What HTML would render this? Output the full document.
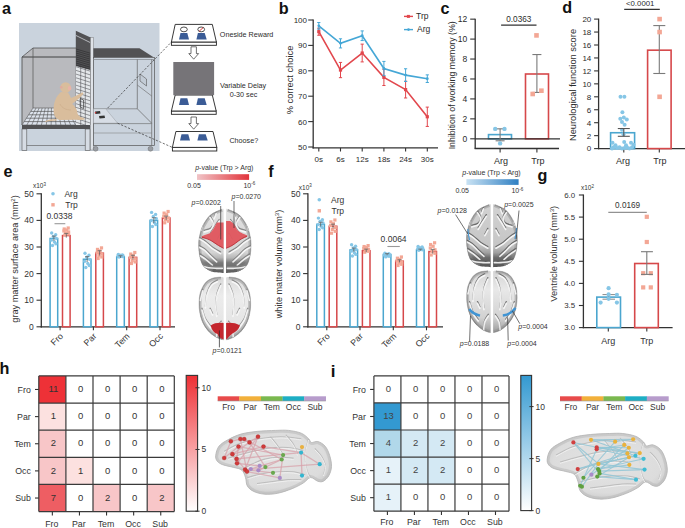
<!DOCTYPE html>
<html><head><meta charset="utf-8"><title>Figure</title>
<style>
html,body{margin:0;padding:0;background:#fff;}
body{width:685px;height:528px;overflow:hidden;}
svg{display:block;font-family:"Liberation Sans", sans-serif;}
</style></head>
<body>
<svg width="685" height="528" viewBox="0 0 685 528">
<rect x="0" y="0" width="685" height="528" fill="#ffffff"/>
<text x="2.00" y="13.60" font-size="16.2" text-anchor="start" fill="#111" font-weight="bold">a</text>
<rect x="19.00" y="23.00" width="140.50" height="128.00" fill="#cad3dd" stroke="none" stroke-width="1"/>
<rect x="33.00" y="48.00" width="43.00" height="60.00" fill="#b9babe" stroke="none" stroke-width="1"/>
<polygon points="22.00,57.00 33.00,48.00 33.00,108.00 22.00,125.00" fill="#b9babe" stroke="none" stroke-width="1"/>
<line x1="22.00" y1="57.00" x2="76.00" y2="57.00" stroke="#333" stroke-width="0.9"/>
<line x1="33.00" y1="48.00" x2="76.00" y2="48.00" stroke="#444" stroke-width="0.7"/>
<line x1="22.00" y1="57.00" x2="33.00" y2="48.00" stroke="#444" stroke-width="0.7"/>
<line x1="33.00" y1="48.00" x2="33.00" y2="108.00" stroke="#555" stroke-width="0.7"/>
<line x1="22.00" y1="57.00" x2="22.00" y2="125.00" stroke="#555" stroke-width="0.9"/>
<polygon points="33.00,108.00 76.00,108.00 90.00,125.00 22.00,125.00" fill="#dde3ec" stroke="#555" stroke-width="0.6"/>
<line x1="30.80" y1="111.40" x2="78.80" y2="111.40" stroke="#555" stroke-width="0.7"/>
<line x1="28.60" y1="114.80" x2="81.60" y2="114.80" stroke="#555" stroke-width="0.7"/>
<line x1="26.40" y1="118.20" x2="84.40" y2="118.20" stroke="#555" stroke-width="0.7"/>
<line x1="24.20" y1="121.60" x2="87.20" y2="121.60" stroke="#555" stroke-width="0.7"/>
<line x1="36.07" y1="108.00" x2="26.86" y2="125.00" stroke="#555" stroke-width="0.6"/>
<line x1="39.14" y1="108.00" x2="31.71" y2="125.00" stroke="#555" stroke-width="0.6"/>
<line x1="42.21" y1="108.00" x2="36.57" y2="125.00" stroke="#555" stroke-width="0.6"/>
<line x1="45.29" y1="108.00" x2="41.43" y2="125.00" stroke="#555" stroke-width="0.6"/>
<line x1="48.36" y1="108.00" x2="46.29" y2="125.00" stroke="#555" stroke-width="0.6"/>
<line x1="51.43" y1="108.00" x2="51.14" y2="125.00" stroke="#555" stroke-width="0.6"/>
<line x1="54.50" y1="108.00" x2="56.00" y2="125.00" stroke="#555" stroke-width="0.6"/>
<line x1="57.57" y1="108.00" x2="60.86" y2="125.00" stroke="#555" stroke-width="0.6"/>
<line x1="60.64" y1="108.00" x2="65.71" y2="125.00" stroke="#555" stroke-width="0.6"/>
<line x1="63.71" y1="108.00" x2="70.57" y2="125.00" stroke="#555" stroke-width="0.6"/>
<line x1="66.79" y1="108.00" x2="75.43" y2="125.00" stroke="#555" stroke-width="0.6"/>
<line x1="69.86" y1="108.00" x2="80.29" y2="125.00" stroke="#555" stroke-width="0.6"/>
<line x1="72.93" y1="108.00" x2="85.14" y2="125.00" stroke="#555" stroke-width="0.6"/>
<rect x="22.00" y="125.00" width="68.00" height="4.00" fill="#525254" stroke="none" stroke-width="1"/>
<rect x="22.00" y="129.00" width="4.80" height="21.50" fill="#d6dce4" stroke="#555" stroke-width="0.6"/>
<rect x="85.20" y="129.00" width="4.80" height="21.50" fill="#d6dce4" stroke="#555" stroke-width="0.6"/>
<line x1="26.80" y1="145.50" x2="85.20" y2="145.50" stroke="#555" stroke-width="0.6"/>
<polygon points="75.80,30.70 90.60,37.50 90.60,125.00 75.80,125.00" fill="#525254" stroke="none" stroke-width="1"/>
<polygon points="76.00,66.00 90.30,70.00 90.30,125.00 76.00,125.00" fill="#e4e7ea" stroke="none" stroke-width="1"/>
<line x1="76.00" y1="63.00" x2="90.30" y2="67.50" stroke="#4a4a4e" stroke-width="0.55"/>
<line x1="76.00" y1="66.70" x2="90.30" y2="71.20" stroke="#4a4a4e" stroke-width="0.55"/>
<line x1="76.00" y1="70.40" x2="90.30" y2="74.90" stroke="#4a4a4e" stroke-width="0.55"/>
<line x1="76.00" y1="74.10" x2="90.30" y2="78.60" stroke="#4a4a4e" stroke-width="0.55"/>
<line x1="76.00" y1="77.80" x2="90.30" y2="82.30" stroke="#4a4a4e" stroke-width="0.55"/>
<line x1="76.00" y1="81.50" x2="90.30" y2="86.00" stroke="#4a4a4e" stroke-width="0.55"/>
<line x1="76.00" y1="85.20" x2="90.30" y2="89.70" stroke="#4a4a4e" stroke-width="0.55"/>
<line x1="76.00" y1="88.90" x2="90.30" y2="93.40" stroke="#4a4a4e" stroke-width="0.55"/>
<line x1="76.00" y1="92.60" x2="90.30" y2="97.10" stroke="#4a4a4e" stroke-width="0.55"/>
<line x1="76.00" y1="96.30" x2="90.30" y2="100.80" stroke="#4a4a4e" stroke-width="0.55"/>
<line x1="76.00" y1="100.00" x2="90.30" y2="104.50" stroke="#4a4a4e" stroke-width="0.55"/>
<line x1="76.00" y1="103.70" x2="90.30" y2="108.20" stroke="#4a4a4e" stroke-width="0.55"/>
<line x1="76.00" y1="107.40" x2="90.30" y2="111.90" stroke="#4a4a4e" stroke-width="0.55"/>
<line x1="76.00" y1="111.10" x2="90.30" y2="115.60" stroke="#4a4a4e" stroke-width="0.55"/>
<line x1="76.00" y1="114.80" x2="90.30" y2="119.30" stroke="#4a4a4e" stroke-width="0.55"/>
<line x1="76.00" y1="118.50" x2="90.30" y2="123.00" stroke="#4a4a4e" stroke-width="0.55"/>
<line x1="76.00" y1="122.20" x2="90.30" y2="126.70" stroke="#4a4a4e" stroke-width="0.55"/>
<line x1="80.70" y1="64.00" x2="80.70" y2="125.00" stroke="#4a4a4e" stroke-width="0.55"/>
<line x1="85.30" y1="66.00" x2="85.30" y2="125.00" stroke="#4a4a4e" stroke-width="0.55"/>
<line x1="76.00" y1="49.00" x2="90.30" y2="53.20" stroke="#2a2a2c" stroke-width="0.6"/>
<line x1="76.00" y1="51.00" x2="90.30" y2="55.20" stroke="#2a2a2c" stroke-width="0.6"/>
<line x1="76.00" y1="53.00" x2="90.30" y2="57.20" stroke="#2a2a2c" stroke-width="0.6"/>
<line x1="76.00" y1="55.00" x2="90.30" y2="59.20" stroke="#2a2a2c" stroke-width="0.6"/>
<line x1="76.00" y1="57.00" x2="90.30" y2="61.20" stroke="#2a2a2c" stroke-width="0.6"/>
<line x1="76.00" y1="59.00" x2="90.30" y2="63.20" stroke="#2a2a2c" stroke-width="0.6"/>
<line x1="76.00" y1="61.00" x2="90.30" y2="65.20" stroke="#2a2a2c" stroke-width="0.6"/>
<line x1="76.00" y1="63.00" x2="90.30" y2="67.20" stroke="#2a2a2c" stroke-width="0.6"/>
<line x1="76.00" y1="65.00" x2="90.30" y2="69.20" stroke="#2a2a2c" stroke-width="0.6"/>
<line x1="76.00" y1="35.50" x2="90.30" y2="42.60" stroke="#dfe3e8" stroke-width="0.7"/>
<polygon points="80.20,98.50 83.60,100.00 83.60,108.60 80.20,107.00" fill="none" stroke="#333" stroke-width="0.7"/>
<rect x="90.60" y="37.50" width="2.80" height="112.50" fill="#dfe3e8" stroke="#666" stroke-width="0.4"/>
<polygon points="93.40,48.30 139.50,48.30 154.00,57.40 93.40,57.40" fill="#525254" stroke="none" stroke-width="1"/>
<rect x="93.40" y="57.40" width="61.00" height="88.10" fill="#cad3dd" stroke="#555" stroke-width="0.7"/>
<line x1="93.40" y1="59.50" x2="154.40" y2="59.50" stroke="#8a8f96" stroke-width="0.8"/>
<line x1="137.30" y1="59.50" x2="137.30" y2="108.80" stroke="#666" stroke-width="0.7"/>
<line x1="151.70" y1="59.50" x2="151.70" y2="145.50" stroke="#666" stroke-width="0.7"/>
<line x1="137.30" y1="108.80" x2="151.70" y2="123.20" stroke="#666" stroke-width="0.7"/>
<line x1="137.30" y1="85.00" x2="151.70" y2="96.00" stroke="#666" stroke-width="0.6"/>
<polygon points="140.00,74.00 146.50,79.00 146.50,86.00 140.00,81.00" fill="#c3ccd6" stroke="#555" stroke-width="0.6"/>
<line x1="93.40" y1="108.80" x2="137.30" y2="108.80" stroke="#666" stroke-width="0.6"/>
<polygon points="93.40,108.80 105.70,108.80 117.60,123.20 93.40,123.20" fill="#d7dde5" stroke="#8a8f96" stroke-width="0.4"/>
<line x1="93.40" y1="123.60" x2="151.70" y2="123.60" stroke="#666" stroke-width="0.6"/>
<line x1="93.40" y1="133.00" x2="151.70" y2="133.00" stroke="#777" stroke-width="0.5"/>
<polygon points="95.00,111.50 100.00,111.00 100.50,113.50 95.50,114.00" fill="#333" stroke="none" stroke-width="1"/>
<circle cx="95.50" cy="112.70" r="0.80" fill="#d33"/>
<polygon points="99.00,116.00 104.50,115.50 105.00,118.00 99.50,118.50" fill="#333" stroke="none" stroke-width="1"/>
<circle cx="95.60" cy="148.80" r="2.40" fill="#9a9ea4" stroke="#666" stroke-width="0.5"/>
<circle cx="150.50" cy="148.80" r="2.40" fill="#9a9ea4" stroke="#666" stroke-width="0.5"/>
<path d="M61,92 C56,96 53.5,103 53.6,110 C53.7,116 56,119.5 60,120 L76,119.8 C79,120 82,120 84.8,119.6 L84.3,118.2 C81,117.5 79,116.5 77.6,114 C77.6,110 75,106 72,104 L79,98.5 C80.5,97 82,95.5 83.5,93.8 L82.6,92.2 C79,94 75,96.5 71,98 C70,96 69,94 68,92.5 Z" fill="#d9bd9c" stroke="none" stroke-width="1"/>
<path d="M56.5,119 C52,119.3 47.5,119.6 45,121.3 L45.8,122 C48.5,121.2 52,120.8 57,120.6 Z" fill="#d9bd9c" stroke="none" stroke-width="1"/>
<circle cx="65.60" cy="87.60" r="5.30" fill="#d9bd9c"/>
<ellipse cx="69.6" cy="88.2" rx="1.7" ry="2.2" fill="#eab3a6"/>
<circle cx="61.20" cy="87.20" r="1.30" fill="#e0ab9f"/>
<path d="M60,104 C62,108 66,110 71,110" fill="none" stroke="#c7a784" stroke-width="0.5"/>
<line x1="107.70" y1="108.00" x2="171.40" y2="42.00" stroke="#333" stroke-width="0.7" stroke-dasharray="2.2,1.6"/>
<line x1="117.60" y1="123.20" x2="172.40" y2="147.40" stroke="#333" stroke-width="0.7" stroke-dasharray="2.2,1.6"/>
<rect x="171.40" y="42.00" width="45.00" height="3.30" fill="#fff" stroke="#222" stroke-width="0.9"/>
<polygon points="175.20,24.40 212.30,24.40 216.40,42.00 171.40,42.00" fill="#fff" stroke="#222" stroke-width="0.9"/>
<polygon points="180.50,32.90 187.30,32.90 189.00,39.50 179.00,39.50" fill="#3b5c96" stroke="none" stroke-width="1"/>
<polygon points="197.90,32.90 204.70,32.90 206.70,39.50 196.40,39.50" fill="#3b5c96" stroke="none" stroke-width="1"/>
<ellipse cx="183.9" cy="29.4" rx="3.4" ry="2.4" fill="#fff" stroke="#222" stroke-width="0.8"/>
<ellipse cx="201.2" cy="29.4" rx="3.4" ry="2.4" fill="#fff" stroke="#222" stroke-width="0.8"/>
<line x1="199.20" y1="31.20" x2="203.20" y2="27.60" stroke="#d22" stroke-width="0.9"/>
<polygon points="191.00,46.80 196.40,46.80 196.40,53.60 198.60,53.60 193.70,59.20 188.80,53.60 191.00,53.60" fill="#fff" stroke="#333" stroke-width="0.7"/>
<rect x="171.40" y="111.00" width="44.80" height="3.30" fill="#fff" stroke="#222" stroke-width="0.9"/>
<polygon points="175.20,95.00 212.30,95.00 216.20,111.00 171.40,111.00" fill="#fff" stroke="#222" stroke-width="0.9"/>
<polygon points="180.50,98.20 187.30,98.20 189.00,105.00 179.00,105.00" fill="#3b5c96" stroke="none" stroke-width="1"/>
<polygon points="197.90,98.20 204.70,98.20 206.70,105.00 196.40,105.00" fill="#3b5c96" stroke="none" stroke-width="1"/>
<rect x="173.30" y="62.00" width="40.80" height="33.20" fill="#767478" stroke="none" stroke-width="1"/>
<polygon points="191.00,117.00 196.40,117.00 196.40,123.60 198.60,123.60 193.70,129.20 188.80,123.60 191.00,123.60" fill="#fff" stroke="#333" stroke-width="0.7"/>
<rect x="172.40" y="147.40" width="44.40" height="3.60" fill="#fff" stroke="#222" stroke-width="0.9"/>
<polygon points="175.90,131.50 213.00,131.50 216.80,147.40 172.40,147.40" fill="#fff" stroke="#222" stroke-width="0.9"/>
<polygon points="181.50,134.20 188.30,134.20 190.00,140.60 180.00,140.60" fill="#3b5c96" stroke="none" stroke-width="1"/>
<polygon points="198.90,134.20 205.70,134.20 207.70,140.60 197.40,140.60" fill="#3b5c96" stroke="none" stroke-width="1"/>
<text x="219.80" y="36.80" font-size="7.2" text-anchor="start" fill="#2b2b2b" font-weight="normal">Oneside Reward</text>
<text x="243.00" y="88.20" font-size="7.2" text-anchor="middle" fill="#2b2b2b" font-weight="normal">Variable Delay</text>
<text x="243.50" y="96.60" font-size="7.2" text-anchor="middle" fill="#2b2b2b" font-weight="normal">0-30 sec</text>
<text x="243.80" y="142.60" font-size="7.2" text-anchor="middle" fill="#2b2b2b" font-weight="normal">Choose?</text>
<text x="278.80" y="13.80" font-size="16.2" text-anchor="start" fill="#111" font-weight="bold">b</text>
<line x1="313.20" y1="19.50" x2="313.20" y2="148.50" stroke="#333333" stroke-width="1.3"/>
<line x1="312.50" y1="147.90" x2="438.00" y2="147.90" stroke="#333333" stroke-width="1.3"/>
<line x1="308.20" y1="147.00" x2="313.20" y2="147.00" stroke="#333333" stroke-width="1.1"/>
<text x="307.00" y="149.90" font-size="8" text-anchor="end" fill="#2b2b2b" font-weight="normal">50</text>
<line x1="308.20" y1="121.60" x2="313.20" y2="121.60" stroke="#333333" stroke-width="1.1"/>
<text x="307.00" y="124.50" font-size="8" text-anchor="end" fill="#2b2b2b" font-weight="normal">60</text>
<line x1="308.20" y1="96.20" x2="313.20" y2="96.20" stroke="#333333" stroke-width="1.1"/>
<text x="307.00" y="99.10" font-size="8" text-anchor="end" fill="#2b2b2b" font-weight="normal">70</text>
<line x1="308.20" y1="70.80" x2="313.20" y2="70.80" stroke="#333333" stroke-width="1.1"/>
<text x="307.00" y="73.70" font-size="8" text-anchor="end" fill="#2b2b2b" font-weight="normal">80</text>
<line x1="308.20" y1="45.40" x2="313.20" y2="45.40" stroke="#333333" stroke-width="1.1"/>
<text x="307.00" y="48.30" font-size="8" text-anchor="end" fill="#2b2b2b" font-weight="normal">90</text>
<line x1="308.20" y1="20.00" x2="313.20" y2="20.00" stroke="#333333" stroke-width="1.1"/>
<text x="307.00" y="22.90" font-size="8" text-anchor="end" fill="#2b2b2b" font-weight="normal">100</text>
<line x1="318.80" y1="147.90" x2="318.80" y2="151.50" stroke="#333333" stroke-width="1.1"/>
<text x="318.80" y="162.00" font-size="8" text-anchor="middle" fill="#2b2b2b" font-weight="normal">0s</text>
<line x1="340.50" y1="147.90" x2="340.50" y2="151.50" stroke="#333333" stroke-width="1.1"/>
<text x="340.50" y="162.00" font-size="8" text-anchor="middle" fill="#2b2b2b" font-weight="normal">6s</text>
<line x1="362.20" y1="147.90" x2="362.20" y2="151.50" stroke="#333333" stroke-width="1.1"/>
<text x="362.20" y="162.00" font-size="8" text-anchor="middle" fill="#2b2b2b" font-weight="normal">12s</text>
<line x1="383.90" y1="147.90" x2="383.90" y2="151.50" stroke="#333333" stroke-width="1.1"/>
<text x="383.90" y="162.00" font-size="8" text-anchor="middle" fill="#2b2b2b" font-weight="normal">18s</text>
<line x1="405.60" y1="147.90" x2="405.60" y2="151.50" stroke="#333333" stroke-width="1.1"/>
<text x="405.60" y="162.00" font-size="8" text-anchor="middle" fill="#2b2b2b" font-weight="normal">24s</text>
<line x1="427.30" y1="147.90" x2="427.30" y2="151.50" stroke="#333333" stroke-width="1.1"/>
<text x="427.30" y="162.00" font-size="8" text-anchor="middle" fill="#2b2b2b" font-weight="normal">30s</text>
<text x="293.40" y="80.00" font-size="9.3" text-anchor="middle" fill="#2b2b2b" font-weight="normal" transform="rotate(-90 293.4 80)">% correct choice</text>
<polyline points="318.80,31.68 340.50,70.04 362.20,53.02 383.90,77.40 405.60,89.60 427.30,116.77" fill="none" stroke="#e2474d" stroke-width="1.6"/>
<line x1="318.80" y1="28.13" x2="318.80" y2="35.24" stroke="#e2474d" stroke-width="1"/>
<line x1="317.20" y1="28.13" x2="320.40" y2="28.13" stroke="#e2474d" stroke-width="1"/>
<line x1="317.20" y1="35.24" x2="320.40" y2="35.24" stroke="#e2474d" stroke-width="1"/>
<rect x="317.20" y="30.08" width="3.20" height="3.20" fill="#e2474d" stroke="none" stroke-width="1"/>
<line x1="340.50" y1="62.42" x2="340.50" y2="77.66" stroke="#e2474d" stroke-width="1"/>
<line x1="338.90" y1="62.42" x2="342.10" y2="62.42" stroke="#e2474d" stroke-width="1"/>
<line x1="338.90" y1="77.66" x2="342.10" y2="77.66" stroke="#e2474d" stroke-width="1"/>
<rect x="338.90" y="68.44" width="3.20" height="3.20" fill="#e2474d" stroke="none" stroke-width="1"/>
<line x1="362.20" y1="44.13" x2="362.20" y2="61.91" stroke="#e2474d" stroke-width="1"/>
<line x1="360.60" y1="44.13" x2="363.80" y2="44.13" stroke="#e2474d" stroke-width="1"/>
<line x1="360.60" y1="61.91" x2="363.80" y2="61.91" stroke="#e2474d" stroke-width="1"/>
<rect x="360.60" y="51.42" width="3.20" height="3.20" fill="#e2474d" stroke="none" stroke-width="1"/>
<line x1="383.90" y1="69.28" x2="383.90" y2="85.53" stroke="#e2474d" stroke-width="1"/>
<line x1="382.30" y1="69.28" x2="385.50" y2="69.28" stroke="#e2474d" stroke-width="1"/>
<line x1="382.30" y1="85.53" x2="385.50" y2="85.53" stroke="#e2474d" stroke-width="1"/>
<rect x="382.30" y="75.80" width="3.20" height="3.20" fill="#e2474d" stroke="none" stroke-width="1"/>
<line x1="405.60" y1="81.21" x2="405.60" y2="97.98" stroke="#e2474d" stroke-width="1"/>
<line x1="404.00" y1="81.21" x2="407.20" y2="81.21" stroke="#e2474d" stroke-width="1"/>
<line x1="404.00" y1="97.98" x2="407.20" y2="97.98" stroke="#e2474d" stroke-width="1"/>
<rect x="404.00" y="88.00" width="3.20" height="3.20" fill="#e2474d" stroke="none" stroke-width="1"/>
<line x1="427.30" y1="107.12" x2="427.30" y2="126.43" stroke="#e2474d" stroke-width="1"/>
<line x1="425.70" y1="107.12" x2="428.90" y2="107.12" stroke="#e2474d" stroke-width="1"/>
<line x1="425.70" y1="126.43" x2="428.90" y2="126.43" stroke="#e2474d" stroke-width="1"/>
<rect x="425.70" y="115.17" width="3.20" height="3.20" fill="#e2474d" stroke="none" stroke-width="1"/>
<polyline points="318.80,25.84 340.50,43.37 362.20,35.75 383.90,68.51 405.60,75.12 427.30,78.67" fill="none" stroke="#45a7d6" stroke-width="1.6"/>
<line x1="318.80" y1="22.54" x2="318.80" y2="29.14" stroke="#45a7d6" stroke-width="1"/>
<line x1="317.20" y1="22.54" x2="320.40" y2="22.54" stroke="#45a7d6" stroke-width="1"/>
<line x1="317.20" y1="29.14" x2="320.40" y2="29.14" stroke="#45a7d6" stroke-width="1"/>
<circle cx="318.80" cy="25.84" r="1.40" fill="#45a7d6"/>
<line x1="340.50" y1="38.80" x2="340.50" y2="47.94" stroke="#45a7d6" stroke-width="1"/>
<line x1="338.90" y1="38.80" x2="342.10" y2="38.80" stroke="#45a7d6" stroke-width="1"/>
<line x1="338.90" y1="47.94" x2="342.10" y2="47.94" stroke="#45a7d6" stroke-width="1"/>
<circle cx="340.50" cy="43.37" r="1.40" fill="#45a7d6"/>
<line x1="362.20" y1="30.92" x2="362.20" y2="40.57" stroke="#45a7d6" stroke-width="1"/>
<line x1="360.60" y1="30.92" x2="363.80" y2="30.92" stroke="#45a7d6" stroke-width="1"/>
<line x1="360.60" y1="40.57" x2="363.80" y2="40.57" stroke="#45a7d6" stroke-width="1"/>
<circle cx="362.20" cy="35.75" r="1.40" fill="#45a7d6"/>
<line x1="383.90" y1="61.40" x2="383.90" y2="75.63" stroke="#45a7d6" stroke-width="1"/>
<line x1="382.30" y1="61.40" x2="385.50" y2="61.40" stroke="#45a7d6" stroke-width="1"/>
<line x1="382.30" y1="75.63" x2="385.50" y2="75.63" stroke="#45a7d6" stroke-width="1"/>
<circle cx="383.90" cy="68.51" r="1.40" fill="#45a7d6"/>
<line x1="405.60" y1="68.77" x2="405.60" y2="81.47" stroke="#45a7d6" stroke-width="1"/>
<line x1="404.00" y1="68.77" x2="407.20" y2="68.77" stroke="#45a7d6" stroke-width="1"/>
<line x1="404.00" y1="81.47" x2="407.20" y2="81.47" stroke="#45a7d6" stroke-width="1"/>
<circle cx="405.60" cy="75.12" r="1.40" fill="#45a7d6"/>
<line x1="427.30" y1="74.86" x2="427.30" y2="82.48" stroke="#45a7d6" stroke-width="1"/>
<line x1="425.70" y1="74.86" x2="428.90" y2="74.86" stroke="#45a7d6" stroke-width="1"/>
<line x1="425.70" y1="82.48" x2="428.90" y2="82.48" stroke="#45a7d6" stroke-width="1"/>
<circle cx="427.30" cy="78.67" r="1.40" fill="#45a7d6"/>
<line x1="404.00" y1="16.40" x2="413.00" y2="16.40" stroke="#e2474d" stroke-width="1.4"/>
<rect x="406.90" y="14.90" width="3.00" height="3.00" fill="#e2474d" stroke="none" stroke-width="1"/>
<text x="416.00" y="18.90" font-size="8.5" text-anchor="start" fill="#2b2b2b" font-weight="normal">Trp</text>
<line x1="404.00" y1="29.60" x2="413.00" y2="29.60" stroke="#45a7d6" stroke-width="1.4"/>
<circle cx="408.50" cy="29.60" r="1.30" fill="#45a7d6"/>
<text x="417.00" y="31.60" font-size="8.5" text-anchor="start" fill="#2b2b2b" font-weight="normal">Arg</text>
<text x="440.50" y="13.80" font-size="16.2" text-anchor="start" fill="#111" font-weight="bold">c</text>
<line x1="475.20" y1="18.66" x2="475.20" y2="148.80" stroke="#333333" stroke-width="1.3"/>
<line x1="474.60" y1="148.50" x2="559.00" y2="148.50" stroke="#333333" stroke-width="1.3"/>
<line x1="470.20" y1="138.80" x2="475.20" y2="138.80" stroke="#333333" stroke-width="1.1"/>
<text x="467.20" y="141.80" font-size="8.5" text-anchor="end" fill="#2b2b2b" font-weight="normal">0</text>
<line x1="470.20" y1="118.86" x2="475.20" y2="118.86" stroke="#333333" stroke-width="1.1"/>
<text x="467.20" y="121.86" font-size="8.5" text-anchor="end" fill="#2b2b2b" font-weight="normal">2</text>
<line x1="470.20" y1="98.92" x2="475.20" y2="98.92" stroke="#333333" stroke-width="1.1"/>
<text x="467.20" y="101.92" font-size="8.5" text-anchor="end" fill="#2b2b2b" font-weight="normal">4</text>
<line x1="470.20" y1="78.98" x2="475.20" y2="78.98" stroke="#333333" stroke-width="1.1"/>
<text x="467.20" y="81.98" font-size="8.5" text-anchor="end" fill="#2b2b2b" font-weight="normal">6</text>
<line x1="470.20" y1="59.04" x2="475.20" y2="59.04" stroke="#333333" stroke-width="1.1"/>
<text x="467.20" y="62.04" font-size="8.5" text-anchor="end" fill="#2b2b2b" font-weight="normal">8</text>
<line x1="470.20" y1="39.10" x2="475.20" y2="39.10" stroke="#333333" stroke-width="1.1"/>
<text x="467.20" y="42.10" font-size="8.5" text-anchor="end" fill="#2b2b2b" font-weight="normal">10</text>
<line x1="470.20" y1="19.16" x2="475.20" y2="19.16" stroke="#333333" stroke-width="1.1"/>
<text x="467.20" y="22.16" font-size="8.5" text-anchor="end" fill="#2b2b2b" font-weight="normal">12</text>
<line x1="500.10" y1="148.50" x2="500.10" y2="152.50" stroke="#333333" stroke-width="1.1"/>
<text x="501.10" y="164.00" font-size="9" text-anchor="middle" fill="#2b2b2b" font-weight="normal">Arg</text>
<line x1="536.90" y1="148.50" x2="536.90" y2="152.50" stroke="#333333" stroke-width="1.1"/>
<text x="537.90" y="164.00" font-size="9" text-anchor="middle" fill="#2b2b2b" font-weight="normal">Trp</text>
<text x="455.30" y="85.30" font-size="8.8" text-anchor="middle" fill="#2b2b2b" font-weight="normal" transform="rotate(-90 455.3 85.3)">Inhibition of working memory (%)</text>
<rect x="488.50" y="134.61" width="23.00" height="4.19" fill="none" stroke="#4ba6cf" stroke-width="1.6"/>
<rect x="525.50" y="74.00" width="23.00" height="64.81" fill="none" stroke="#d6484a" stroke-width="1.6"/>
<line x1="475.20" y1="138.80" x2="560.00" y2="138.80" stroke="#333333" stroke-width="1.3"/>
<line x1="500.10" y1="128.83" x2="500.10" y2="140.79" stroke="#7a7a7a" stroke-width="1.1"/>
<line x1="495.60" y1="128.83" x2="504.60" y2="128.83" stroke="#7a7a7a" stroke-width="1.1"/>
<line x1="495.60" y1="140.79" x2="504.60" y2="140.79" stroke="#7a7a7a" stroke-width="1.1"/>
<line x1="536.90" y1="54.55" x2="536.90" y2="92.44" stroke="#7a7a7a" stroke-width="1.1"/>
<line x1="532.40" y1="54.55" x2="541.40" y2="54.55" stroke="#7a7a7a" stroke-width="1.1"/>
<line x1="532.40" y1="92.44" x2="541.40" y2="92.44" stroke="#7a7a7a" stroke-width="1.1"/>
<circle cx="495.20" cy="128.90" r="2.20" fill="#86c6e6"/>
<circle cx="504.50" cy="128.90" r="2.20" fill="#86c6e6"/>
<circle cx="500.10" cy="143.40" r="2.20" fill="#86c6e6"/>
<rect x="534.20" y="33.10" width="4.60" height="4.60" fill="#f3a795" stroke="none" stroke-width="1"/>
<rect x="530.40" y="91.70" width="4.60" height="4.60" fill="#f3a795" stroke="none" stroke-width="1"/>
<rect x="539.10" y="88.40" width="4.60" height="4.60" fill="#f3a795" stroke="none" stroke-width="1"/>
<line x1="501.10" y1="25.10" x2="536.50" y2="25.10" stroke="#333333" stroke-width="1.2"/>
<text x="518.80" y="21.60" font-size="8.2" text-anchor="middle" fill="#2b2b2b" font-weight="normal">0.0363</text>
<text x="562.30" y="13.00" font-size="16.2" text-anchor="start" fill="#111" font-weight="bold">d</text>
<line x1="598.60" y1="18.60" x2="598.60" y2="149.20" stroke="#333333" stroke-width="1.3"/>
<line x1="598.00" y1="148.60" x2="685.00" y2="148.60" stroke="#333333" stroke-width="1.3"/>
<line x1="594.10" y1="148.60" x2="598.60" y2="148.60" stroke="#333333" stroke-width="1.1"/>
<text x="591.30" y="151.45" font-size="8" text-anchor="end" fill="#2b2b2b" font-weight="normal">0</text>
<line x1="594.10" y1="135.65" x2="598.60" y2="135.65" stroke="#333333" stroke-width="1.1"/>
<text x="591.30" y="138.50" font-size="8" text-anchor="end" fill="#2b2b2b" font-weight="normal">2</text>
<line x1="594.10" y1="122.70" x2="598.60" y2="122.70" stroke="#333333" stroke-width="1.1"/>
<text x="591.30" y="125.55" font-size="8" text-anchor="end" fill="#2b2b2b" font-weight="normal">4</text>
<line x1="594.10" y1="109.75" x2="598.60" y2="109.75" stroke="#333333" stroke-width="1.1"/>
<text x="591.30" y="112.60" font-size="8" text-anchor="end" fill="#2b2b2b" font-weight="normal">6</text>
<line x1="594.10" y1="96.80" x2="598.60" y2="96.80" stroke="#333333" stroke-width="1.1"/>
<text x="591.30" y="99.65" font-size="8" text-anchor="end" fill="#2b2b2b" font-weight="normal">8</text>
<line x1="594.10" y1="83.85" x2="598.60" y2="83.85" stroke="#333333" stroke-width="1.1"/>
<text x="591.30" y="86.70" font-size="8" text-anchor="end" fill="#2b2b2b" font-weight="normal">10</text>
<line x1="594.10" y1="70.90" x2="598.60" y2="70.90" stroke="#333333" stroke-width="1.1"/>
<text x="591.30" y="73.75" font-size="8" text-anchor="end" fill="#2b2b2b" font-weight="normal">12</text>
<line x1="594.10" y1="57.95" x2="598.60" y2="57.95" stroke="#333333" stroke-width="1.1"/>
<text x="591.30" y="60.80" font-size="8" text-anchor="end" fill="#2b2b2b" font-weight="normal">14</text>
<line x1="594.10" y1="45.00" x2="598.60" y2="45.00" stroke="#333333" stroke-width="1.1"/>
<text x="591.30" y="47.85" font-size="8" text-anchor="end" fill="#2b2b2b" font-weight="normal">16</text>
<line x1="594.10" y1="32.05" x2="598.60" y2="32.05" stroke="#333333" stroke-width="1.1"/>
<text x="591.30" y="34.90" font-size="8" text-anchor="end" fill="#2b2b2b" font-weight="normal">18</text>
<line x1="594.10" y1="19.10" x2="598.60" y2="19.10" stroke="#333333" stroke-width="1.1"/>
<text x="591.30" y="21.95" font-size="8" text-anchor="end" fill="#2b2b2b" font-weight="normal">20</text>
<line x1="623.80" y1="148.60" x2="623.80" y2="152.60" stroke="#333333" stroke-width="1.1"/>
<text x="623.10" y="163.80" font-size="9" text-anchor="middle" fill="#2b2b2b" font-weight="normal">Arg</text>
<line x1="659.30" y1="148.60" x2="659.30" y2="152.60" stroke="#333333" stroke-width="1.1"/>
<text x="659.90" y="163.80" font-size="9" text-anchor="middle" fill="#2b2b2b" font-weight="normal">Trp</text>
<text x="576.30" y="85.00" font-size="9.3" text-anchor="middle" fill="#2b2b2b" font-weight="normal" transform="rotate(-90 576.3 85)">Neurological function score</text>
<rect x="610.60" y="132.74" width="24.00" height="15.86" fill="none" stroke="#4ba6cf" stroke-width="1.6"/>
<rect x="647.60" y="50.18" width="23.50" height="98.42" fill="none" stroke="#d6484a" stroke-width="1.6"/>
<circle cx="620.50" cy="96.80" r="2.00" fill="#86c6e6"/>
<circle cx="624.40" cy="96.80" r="2.00" fill="#86c6e6"/>
<circle cx="622.40" cy="112.34" r="2.00" fill="#86c6e6"/>
<circle cx="620.30" cy="118.81" r="2.00" fill="#86c6e6"/>
<circle cx="623.80" cy="117.52" r="2.00" fill="#86c6e6"/>
<circle cx="626.80" cy="119.46" r="2.00" fill="#86c6e6"/>
<circle cx="622.00" cy="122.05" r="2.00" fill="#86c6e6"/>
<circle cx="624.60" cy="124.64" r="2.00" fill="#86c6e6"/>
<circle cx="622.00" cy="129.82" r="2.00" fill="#86c6e6"/>
<circle cx="623.50" cy="134.35" r="2.00" fill="#86c6e6"/>
<circle cx="624.20" cy="142.12" r="2.00" fill="#86c6e6"/>
<circle cx="612.50" cy="142.77" r="2.00" fill="#86c6e6"/>
<circle cx="615.50" cy="145.36" r="2.00" fill="#86c6e6"/>
<circle cx="613.50" cy="147.31" r="2.00" fill="#86c6e6"/>
<circle cx="617.00" cy="147.95" r="2.00" fill="#86c6e6"/>
<circle cx="619.50" cy="147.31" r="2.00" fill="#86c6e6"/>
<circle cx="622.00" cy="148.60" r="2.00" fill="#86c6e6"/>
<circle cx="624.50" cy="147.95" r="2.00" fill="#86c6e6"/>
<circle cx="627.00" cy="147.31" r="2.00" fill="#86c6e6"/>
<circle cx="629.50" cy="148.60" r="2.00" fill="#86c6e6"/>
<circle cx="632.00" cy="147.31" r="2.00" fill="#86c6e6"/>
<circle cx="633.50" cy="144.72" r="2.00" fill="#86c6e6"/>
<circle cx="631.00" cy="142.77" r="2.00" fill="#86c6e6"/>
<circle cx="612.00" cy="148.60" r="2.00" fill="#86c6e6"/>
<circle cx="626.00" cy="145.36" r="2.00" fill="#86c6e6"/>
<line x1="623.80" y1="128.53" x2="623.80" y2="136.30" stroke="#555" stroke-width="1.1"/>
<line x1="617.80" y1="128.53" x2="629.80" y2="128.53" stroke="#555" stroke-width="1.1"/>
<line x1="617.80" y1="136.30" x2="629.80" y2="136.30" stroke="#555" stroke-width="1.1"/>
<line x1="659.30" y1="25.58" x2="659.30" y2="73.49" stroke="#7a7a7a" stroke-width="1.1"/>
<line x1="653.30" y1="25.58" x2="665.30" y2="25.58" stroke="#7a7a7a" stroke-width="1.1"/>
<line x1="653.30" y1="73.49" x2="665.30" y2="73.49" stroke="#7a7a7a" stroke-width="1.1"/>
<rect x="657.30" y="16.80" width="4.60" height="4.60" fill="#f3a795" stroke="none" stroke-width="1"/>
<rect x="657.30" y="29.75" width="4.60" height="4.60" fill="#f3a795" stroke="none" stroke-width="1"/>
<rect x="657.30" y="94.50" width="4.60" height="4.60" fill="#f3a795" stroke="none" stroke-width="1"/>
<line x1="624.20" y1="9.30" x2="659.80" y2="9.30" stroke="#333333" stroke-width="1.2"/>
<text x="640.20" y="6.20" font-size="7.8" text-anchor="middle" fill="#2b2b2b" font-weight="normal">&lt;0.0001</text>
<text x="3.50" y="177.00" font-size="16.2" text-anchor="start" fill="#111" font-weight="bold">e</text>
<line x1="41.30" y1="193.30" x2="41.30" y2="327.40" stroke="#333333" stroke-width="1.3"/>
<line x1="40.70" y1="326.80" x2="175.00" y2="326.80" stroke="#333333" stroke-width="1.3"/>
<line x1="36.50" y1="326.80" x2="41.30" y2="326.80" stroke="#333333" stroke-width="1.1"/>
<text x="33.80" y="329.80" font-size="8.5" text-anchor="end" fill="#333" font-weight="normal">0</text>
<line x1="36.50" y1="300.20" x2="41.30" y2="300.20" stroke="#333333" stroke-width="1.1"/>
<text x="33.80" y="303.20" font-size="8.5" text-anchor="end" fill="#333" font-weight="normal">10</text>
<line x1="36.50" y1="273.60" x2="41.30" y2="273.60" stroke="#333333" stroke-width="1.1"/>
<text x="33.80" y="276.60" font-size="8.5" text-anchor="end" fill="#333" font-weight="normal">20</text>
<line x1="36.50" y1="247.00" x2="41.30" y2="247.00" stroke="#333333" stroke-width="1.1"/>
<text x="33.80" y="250.00" font-size="8.5" text-anchor="end" fill="#333" font-weight="normal">30</text>
<line x1="36.50" y1="220.40" x2="41.30" y2="220.40" stroke="#333333" stroke-width="1.1"/>
<text x="33.80" y="223.40" font-size="8.5" text-anchor="end" fill="#333" font-weight="normal">40</text>
<line x1="36.50" y1="193.80" x2="41.30" y2="193.80" stroke="#333333" stroke-width="1.1"/>
<text x="33.80" y="196.80" font-size="8.5" text-anchor="end" fill="#333" font-weight="normal">50</text>
<line x1="60.10" y1="326.80" x2="60.10" y2="330.30" stroke="#333333" stroke-width="1.1"/>
<line x1="93.40" y1="326.80" x2="93.40" y2="330.30" stroke="#333333" stroke-width="1.1"/>
<line x1="126.70" y1="326.80" x2="126.70" y2="330.30" stroke="#333333" stroke-width="1.1"/>
<line x1="160.00" y1="326.80" x2="160.00" y2="330.30" stroke="#333333" stroke-width="1.1"/>
<rect x="50.10" y="238.49" width="7.60" height="88.31" fill="#fff" stroke="#4ba6cf" stroke-width="1.5"/>
<rect x="62.50" y="235.56" width="7.60" height="91.24" fill="#fff" stroke="#d6484a" stroke-width="1.5"/>
<circle cx="51.70" cy="233.00" r="1.70" fill="#86c6e6"/>
<circle cx="55.70" cy="234.79" r="1.70" fill="#86c6e6"/>
<circle cx="53.40" cy="236.57" r="1.70" fill="#86c6e6"/>
<circle cx="56.30" cy="238.36" r="1.70" fill="#86c6e6"/>
<circle cx="51.40" cy="240.14" r="1.70" fill="#86c6e6"/>
<circle cx="54.50" cy="241.93" r="1.70" fill="#86c6e6"/>
<circle cx="55.90" cy="243.71" r="1.70" fill="#86c6e6"/>
<circle cx="52.50" cy="245.50" r="1.70" fill="#86c6e6"/>
<rect x="66.60" y="226.40" width="3.20" height="3.20" fill="#f3a795" stroke="none" stroke-width="1"/>
<rect x="62.60" y="227.40" width="3.20" height="3.20" fill="#f3a795" stroke="none" stroke-width="1"/>
<rect x="65.10" y="228.40" width="3.20" height="3.20" fill="#f3a795" stroke="none" stroke-width="1"/>
<rect x="62.30" y="229.40" width="3.20" height="3.20" fill="#f3a795" stroke="none" stroke-width="1"/>
<rect x="67.00" y="230.40" width="3.20" height="3.20" fill="#f3a795" stroke="none" stroke-width="1"/>
<rect x="64.00" y="231.40" width="3.20" height="3.20" fill="#f3a795" stroke="none" stroke-width="1"/>
<rect x="66.90" y="232.40" width="3.20" height="3.20" fill="#f3a795" stroke="none" stroke-width="1"/>
<rect x="63.20" y="233.40" width="3.20" height="3.20" fill="#f3a795" stroke="none" stroke-width="1"/>
<line x1="53.90" y1="236.09" x2="53.90" y2="240.88" stroke="#666" stroke-width="0.8"/>
<line x1="51.90" y1="236.09" x2="55.90" y2="236.09" stroke="#666" stroke-width="0.8"/>
<line x1="66.30" y1="233.43" x2="66.30" y2="237.69" stroke="#666" stroke-width="0.8"/>
<line x1="64.30" y1="233.43" x2="68.30" y2="233.43" stroke="#666" stroke-width="0.8"/>
<rect x="83.40" y="259.24" width="7.60" height="67.56" fill="#fff" stroke="#4ba6cf" stroke-width="1.5"/>
<rect x="95.80" y="253.12" width="7.60" height="73.68" fill="#fff" stroke="#d6484a" stroke-width="1.5"/>
<circle cx="85.00" cy="253.20" r="1.70" fill="#86c6e6"/>
<circle cx="89.00" cy="255.24" r="1.70" fill="#86c6e6"/>
<circle cx="86.70" cy="257.29" r="1.70" fill="#86c6e6"/>
<circle cx="89.60" cy="259.33" r="1.70" fill="#86c6e6"/>
<circle cx="84.70" cy="261.37" r="1.70" fill="#86c6e6"/>
<circle cx="87.80" cy="263.41" r="1.70" fill="#86c6e6"/>
<circle cx="89.20" cy="265.46" r="1.70" fill="#86c6e6"/>
<circle cx="85.80" cy="267.50" r="1.70" fill="#86c6e6"/>
<rect x="99.90" y="246.30" width="3.20" height="3.20" fill="#f3a795" stroke="none" stroke-width="1"/>
<rect x="95.90" y="247.81" width="3.20" height="3.20" fill="#f3a795" stroke="none" stroke-width="1"/>
<rect x="98.40" y="249.33" width="3.20" height="3.20" fill="#f3a795" stroke="none" stroke-width="1"/>
<rect x="95.60" y="250.84" width="3.20" height="3.20" fill="#f3a795" stroke="none" stroke-width="1"/>
<rect x="100.30" y="252.36" width="3.20" height="3.20" fill="#f3a795" stroke="none" stroke-width="1"/>
<rect x="97.30" y="253.87" width="3.20" height="3.20" fill="#f3a795" stroke="none" stroke-width="1"/>
<rect x="100.20" y="255.39" width="3.20" height="3.20" fill="#f3a795" stroke="none" stroke-width="1"/>
<rect x="96.50" y="256.90" width="3.20" height="3.20" fill="#f3a795" stroke="none" stroke-width="1"/>
<line x1="87.20" y1="256.58" x2="87.20" y2="261.90" stroke="#666" stroke-width="0.8"/>
<line x1="85.20" y1="256.58" x2="89.20" y2="256.58" stroke="#666" stroke-width="0.8"/>
<line x1="99.60" y1="250.72" x2="99.60" y2="255.51" stroke="#666" stroke-width="0.8"/>
<line x1="97.60" y1="250.72" x2="101.60" y2="250.72" stroke="#666" stroke-width="0.8"/>
<rect x="116.70" y="256.84" width="7.60" height="69.96" fill="#fff" stroke="#4ba6cf" stroke-width="1.5"/>
<rect x="129.10" y="257.37" width="7.60" height="69.43" fill="#fff" stroke="#d6484a" stroke-width="1.5"/>
<circle cx="118.30" cy="254.50" r="1.70" fill="#86c6e6"/>
<circle cx="122.30" cy="254.86" r="1.70" fill="#86c6e6"/>
<circle cx="120.00" cy="255.21" r="1.70" fill="#86c6e6"/>
<circle cx="122.90" cy="255.57" r="1.70" fill="#86c6e6"/>
<circle cx="118.00" cy="255.93" r="1.70" fill="#86c6e6"/>
<circle cx="121.10" cy="256.29" r="1.70" fill="#86c6e6"/>
<circle cx="122.50" cy="256.64" r="1.70" fill="#86c6e6"/>
<circle cx="119.10" cy="257.00" r="1.70" fill="#86c6e6"/>
<rect x="133.20" y="250.90" width="3.20" height="3.20" fill="#f3a795" stroke="none" stroke-width="1"/>
<rect x="129.20" y="252.47" width="3.20" height="3.20" fill="#f3a795" stroke="none" stroke-width="1"/>
<rect x="131.70" y="254.04" width="3.20" height="3.20" fill="#f3a795" stroke="none" stroke-width="1"/>
<rect x="128.90" y="255.61" width="3.20" height="3.20" fill="#f3a795" stroke="none" stroke-width="1"/>
<rect x="133.60" y="257.19" width="3.20" height="3.20" fill="#f3a795" stroke="none" stroke-width="1"/>
<rect x="130.60" y="258.76" width="3.20" height="3.20" fill="#f3a795" stroke="none" stroke-width="1"/>
<rect x="133.50" y="260.33" width="3.20" height="3.20" fill="#f3a795" stroke="none" stroke-width="1"/>
<rect x="129.80" y="261.90" width="3.20" height="3.20" fill="#f3a795" stroke="none" stroke-width="1"/>
<line x1="120.50" y1="255.78" x2="120.50" y2="257.91" stroke="#666" stroke-width="0.8"/>
<line x1="118.50" y1="255.78" x2="122.50" y2="255.78" stroke="#666" stroke-width="0.8"/>
<line x1="132.90" y1="255.25" x2="132.90" y2="259.50" stroke="#666" stroke-width="0.8"/>
<line x1="130.90" y1="255.25" x2="134.90" y2="255.25" stroke="#666" stroke-width="0.8"/>
<rect x="150.00" y="220.40" width="7.60" height="106.40" fill="#fff" stroke="#4ba6cf" stroke-width="1.5"/>
<rect x="162.40" y="218.01" width="7.60" height="108.79" fill="#fff" stroke="#d6484a" stroke-width="1.5"/>
<circle cx="151.60" cy="212.40" r="1.70" fill="#86c6e6"/>
<circle cx="155.60" cy="214.41" r="1.70" fill="#86c6e6"/>
<circle cx="153.30" cy="216.43" r="1.70" fill="#86c6e6"/>
<circle cx="156.20" cy="218.44" r="1.70" fill="#86c6e6"/>
<circle cx="151.30" cy="220.46" r="1.70" fill="#86c6e6"/>
<circle cx="154.40" cy="222.47" r="1.70" fill="#86c6e6"/>
<circle cx="155.80" cy="224.49" r="1.70" fill="#86c6e6"/>
<circle cx="152.40" cy="226.50" r="1.70" fill="#86c6e6"/>
<rect x="166.50" y="209.90" width="3.20" height="3.20" fill="#f3a795" stroke="none" stroke-width="1"/>
<rect x="162.50" y="211.51" width="3.20" height="3.20" fill="#f3a795" stroke="none" stroke-width="1"/>
<rect x="165.00" y="213.13" width="3.20" height="3.20" fill="#f3a795" stroke="none" stroke-width="1"/>
<rect x="162.20" y="214.74" width="3.20" height="3.20" fill="#f3a795" stroke="none" stroke-width="1"/>
<rect x="166.90" y="216.36" width="3.20" height="3.20" fill="#f3a795" stroke="none" stroke-width="1"/>
<rect x="163.90" y="217.97" width="3.20" height="3.20" fill="#f3a795" stroke="none" stroke-width="1"/>
<rect x="166.80" y="219.59" width="3.20" height="3.20" fill="#f3a795" stroke="none" stroke-width="1"/>
<rect x="163.10" y="221.20" width="3.20" height="3.20" fill="#f3a795" stroke="none" stroke-width="1"/>
<line x1="153.80" y1="217.74" x2="153.80" y2="223.06" stroke="#666" stroke-width="0.8"/>
<line x1="151.80" y1="217.74" x2="155.80" y2="217.74" stroke="#666" stroke-width="0.8"/>
<line x1="166.20" y1="216.14" x2="166.20" y2="219.87" stroke="#666" stroke-width="0.8"/>
<line x1="164.20" y1="216.14" x2="168.20" y2="216.14" stroke="#666" stroke-width="0.8"/>
<text x="63.70" y="336.70" font-size="8.8" text-anchor="end" fill="#333" font-weight="normal" transform="rotate(-45 63.7 336.7)">Fro</text>
<text x="97.00" y="336.70" font-size="8.8" text-anchor="end" fill="#333" font-weight="normal" transform="rotate(-45 97.0 336.7)">Par</text>
<text x="130.30" y="336.70" font-size="8.8" text-anchor="end" fill="#333" font-weight="normal" transform="rotate(-45 130.3 336.7)">Tem</text>
<text x="163.60" y="336.70" font-size="8.8" text-anchor="end" fill="#333" font-weight="normal" transform="rotate(-45 163.6 336.7)">Occ</text>
<text x="33.00" y="188.30" font-size="6.5" text-anchor="start" fill="#333" font-weight="normal">x10<tspan font-size="4.5" dy="-2.6">3</tspan></text>
<circle cx="53.00" cy="193.80" r="1.80" fill="#86c6e6"/>
<text x="64.40" y="197.10" font-size="8.5" text-anchor="start" fill="#333" font-weight="normal">Arg</text>
<rect x="51.30" y="203.10" width="3.40" height="3.40" fill="#f3a795" stroke="none" stroke-width="1"/>
<text x="65.30" y="208.10" font-size="8.5" text-anchor="start" fill="#333" font-weight="normal">Trp</text>
<text x="59.40" y="218.60" font-size="8.5" text-anchor="middle" fill="#333" font-weight="normal">0.0338</text>
<line x1="54.50" y1="223.70" x2="65.30" y2="223.70" stroke="#999" stroke-width="1.1"/>
<text x="17.60" y="259.00" font-size="9.2" text-anchor="middle" fill="#333" font-weight="normal" transform="rotate(-90 17.6 259)">gray matter surface area (mm<tspan font-size="6" dy="-3">2</tspan><tspan dy="3">)</tspan></text>
<text x="268.30" y="177.00" font-size="16.2" text-anchor="start" fill="#111" font-weight="bold">f</text>
<line x1="307.90" y1="193.30" x2="307.90" y2="327.40" stroke="#333333" stroke-width="1.3"/>
<line x1="307.30" y1="326.80" x2="443.00" y2="326.80" stroke="#333333" stroke-width="1.3"/>
<line x1="303.10" y1="326.80" x2="307.90" y2="326.80" stroke="#333333" stroke-width="1.1"/>
<text x="300.40" y="329.80" font-size="8.5" text-anchor="end" fill="#333" font-weight="normal">0</text>
<line x1="303.10" y1="300.20" x2="307.90" y2="300.20" stroke="#333333" stroke-width="1.1"/>
<text x="300.40" y="303.20" font-size="8.5" text-anchor="end" fill="#333" font-weight="normal">10</text>
<line x1="303.10" y1="273.60" x2="307.90" y2="273.60" stroke="#333333" stroke-width="1.1"/>
<text x="300.40" y="276.60" font-size="8.5" text-anchor="end" fill="#333" font-weight="normal">20</text>
<line x1="303.10" y1="247.00" x2="307.90" y2="247.00" stroke="#333333" stroke-width="1.1"/>
<text x="300.40" y="250.00" font-size="8.5" text-anchor="end" fill="#333" font-weight="normal">30</text>
<line x1="303.10" y1="220.40" x2="307.90" y2="220.40" stroke="#333333" stroke-width="1.1"/>
<text x="300.40" y="223.40" font-size="8.5" text-anchor="end" fill="#333" font-weight="normal">40</text>
<line x1="303.10" y1="193.80" x2="307.90" y2="193.80" stroke="#333333" stroke-width="1.1"/>
<text x="300.40" y="196.80" font-size="8.5" text-anchor="end" fill="#333" font-weight="normal">50</text>
<line x1="326.80" y1="326.80" x2="326.80" y2="330.30" stroke="#333333" stroke-width="1.1"/>
<line x1="360.00" y1="326.80" x2="360.00" y2="330.30" stroke="#333333" stroke-width="1.1"/>
<line x1="393.30" y1="326.80" x2="393.30" y2="330.30" stroke="#333333" stroke-width="1.1"/>
<line x1="426.50" y1="326.80" x2="426.50" y2="330.30" stroke="#333333" stroke-width="1.1"/>
<rect x="316.80" y="224.39" width="7.60" height="102.41" fill="#fff" stroke="#4ba6cf" stroke-width="1.5"/>
<rect x="329.20" y="226.25" width="7.60" height="100.55" fill="#fff" stroke="#d6484a" stroke-width="1.5"/>
<circle cx="318.40" cy="218.10" r="1.70" fill="#86c6e6"/>
<circle cx="322.40" cy="219.73" r="1.70" fill="#86c6e6"/>
<circle cx="320.10" cy="221.36" r="1.70" fill="#86c6e6"/>
<circle cx="323.00" cy="222.99" r="1.70" fill="#86c6e6"/>
<circle cx="318.10" cy="224.61" r="1.70" fill="#86c6e6"/>
<circle cx="321.20" cy="226.24" r="1.70" fill="#86c6e6"/>
<circle cx="322.60" cy="227.87" r="1.70" fill="#86c6e6"/>
<circle cx="319.20" cy="229.50" r="1.70" fill="#86c6e6"/>
<rect x="333.30" y="218.40" width="3.20" height="3.20" fill="#f3a795" stroke="none" stroke-width="1"/>
<rect x="329.30" y="220.29" width="3.20" height="3.20" fill="#f3a795" stroke="none" stroke-width="1"/>
<rect x="331.80" y="222.17" width="3.20" height="3.20" fill="#f3a795" stroke="none" stroke-width="1"/>
<rect x="329.00" y="224.06" width="3.20" height="3.20" fill="#f3a795" stroke="none" stroke-width="1"/>
<rect x="333.70" y="225.94" width="3.20" height="3.20" fill="#f3a795" stroke="none" stroke-width="1"/>
<rect x="330.70" y="227.83" width="3.20" height="3.20" fill="#f3a795" stroke="none" stroke-width="1"/>
<rect x="333.60" y="229.71" width="3.20" height="3.20" fill="#f3a795" stroke="none" stroke-width="1"/>
<rect x="329.90" y="231.60" width="3.20" height="3.20" fill="#f3a795" stroke="none" stroke-width="1"/>
<line x1="320.60" y1="222.26" x2="320.60" y2="226.52" stroke="#666" stroke-width="0.8"/>
<line x1="318.60" y1="222.26" x2="322.60" y2="222.26" stroke="#666" stroke-width="0.8"/>
<line x1="333.00" y1="224.12" x2="333.00" y2="228.38" stroke="#666" stroke-width="0.8"/>
<line x1="331.00" y1="224.12" x2="335.00" y2="224.12" stroke="#666" stroke-width="0.8"/>
<rect x="350.00" y="249.93" width="7.60" height="76.87" fill="#fff" stroke="#4ba6cf" stroke-width="1.5"/>
<rect x="362.40" y="250.72" width="7.60" height="76.08" fill="#fff" stroke="#d6484a" stroke-width="1.5"/>
<circle cx="351.60" cy="244.70" r="1.70" fill="#86c6e6"/>
<circle cx="355.60" cy="246.31" r="1.70" fill="#86c6e6"/>
<circle cx="353.30" cy="247.93" r="1.70" fill="#86c6e6"/>
<circle cx="356.20" cy="249.54" r="1.70" fill="#86c6e6"/>
<circle cx="351.30" cy="251.16" r="1.70" fill="#86c6e6"/>
<circle cx="354.40" cy="252.77" r="1.70" fill="#86c6e6"/>
<circle cx="355.80" cy="254.39" r="1.70" fill="#86c6e6"/>
<circle cx="352.40" cy="256.00" r="1.70" fill="#86c6e6"/>
<rect x="366.50" y="244.00" width="3.20" height="3.20" fill="#f3a795" stroke="none" stroke-width="1"/>
<rect x="362.50" y="244.94" width="3.20" height="3.20" fill="#f3a795" stroke="none" stroke-width="1"/>
<rect x="365.00" y="245.89" width="3.20" height="3.20" fill="#f3a795" stroke="none" stroke-width="1"/>
<rect x="362.20" y="246.83" width="3.20" height="3.20" fill="#f3a795" stroke="none" stroke-width="1"/>
<rect x="366.90" y="247.77" width="3.20" height="3.20" fill="#f3a795" stroke="none" stroke-width="1"/>
<rect x="363.90" y="248.71" width="3.20" height="3.20" fill="#f3a795" stroke="none" stroke-width="1"/>
<rect x="366.80" y="249.66" width="3.20" height="3.20" fill="#f3a795" stroke="none" stroke-width="1"/>
<rect x="363.10" y="250.60" width="3.20" height="3.20" fill="#f3a795" stroke="none" stroke-width="1"/>
<line x1="353.80" y1="248.06" x2="353.80" y2="251.79" stroke="#666" stroke-width="0.8"/>
<line x1="351.80" y1="248.06" x2="355.80" y2="248.06" stroke="#666" stroke-width="0.8"/>
<line x1="366.20" y1="249.13" x2="366.20" y2="252.32" stroke="#666" stroke-width="0.8"/>
<line x1="364.20" y1="249.13" x2="368.20" y2="249.13" stroke="#666" stroke-width="0.8"/>
<rect x="383.30" y="254.45" width="7.60" height="72.35" fill="#fff" stroke="#4ba6cf" stroke-width="1.5"/>
<rect x="395.70" y="261.10" width="7.60" height="65.70" fill="#fff" stroke="#d6484a" stroke-width="1.5"/>
<circle cx="384.90" cy="253.20" r="1.70" fill="#86c6e6"/>
<circle cx="388.90" cy="253.73" r="1.70" fill="#86c6e6"/>
<circle cx="386.60" cy="254.26" r="1.70" fill="#86c6e6"/>
<circle cx="389.50" cy="254.79" r="1.70" fill="#86c6e6"/>
<circle cx="384.60" cy="255.31" r="1.70" fill="#86c6e6"/>
<circle cx="387.70" cy="255.84" r="1.70" fill="#86c6e6"/>
<circle cx="389.10" cy="256.37" r="1.70" fill="#86c6e6"/>
<circle cx="385.70" cy="256.90" r="1.70" fill="#86c6e6"/>
<rect x="399.80" y="255.40" width="3.20" height="3.20" fill="#f3a795" stroke="none" stroke-width="1"/>
<rect x="395.80" y="256.61" width="3.20" height="3.20" fill="#f3a795" stroke="none" stroke-width="1"/>
<rect x="398.30" y="257.83" width="3.20" height="3.20" fill="#f3a795" stroke="none" stroke-width="1"/>
<rect x="395.50" y="259.04" width="3.20" height="3.20" fill="#f3a795" stroke="none" stroke-width="1"/>
<rect x="400.20" y="260.26" width="3.20" height="3.20" fill="#f3a795" stroke="none" stroke-width="1"/>
<rect x="397.20" y="261.47" width="3.20" height="3.20" fill="#f3a795" stroke="none" stroke-width="1"/>
<rect x="400.10" y="262.69" width="3.20" height="3.20" fill="#f3a795" stroke="none" stroke-width="1"/>
<rect x="396.40" y="263.90" width="3.20" height="3.20" fill="#f3a795" stroke="none" stroke-width="1"/>
<line x1="387.10" y1="253.65" x2="387.10" y2="255.25" stroke="#666" stroke-width="0.8"/>
<line x1="385.10" y1="253.65" x2="389.10" y2="253.65" stroke="#666" stroke-width="0.8"/>
<line x1="399.50" y1="259.77" x2="399.50" y2="262.43" stroke="#666" stroke-width="0.8"/>
<line x1="397.50" y1="259.77" x2="401.50" y2="259.77" stroke="#666" stroke-width="0.8"/>
<rect x="416.50" y="249.93" width="7.60" height="76.87" fill="#fff" stroke="#4ba6cf" stroke-width="1.5"/>
<rect x="428.90" y="251.52" width="7.60" height="75.28" fill="#fff" stroke="#d6484a" stroke-width="1.5"/>
<circle cx="418.10" cy="246.50" r="1.70" fill="#86c6e6"/>
<circle cx="422.10" cy="247.04" r="1.70" fill="#86c6e6"/>
<circle cx="419.80" cy="247.59" r="1.70" fill="#86c6e6"/>
<circle cx="422.70" cy="248.13" r="1.70" fill="#86c6e6"/>
<circle cx="417.80" cy="248.67" r="1.70" fill="#86c6e6"/>
<circle cx="420.90" cy="249.21" r="1.70" fill="#86c6e6"/>
<circle cx="422.30" cy="249.76" r="1.70" fill="#86c6e6"/>
<circle cx="418.90" cy="250.30" r="1.70" fill="#86c6e6"/>
<rect x="433.00" y="241.20" width="3.20" height="3.20" fill="#f3a795" stroke="none" stroke-width="1"/>
<rect x="429.00" y="242.94" width="3.20" height="3.20" fill="#f3a795" stroke="none" stroke-width="1"/>
<rect x="431.50" y="244.69" width="3.20" height="3.20" fill="#f3a795" stroke="none" stroke-width="1"/>
<rect x="428.70" y="246.43" width="3.20" height="3.20" fill="#f3a795" stroke="none" stroke-width="1"/>
<rect x="433.40" y="248.17" width="3.20" height="3.20" fill="#f3a795" stroke="none" stroke-width="1"/>
<rect x="430.40" y="249.91" width="3.20" height="3.20" fill="#f3a795" stroke="none" stroke-width="1"/>
<rect x="433.30" y="251.66" width="3.20" height="3.20" fill="#f3a795" stroke="none" stroke-width="1"/>
<rect x="429.60" y="253.40" width="3.20" height="3.20" fill="#f3a795" stroke="none" stroke-width="1"/>
<line x1="420.30" y1="249.13" x2="420.30" y2="250.72" stroke="#666" stroke-width="0.8"/>
<line x1="418.30" y1="249.13" x2="422.30" y2="249.13" stroke="#666" stroke-width="0.8"/>
<line x1="432.70" y1="249.39" x2="432.70" y2="253.65" stroke="#666" stroke-width="0.8"/>
<line x1="430.70" y1="249.39" x2="434.70" y2="249.39" stroke="#666" stroke-width="0.8"/>
<text x="330.40" y="336.70" font-size="8.8" text-anchor="end" fill="#333" font-weight="normal" transform="rotate(-45 330.40000000000003 336.7)">Fro</text>
<text x="363.60" y="336.70" font-size="8.8" text-anchor="end" fill="#333" font-weight="normal" transform="rotate(-45 363.6 336.7)">Par</text>
<text x="396.90" y="336.70" font-size="8.8" text-anchor="end" fill="#333" font-weight="normal" transform="rotate(-45 396.90000000000003 336.7)">Tem</text>
<text x="430.10" y="336.70" font-size="8.8" text-anchor="end" fill="#333" font-weight="normal" transform="rotate(-45 430.1 336.7)">Occ</text>
<text x="298.80" y="189.50" font-size="6.5" text-anchor="start" fill="#333" font-weight="normal">x10<tspan font-size="4.5" dy="-2.6">3</tspan></text>
<circle cx="319.30" cy="199.80" r="1.80" fill="#86c6e6"/>
<text x="331.00" y="203.10" font-size="8.5" text-anchor="start" fill="#333" font-weight="normal">Arg</text>
<rect x="317.60" y="209.10" width="3.40" height="3.40" fill="#f3a795" stroke="none" stroke-width="1"/>
<text x="331.60" y="214.10" font-size="8.5" text-anchor="start" fill="#333" font-weight="normal">Trp</text>
<text x="393.60" y="241.60" font-size="8.5" text-anchor="middle" fill="#333" font-weight="normal">0.0064</text>
<line x1="387.40" y1="246.50" x2="399.80" y2="246.50" stroke="#999" stroke-width="1.1"/>
<text x="282.40" y="264.00" font-size="9.1" text-anchor="middle" fill="#333" font-weight="normal" transform="rotate(-90 282.4 264)">white matter volume (mm<tspan font-size="6" dy="-3">3</tspan><tspan dy="3">)</tspan></text>
<text x="537.60" y="180.80" font-size="16.2" text-anchor="start" fill="#111" font-weight="bold">g</text>
<line x1="583.40" y1="194.50" x2="583.40" y2="328.20" stroke="#333333" stroke-width="1.3"/>
<line x1="582.80" y1="327.60" x2="672.60" y2="327.60" stroke="#333333" stroke-width="1.3"/>
<line x1="578.90" y1="327.60" x2="583.40" y2="327.60" stroke="#333333" stroke-width="1.1"/>
<text x="575.20" y="330.40" font-size="7.9" text-anchor="end" fill="#333" font-weight="normal">3.0</text>
<line x1="578.90" y1="305.50" x2="583.40" y2="305.50" stroke="#333333" stroke-width="1.1"/>
<text x="575.20" y="308.30" font-size="7.9" text-anchor="end" fill="#333" font-weight="normal">3.5</text>
<line x1="578.90" y1="283.40" x2="583.40" y2="283.40" stroke="#333333" stroke-width="1.1"/>
<text x="575.20" y="286.20" font-size="7.9" text-anchor="end" fill="#333" font-weight="normal">4.0</text>
<line x1="578.90" y1="261.30" x2="583.40" y2="261.30" stroke="#333333" stroke-width="1.1"/>
<text x="575.20" y="264.10" font-size="7.9" text-anchor="end" fill="#333" font-weight="normal">4.5</text>
<line x1="578.90" y1="239.20" x2="583.40" y2="239.20" stroke="#333333" stroke-width="1.1"/>
<text x="575.20" y="242.00" font-size="7.9" text-anchor="end" fill="#333" font-weight="normal">5.0</text>
<line x1="578.90" y1="217.10" x2="583.40" y2="217.10" stroke="#333333" stroke-width="1.1"/>
<text x="575.20" y="219.90" font-size="7.9" text-anchor="end" fill="#333" font-weight="normal">5.5</text>
<line x1="578.90" y1="195.00" x2="583.40" y2="195.00" stroke="#333333" stroke-width="1.1"/>
<text x="575.20" y="197.80" font-size="7.9" text-anchor="end" fill="#333" font-weight="normal">6.0</text>
<line x1="608.30" y1="327.60" x2="608.30" y2="331.40" stroke="#333333" stroke-width="1.1"/>
<text x="608.30" y="344.00" font-size="9" text-anchor="middle" fill="#333" font-weight="normal">Arg</text>
<line x1="646.80" y1="327.60" x2="646.80" y2="331.40" stroke="#333333" stroke-width="1.1"/>
<text x="646.80" y="344.00" font-size="9" text-anchor="middle" fill="#333" font-weight="normal">Trp</text>
<text x="580.90" y="190.30" font-size="6.5" text-anchor="start" fill="#333" font-weight="normal">x10<tspan font-size="4.5" dy="-2.6">2</tspan></text>
<text x="557.20" y="253.80" font-size="9.3" text-anchor="middle" fill="#333" font-weight="normal" transform="rotate(-90 557.2 253.8)">Ventricle volume (mm<tspan font-size="6" dy="-3">3</tspan><tspan dy="3">)</tspan></text>
<rect x="596.80" y="297.10" width="23.70" height="30.50" fill="none" stroke="#4ba6cf" stroke-width="1.6"/>
<rect x="634.70" y="263.51" width="23.60" height="64.09" fill="none" stroke="#d6484a" stroke-width="1.6"/>
<line x1="608.60" y1="294.60" x2="608.60" y2="299.20" stroke="#888" stroke-width="1"/>
<line x1="602.50" y1="294.60" x2="615.00" y2="294.60" stroke="#888" stroke-width="1"/>
<line x1="602.50" y1="299.20" x2="615.00" y2="299.20" stroke="#888" stroke-width="1"/>
<circle cx="608.60" cy="288.20" r="2.10" fill="#86c6e6"/>
<circle cx="608.60" cy="294.40" r="2.10" fill="#86c6e6"/>
<circle cx="616.90" cy="294.80" r="2.10" fill="#86c6e6"/>
<circle cx="608.60" cy="298.80" r="2.10" fill="#86c6e6"/>
<circle cx="600.60" cy="302.60" r="2.10" fill="#86c6e6"/>
<circle cx="616.90" cy="302.60" r="2.10" fill="#86c6e6"/>
<rect x="644.70" y="214.70" width="4.20" height="4.20" fill="#f3a795" stroke="none" stroke-width="1"/>
<rect x="644.70" y="239.90" width="4.20" height="4.20" fill="#f3a795" stroke="none" stroke-width="1"/>
<rect x="641.10" y="271.10" width="4.20" height="4.20" fill="#f3a795" stroke="none" stroke-width="1"/>
<rect x="648.70" y="271.10" width="4.20" height="4.20" fill="#f3a795" stroke="none" stroke-width="1"/>
<rect x="641.10" y="285.30" width="4.20" height="4.20" fill="#f3a795" stroke="none" stroke-width="1"/>
<rect x="648.70" y="285.30" width="4.20" height="4.20" fill="#f3a795" stroke="none" stroke-width="1"/>
<line x1="646.80" y1="251.70" x2="646.80" y2="274.40" stroke="#7a7a7a" stroke-width="1.1"/>
<line x1="641.00" y1="251.70" x2="652.90" y2="251.70" stroke="#7a7a7a" stroke-width="1.1"/>
<line x1="641.00" y1="274.40" x2="652.90" y2="274.40" stroke="#7a7a7a" stroke-width="1.1"/>
<line x1="608.30" y1="212.30" x2="646.80" y2="212.30" stroke="#777" stroke-width="1"/>
<text x="627.60" y="207.70" font-size="8.2" text-anchor="middle" fill="#333" font-weight="normal">0.0169</text>
<text x="-0.60" y="373.80" font-size="16.2" text-anchor="start" fill="#111" font-weight="bold">h</text>
<rect x="38.80" y="375.90" width="27.10" height="27.14" fill="#ee3137" stroke="none" stroke-width="1"/>
<rect x="65.90" y="375.90" width="27.10" height="27.14" fill="#ffffff" stroke="none" stroke-width="1"/>
<rect x="93.00" y="375.90" width="27.10" height="27.14" fill="#ffffff" stroke="none" stroke-width="1"/>
<rect x="120.10" y="375.90" width="27.10" height="27.14" fill="#ffffff" stroke="none" stroke-width="1"/>
<rect x="147.20" y="375.90" width="27.10" height="27.14" fill="#ffffff" stroke="none" stroke-width="1"/>
<rect x="38.80" y="403.04" width="27.10" height="27.14" fill="#fce1e0" stroke="none" stroke-width="1"/>
<rect x="65.90" y="403.04" width="27.10" height="27.14" fill="#ffffff" stroke="none" stroke-width="1"/>
<rect x="93.00" y="403.04" width="27.10" height="27.14" fill="#ffffff" stroke="none" stroke-width="1"/>
<rect x="120.10" y="403.04" width="27.10" height="27.14" fill="#ffffff" stroke="none" stroke-width="1"/>
<rect x="147.20" y="403.04" width="27.10" height="27.14" fill="#ffffff" stroke="none" stroke-width="1"/>
<rect x="38.80" y="430.18" width="27.10" height="27.14" fill="#f8c6c8" stroke="none" stroke-width="1"/>
<rect x="65.90" y="430.18" width="27.10" height="27.14" fill="#ffffff" stroke="none" stroke-width="1"/>
<rect x="93.00" y="430.18" width="27.10" height="27.14" fill="#ffffff" stroke="none" stroke-width="1"/>
<rect x="120.10" y="430.18" width="27.10" height="27.14" fill="#ffffff" stroke="none" stroke-width="1"/>
<rect x="147.20" y="430.18" width="27.10" height="27.14" fill="#ffffff" stroke="none" stroke-width="1"/>
<rect x="38.80" y="457.32" width="27.10" height="27.14" fill="#f8c6c8" stroke="none" stroke-width="1"/>
<rect x="65.90" y="457.32" width="27.10" height="27.14" fill="#fce1e0" stroke="none" stroke-width="1"/>
<rect x="93.00" y="457.32" width="27.10" height="27.14" fill="#ffffff" stroke="none" stroke-width="1"/>
<rect x="120.10" y="457.32" width="27.10" height="27.14" fill="#ffffff" stroke="none" stroke-width="1"/>
<rect x="147.20" y="457.32" width="27.10" height="27.14" fill="#ffffff" stroke="none" stroke-width="1"/>
<rect x="38.80" y="484.46" width="27.10" height="27.14" fill="#ee5e63" stroke="none" stroke-width="1"/>
<rect x="65.90" y="484.46" width="27.10" height="27.14" fill="#ffffff" stroke="none" stroke-width="1"/>
<rect x="93.00" y="484.46" width="27.10" height="27.14" fill="#f8c6c8" stroke="none" stroke-width="1"/>
<rect x="120.10" y="484.46" width="27.10" height="27.14" fill="#ffffff" stroke="none" stroke-width="1"/>
<rect x="147.20" y="484.46" width="27.10" height="27.14" fill="#f8c6c8" stroke="none" stroke-width="1"/>
<line x1="38.80" y1="375.90" x2="38.80" y2="511.60" stroke="#3a3a3a" stroke-width="1.2"/>
<line x1="38.80" y1="375.90" x2="174.30" y2="375.90" stroke="#3a3a3a" stroke-width="1.2"/>
<line x1="65.90" y1="375.90" x2="65.90" y2="511.60" stroke="#3a3a3a" stroke-width="1.2"/>
<line x1="38.80" y1="403.04" x2="174.30" y2="403.04" stroke="#3a3a3a" stroke-width="1.2"/>
<line x1="93.00" y1="375.90" x2="93.00" y2="511.60" stroke="#3a3a3a" stroke-width="1.2"/>
<line x1="38.80" y1="430.18" x2="174.30" y2="430.18" stroke="#3a3a3a" stroke-width="1.2"/>
<line x1="120.10" y1="375.90" x2="120.10" y2="511.60" stroke="#3a3a3a" stroke-width="1.2"/>
<line x1="38.80" y1="457.32" x2="174.30" y2="457.32" stroke="#3a3a3a" stroke-width="1.2"/>
<line x1="147.20" y1="375.90" x2="147.20" y2="511.60" stroke="#3a3a3a" stroke-width="1.2"/>
<line x1="38.80" y1="484.46" x2="174.30" y2="484.46" stroke="#3a3a3a" stroke-width="1.2"/>
<line x1="174.30" y1="375.90" x2="174.30" y2="511.60" stroke="#3a3a3a" stroke-width="1.2"/>
<line x1="38.80" y1="511.60" x2="174.30" y2="511.60" stroke="#3a3a3a" stroke-width="1.2"/>
<text x="53.45" y="392.17" font-size="9.5" text-anchor="middle" fill="#333" font-weight="normal">11</text>
<text x="80.55" y="392.17" font-size="9.5" text-anchor="middle" fill="#333" font-weight="normal">0</text>
<text x="107.65" y="392.17" font-size="9.5" text-anchor="middle" fill="#333" font-weight="normal">0</text>
<text x="134.75" y="392.17" font-size="9.5" text-anchor="middle" fill="#333" font-weight="normal">0</text>
<text x="161.85" y="392.17" font-size="9.5" text-anchor="middle" fill="#333" font-weight="normal">0</text>
<text x="53.45" y="419.31" font-size="9.5" text-anchor="middle" fill="#333" font-weight="normal">1</text>
<text x="80.55" y="419.31" font-size="9.5" text-anchor="middle" fill="#333" font-weight="normal">0</text>
<text x="107.65" y="419.31" font-size="9.5" text-anchor="middle" fill="#333" font-weight="normal">0</text>
<text x="134.75" y="419.31" font-size="9.5" text-anchor="middle" fill="#333" font-weight="normal">0</text>
<text x="161.85" y="419.31" font-size="9.5" text-anchor="middle" fill="#333" font-weight="normal">0</text>
<text x="53.45" y="446.45" font-size="9.5" text-anchor="middle" fill="#333" font-weight="normal">2</text>
<text x="80.55" y="446.45" font-size="9.5" text-anchor="middle" fill="#333" font-weight="normal">0</text>
<text x="107.65" y="446.45" font-size="9.5" text-anchor="middle" fill="#333" font-weight="normal">0</text>
<text x="134.75" y="446.45" font-size="9.5" text-anchor="middle" fill="#333" font-weight="normal">0</text>
<text x="161.85" y="446.45" font-size="9.5" text-anchor="middle" fill="#333" font-weight="normal">0</text>
<text x="53.45" y="473.59" font-size="9.5" text-anchor="middle" fill="#333" font-weight="normal">2</text>
<text x="80.55" y="473.59" font-size="9.5" text-anchor="middle" fill="#333" font-weight="normal">1</text>
<text x="107.65" y="473.59" font-size="9.5" text-anchor="middle" fill="#333" font-weight="normal">0</text>
<text x="134.75" y="473.59" font-size="9.5" text-anchor="middle" fill="#333" font-weight="normal">0</text>
<text x="161.85" y="473.59" font-size="9.5" text-anchor="middle" fill="#333" font-weight="normal">0</text>
<text x="53.45" y="500.73" font-size="9.5" text-anchor="middle" fill="#333" font-weight="normal">7</text>
<text x="80.55" y="500.73" font-size="9.5" text-anchor="middle" fill="#333" font-weight="normal">0</text>
<text x="107.65" y="500.73" font-size="9.5" text-anchor="middle" fill="#333" font-weight="normal">2</text>
<text x="134.75" y="500.73" font-size="9.5" text-anchor="middle" fill="#333" font-weight="normal">0</text>
<text x="161.85" y="500.73" font-size="9.5" text-anchor="middle" fill="#333" font-weight="normal">2</text>
<line x1="35.00" y1="389.47" x2="38.80" y2="389.47" stroke="#333" stroke-width="1.1"/>
<text x="30.80" y="392.57" font-size="8.8" text-anchor="end" fill="#333" font-weight="normal">Fro</text>
<line x1="35.00" y1="416.61" x2="38.80" y2="416.61" stroke="#333" stroke-width="1.1"/>
<text x="30.80" y="419.71" font-size="8.8" text-anchor="end" fill="#333" font-weight="normal">Par</text>
<line x1="35.00" y1="443.75" x2="38.80" y2="443.75" stroke="#333" stroke-width="1.1"/>
<text x="30.80" y="446.85" font-size="8.8" text-anchor="end" fill="#333" font-weight="normal">Tem</text>
<line x1="35.00" y1="470.89" x2="38.80" y2="470.89" stroke="#333" stroke-width="1.1"/>
<text x="30.80" y="473.99" font-size="8.8" text-anchor="end" fill="#333" font-weight="normal">Occ</text>
<line x1="35.00" y1="498.03" x2="38.80" y2="498.03" stroke="#333" stroke-width="1.1"/>
<text x="30.80" y="501.13" font-size="8.8" text-anchor="end" fill="#333" font-weight="normal">Sub</text>
<line x1="52.35" y1="511.60" x2="52.35" y2="515.40" stroke="#333" stroke-width="1.1"/>
<line x1="79.45" y1="511.60" x2="79.45" y2="515.40" stroke="#333" stroke-width="1.1"/>
<line x1="106.55" y1="511.60" x2="106.55" y2="515.40" stroke="#333" stroke-width="1.1"/>
<line x1="133.65" y1="511.60" x2="133.65" y2="515.40" stroke="#333" stroke-width="1.1"/>
<line x1="160.75" y1="511.60" x2="160.75" y2="515.40" stroke="#333" stroke-width="1.1"/>
<text x="51.75" y="526.80" font-size="8.8" text-anchor="middle" fill="#333" font-weight="normal">Fro</text>
<text x="78.85" y="526.80" font-size="8.8" text-anchor="middle" fill="#333" font-weight="normal">Par</text>
<text x="105.95" y="526.80" font-size="8.8" text-anchor="middle" fill="#333" font-weight="normal">Tem</text>
<text x="133.05" y="526.80" font-size="8.8" text-anchor="middle" fill="#333" font-weight="normal">Occ</text>
<text x="160.15" y="526.80" font-size="8.8" text-anchor="middle" fill="#333" font-weight="normal">Sub</text>
<defs><linearGradient id="gh" x1="0" y1="1" x2="0" y2="0"><stop offset="0" stop-color="#ffffff"/><stop offset="1" stop-color="#ee3035"/></linearGradient></defs>
<rect x="186.20" y="375.40" width="11.40" height="135.80" fill="url(#gh)" stroke="#333" stroke-width="1.1"/>
<line x1="195.40" y1="511.20" x2="199.60" y2="511.20" stroke="#333" stroke-width="1"/>
<text x="201.60" y="514.20" font-size="8.5" text-anchor="start" fill="#333" font-weight="normal">0</text>
<line x1="195.40" y1="449.47" x2="199.60" y2="449.47" stroke="#333" stroke-width="1"/>
<text x="201.60" y="452.47" font-size="8.5" text-anchor="start" fill="#333" font-weight="normal">5</text>
<line x1="195.40" y1="387.75" x2="199.60" y2="387.75" stroke="#333" stroke-width="1"/>
<text x="201.60" y="390.75" font-size="8.5" text-anchor="start" fill="#333" font-weight="normal">10</text>
<rect x="217.70" y="396.30" width="21.82" height="4.70" fill="#e84a4a" stroke="none" stroke-width="1"/>
<text x="228.51" y="410.30" font-size="8.5" text-anchor="middle" fill="#333" font-weight="normal">Fro</text>
<rect x="239.32" y="396.30" width="21.82" height="4.70" fill="#f2b03a" stroke="none" stroke-width="1"/>
<text x="250.13" y="410.30" font-size="8.5" text-anchor="middle" fill="#333" font-weight="normal">Par</text>
<rect x="260.94" y="396.30" width="21.82" height="4.70" fill="#7ab84f" stroke="none" stroke-width="1"/>
<text x="271.75" y="410.30" font-size="8.5" text-anchor="middle" fill="#333" font-weight="normal">Tem</text>
<rect x="282.56" y="396.30" width="21.82" height="4.70" fill="#1eaec4" stroke="none" stroke-width="1"/>
<text x="293.37" y="410.30" font-size="8.5" text-anchor="middle" fill="#333" font-weight="normal">Occ</text>
<rect x="304.18" y="396.30" width="21.82" height="4.70" fill="#b79ccc" stroke="none" stroke-width="1"/>
<text x="314.99" y="410.30" font-size="8.5" text-anchor="middle" fill="#333" font-weight="normal">Sub</text>
<line x1="217.70" y1="401.00" x2="325.80" y2="401.00" stroke="#999" stroke-width="0.6"/>
<text x="330.8" y="376.8" font-size="17" font-weight="bold" fill="#111">i</text>
<rect x="373.90" y="375.90" width="27.02" height="27.06" fill="#ffffff" stroke="none" stroke-width="1"/>
<rect x="400.92" y="375.90" width="27.02" height="27.06" fill="#ffffff" stroke="none" stroke-width="1"/>
<rect x="427.94" y="375.90" width="27.02" height="27.06" fill="#ffffff" stroke="none" stroke-width="1"/>
<rect x="454.96" y="375.90" width="27.02" height="27.06" fill="#ffffff" stroke="none" stroke-width="1"/>
<rect x="481.98" y="375.90" width="27.02" height="27.06" fill="#ffffff" stroke="none" stroke-width="1"/>
<rect x="373.90" y="402.96" width="27.02" height="27.06" fill="#3399d1" stroke="none" stroke-width="1"/>
<rect x="400.92" y="402.96" width="27.02" height="27.06" fill="#ffffff" stroke="none" stroke-width="1"/>
<rect x="427.94" y="402.96" width="27.02" height="27.06" fill="#ffffff" stroke="none" stroke-width="1"/>
<rect x="454.96" y="402.96" width="27.02" height="27.06" fill="#ffffff" stroke="none" stroke-width="1"/>
<rect x="481.98" y="402.96" width="27.02" height="27.06" fill="#ffffff" stroke="none" stroke-width="1"/>
<rect x="373.90" y="430.02" width="27.02" height="27.06" fill="#b1d8ea" stroke="none" stroke-width="1"/>
<rect x="400.92" y="430.02" width="27.02" height="27.06" fill="#d4e9f4" stroke="none" stroke-width="1"/>
<rect x="427.94" y="430.02" width="27.02" height="27.06" fill="#d4e9f4" stroke="none" stroke-width="1"/>
<rect x="454.96" y="430.02" width="27.02" height="27.06" fill="#ffffff" stroke="none" stroke-width="1"/>
<rect x="481.98" y="430.02" width="27.02" height="27.06" fill="#ffffff" stroke="none" stroke-width="1"/>
<rect x="373.90" y="457.08" width="27.02" height="27.06" fill="#e6f2f9" stroke="none" stroke-width="1"/>
<rect x="400.92" y="457.08" width="27.02" height="27.06" fill="#d4e9f4" stroke="none" stroke-width="1"/>
<rect x="427.94" y="457.08" width="27.02" height="27.06" fill="#d4e9f4" stroke="none" stroke-width="1"/>
<rect x="454.96" y="457.08" width="27.02" height="27.06" fill="#ffffff" stroke="none" stroke-width="1"/>
<rect x="481.98" y="457.08" width="27.02" height="27.06" fill="#ffffff" stroke="none" stroke-width="1"/>
<rect x="373.90" y="484.14" width="27.02" height="27.06" fill="#e6f2f9" stroke="none" stroke-width="1"/>
<rect x="400.92" y="484.14" width="27.02" height="27.06" fill="#ffffff" stroke="none" stroke-width="1"/>
<rect x="427.94" y="484.14" width="27.02" height="27.06" fill="#ffffff" stroke="none" stroke-width="1"/>
<rect x="454.96" y="484.14" width="27.02" height="27.06" fill="#ffffff" stroke="none" stroke-width="1"/>
<rect x="481.98" y="484.14" width="27.02" height="27.06" fill="#ffffff" stroke="none" stroke-width="1"/>
<line x1="373.90" y1="375.90" x2="373.90" y2="511.20" stroke="#3a3a3a" stroke-width="1.2"/>
<line x1="373.90" y1="375.90" x2="509.00" y2="375.90" stroke="#3a3a3a" stroke-width="1.2"/>
<line x1="400.92" y1="375.90" x2="400.92" y2="511.20" stroke="#3a3a3a" stroke-width="1.2"/>
<line x1="373.90" y1="402.96" x2="509.00" y2="402.96" stroke="#3a3a3a" stroke-width="1.2"/>
<line x1="427.94" y1="375.90" x2="427.94" y2="511.20" stroke="#3a3a3a" stroke-width="1.2"/>
<line x1="373.90" y1="430.02" x2="509.00" y2="430.02" stroke="#3a3a3a" stroke-width="1.2"/>
<line x1="454.96" y1="375.90" x2="454.96" y2="511.20" stroke="#3a3a3a" stroke-width="1.2"/>
<line x1="373.90" y1="457.08" x2="509.00" y2="457.08" stroke="#3a3a3a" stroke-width="1.2"/>
<line x1="481.98" y1="375.90" x2="481.98" y2="511.20" stroke="#3a3a3a" stroke-width="1.2"/>
<line x1="373.90" y1="484.14" x2="509.00" y2="484.14" stroke="#3a3a3a" stroke-width="1.2"/>
<line x1="509.00" y1="375.90" x2="509.00" y2="511.20" stroke="#3a3a3a" stroke-width="1.2"/>
<line x1="373.90" y1="511.20" x2="509.00" y2="511.20" stroke="#3a3a3a" stroke-width="1.2"/>
<text x="388.51" y="392.13" font-size="9.5" text-anchor="middle" fill="#444" font-weight="normal">0</text>
<text x="415.53" y="392.13" font-size="9.5" text-anchor="middle" fill="#444" font-weight="normal">0</text>
<text x="442.55" y="392.13" font-size="9.5" text-anchor="middle" fill="#444" font-weight="normal">0</text>
<text x="469.57" y="392.13" font-size="9.5" text-anchor="middle" fill="#444" font-weight="normal">0</text>
<text x="496.59" y="392.13" font-size="9.5" text-anchor="middle" fill="#444" font-weight="normal">0</text>
<text x="388.51" y="419.19" font-size="9.5" text-anchor="middle" fill="#444" font-weight="normal">13</text>
<text x="415.53" y="419.19" font-size="9.5" text-anchor="middle" fill="#444" font-weight="normal">0</text>
<text x="442.55" y="419.19" font-size="9.5" text-anchor="middle" fill="#444" font-weight="normal">0</text>
<text x="469.57" y="419.19" font-size="9.5" text-anchor="middle" fill="#444" font-weight="normal">0</text>
<text x="496.59" y="419.19" font-size="9.5" text-anchor="middle" fill="#444" font-weight="normal">0</text>
<text x="388.51" y="446.25" font-size="9.5" text-anchor="middle" fill="#444" font-weight="normal">4</text>
<text x="415.53" y="446.25" font-size="9.5" text-anchor="middle" fill="#444" font-weight="normal">2</text>
<text x="442.55" y="446.25" font-size="9.5" text-anchor="middle" fill="#444" font-weight="normal">2</text>
<text x="469.57" y="446.25" font-size="9.5" text-anchor="middle" fill="#444" font-weight="normal">0</text>
<text x="496.59" y="446.25" font-size="9.5" text-anchor="middle" fill="#444" font-weight="normal">0</text>
<text x="388.51" y="473.31" font-size="9.5" text-anchor="middle" fill="#444" font-weight="normal">1</text>
<text x="415.53" y="473.31" font-size="9.5" text-anchor="middle" fill="#444" font-weight="normal">2</text>
<text x="442.55" y="473.31" font-size="9.5" text-anchor="middle" fill="#444" font-weight="normal">2</text>
<text x="469.57" y="473.31" font-size="9.5" text-anchor="middle" fill="#444" font-weight="normal">0</text>
<text x="496.59" y="473.31" font-size="9.5" text-anchor="middle" fill="#444" font-weight="normal">0</text>
<text x="388.51" y="500.37" font-size="9.5" text-anchor="middle" fill="#444" font-weight="normal">1</text>
<text x="415.53" y="500.37" font-size="9.5" text-anchor="middle" fill="#444" font-weight="normal">0</text>
<text x="442.55" y="500.37" font-size="9.5" text-anchor="middle" fill="#444" font-weight="normal">0</text>
<text x="469.57" y="500.37" font-size="9.5" text-anchor="middle" fill="#444" font-weight="normal">0</text>
<text x="496.59" y="500.37" font-size="9.5" text-anchor="middle" fill="#444" font-weight="normal">0</text>
<line x1="370.10" y1="389.43" x2="373.90" y2="389.43" stroke="#333" stroke-width="1.1"/>
<text x="365.90" y="392.53" font-size="8.8" text-anchor="end" fill="#333" font-weight="normal">Fro</text>
<line x1="370.10" y1="416.49" x2="373.90" y2="416.49" stroke="#333" stroke-width="1.1"/>
<text x="365.90" y="419.59" font-size="8.8" text-anchor="end" fill="#333" font-weight="normal">Par</text>
<line x1="370.10" y1="443.55" x2="373.90" y2="443.55" stroke="#333" stroke-width="1.1"/>
<text x="365.90" y="446.65" font-size="8.8" text-anchor="end" fill="#333" font-weight="normal">Tem</text>
<line x1="370.10" y1="470.61" x2="373.90" y2="470.61" stroke="#333" stroke-width="1.1"/>
<text x="365.90" y="473.71" font-size="8.8" text-anchor="end" fill="#333" font-weight="normal">Occ</text>
<line x1="370.10" y1="497.67" x2="373.90" y2="497.67" stroke="#333" stroke-width="1.1"/>
<text x="365.90" y="500.77" font-size="8.8" text-anchor="end" fill="#333" font-weight="normal">Sub</text>
<line x1="387.41" y1="511.20" x2="387.41" y2="515.00" stroke="#333" stroke-width="1.1"/>
<line x1="414.43" y1="511.20" x2="414.43" y2="515.00" stroke="#333" stroke-width="1.1"/>
<line x1="441.45" y1="511.20" x2="441.45" y2="515.00" stroke="#333" stroke-width="1.1"/>
<line x1="468.47" y1="511.20" x2="468.47" y2="515.00" stroke="#333" stroke-width="1.1"/>
<line x1="495.49" y1="511.20" x2="495.49" y2="515.00" stroke="#333" stroke-width="1.1"/>
<text x="386.81" y="524.70" font-size="8.8" text-anchor="middle" fill="#333" font-weight="normal">Fro</text>
<text x="413.83" y="524.70" font-size="8.8" text-anchor="middle" fill="#333" font-weight="normal">Par</text>
<text x="440.85" y="524.70" font-size="8.8" text-anchor="middle" fill="#333" font-weight="normal">Tem</text>
<text x="467.87" y="524.70" font-size="8.8" text-anchor="middle" fill="#333" font-weight="normal">Occ</text>
<text x="494.89" y="524.70" font-size="8.8" text-anchor="middle" fill="#333" font-weight="normal">Sub</text>
<defs><linearGradient id="gi" x1="0" y1="1" x2="0" y2="0"><stop offset="0" stop-color="#ffffff"/><stop offset="1" stop-color="#3399d1"/></linearGradient></defs>
<rect x="520.80" y="375.40" width="10.80" height="135.20" fill="url(#gi)" stroke="#333" stroke-width="1.1"/>
<line x1="529.40" y1="510.60" x2="533.60" y2="510.60" stroke="#333" stroke-width="1"/>
<text x="535.60" y="513.60" font-size="8.5" text-anchor="start" fill="#333" font-weight="normal">0</text>
<line x1="529.40" y1="458.60" x2="533.60" y2="458.60" stroke="#333" stroke-width="1"/>
<text x="535.60" y="461.60" font-size="8.5" text-anchor="start" fill="#333" font-weight="normal">5</text>
<line x1="529.40" y1="406.60" x2="533.60" y2="406.60" stroke="#333" stroke-width="1"/>
<text x="535.60" y="409.60" font-size="8.5" text-anchor="start" fill="#333" font-weight="normal">10</text>
<rect x="560.00" y="396.30" width="21.90" height="4.70" fill="#e84a4a" stroke="none" stroke-width="1"/>
<text x="570.85" y="410.30" font-size="8.5" text-anchor="middle" fill="#333" font-weight="normal">Fro</text>
<rect x="581.70" y="396.30" width="21.90" height="4.70" fill="#f2b03a" stroke="none" stroke-width="1"/>
<text x="592.55" y="410.30" font-size="8.5" text-anchor="middle" fill="#333" font-weight="normal">Par</text>
<rect x="603.40" y="396.30" width="21.90" height="4.70" fill="#7ab84f" stroke="none" stroke-width="1"/>
<text x="614.25" y="410.30" font-size="8.5" text-anchor="middle" fill="#333" font-weight="normal">Tem</text>
<rect x="625.10" y="396.30" width="21.90" height="4.70" fill="#1eaec4" stroke="none" stroke-width="1"/>
<text x="635.95" y="410.30" font-size="8.5" text-anchor="middle" fill="#333" font-weight="normal">Occ</text>
<rect x="646.80" y="396.30" width="21.90" height="4.70" fill="#b79ccc" stroke="none" stroke-width="1"/>
<text x="657.65" y="410.30" font-size="8.5" text-anchor="middle" fill="#333" font-weight="normal">Sub</text>
<line x1="560.00" y1="401.00" x2="668.50" y2="401.00" stroke="#999" stroke-width="0.6"/>
<defs>
<linearGradient id="bgT1" x1="0" y1="0" x2="0" y2="1"><stop offset="0" stop-color="#e2e2e2"/><stop offset="0.68" stop-color="#d4d4d4"/><stop offset="0.76" stop-color="#b8b8b8"/><stop offset="0.84" stop-color="#7a7a7a"/><stop offset="1" stop-color="#5c5c5c"/></linearGradient>
<linearGradient id="bgB1" x1="0" y1="0" x2="0" y2="1"><stop offset="0" stop-color="#dadada"/><stop offset="0.3" stop-color="#ececec"/><stop offset="0.8" stop-color="#e4e4e4"/><stop offset="1" stop-color="#b0b0b0"/></linearGradient>
<linearGradient id="bgT2" x1="0" y1="0" x2="0" y2="1"><stop offset="0" stop-color="#d2d2d2"/><stop offset="0.65" stop-color="#c6c6c6"/><stop offset="0.77" stop-color="#a0a0a0"/><stop offset="0.85" stop-color="#6a6a6a"/><stop offset="1" stop-color="#555555"/></linearGradient>
<linearGradient id="bgB2" x1="0" y1="0" x2="0" y2="1"><stop offset="0" stop-color="#d4d4d4"/><stop offset="0.3" stop-color="#e8e8e8"/><stop offset="0.75" stop-color="#d2d2d2"/><stop offset="1" stop-color="#9a9a9a"/></linearGradient>
<linearGradient id="pr" x1="0" y1="0" x2="1" y2="0"><stop offset="0" stop-color="#f0c4c7"/><stop offset="1" stop-color="#e2343b"/></linearGradient>
<linearGradient id="pb" x1="0" y1="0" x2="1" y2="0"><stop offset="0" stop-color="#c9e2f3"/><stop offset="1" stop-color="#2f7fc2"/></linearGradient>
<radialGradient id="lat" cx="0.5" cy="0.45" r="0.6"><stop offset="0" stop-color="#e4e4e4"/><stop offset="0.75" stop-color="#dcdcdc"/><stop offset="1" stop-color="#c6c6c6"/></radialGradient>
</defs>
<text x="224.30" y="170.40" font-size="7" text-anchor="middle" fill="#333" font-weight="normal"><tspan font-style="italic">p</tspan>-value (Trp &gt; Arg)</text>
<rect x="197.00" y="174.20" width="52.10" height="5.70" fill="url(#pr)" stroke="none" stroke-width="1"/>
<text x="194.00" y="187.50" font-size="7" text-anchor="middle" fill="#333" font-weight="normal">0.05</text>
<text x="243.40" y="187.50" font-size="7" text-anchor="start" fill="#333" font-weight="normal">10<tspan font-size="4.5" dy="-2.5">-6</tspan></text>
<clipPath id="clipbgT140"><path d="M223.65,209.30 C223.33,209.30 223.91,208.34 221.71,209.30 C219.50,210.26 213.58,212.32 210.44,215.03 C207.30,217.75 204.68,221.99 202.84,225.61 C201.01,229.23 200.13,233.52 199.44,236.75 C198.74,239.99 198.61,241.78 198.65,245.04 C198.69,248.30 198.91,252.83 199.70,256.31 C200.48,259.79 201.36,263.39 203.37,265.93 C205.37,268.47 208.37,270.36 211.75,271.53 C215.13,272.71 221.67,272.76 223.65,273.00 Z"/></clipPath>
<path d="M223.65,209.30 C223.33,209.30 223.91,208.34 221.71,209.30 C219.50,210.26 213.58,212.32 210.44,215.03 C207.30,217.75 204.68,221.99 202.84,225.61 C201.01,229.23 200.13,233.52 199.44,236.75 C198.74,239.99 198.61,241.78 198.65,245.04 C198.69,248.30 198.91,252.83 199.70,256.31 C200.48,259.79 201.36,263.39 203.37,265.93 C205.37,268.47 208.37,270.36 211.75,271.53 C215.13,272.71 221.67,272.76 223.65,273.00 Z" fill="url(#bgT1)" stroke="none" stroke-width="1"/>
<g clip-path="url(#clipbgT140)">
<path d="M221.71,209.30 C219.83,210.26 213.58,212.32 210.44,215.03 C207.30,217.75 204.68,221.99 202.84,225.61 C201.01,229.23 200.13,233.52 199.44,236.75 C198.74,239.99 198.61,241.78 198.65,245.04 C198.69,248.30 198.91,252.83 199.70,256.31 C200.48,259.79 201.36,263.39 203.37,265.93 C205.37,268.47 210.35,270.60 211.75,271.53 " fill="none" stroke="#8c8c8c" stroke-width="5" opacity="0.45"/>
<path d="M221.71,209.30 C219.83,210.26 213.58,212.32 210.44,215.03 C207.30,217.75 204.68,221.99 202.84,225.61 C201.01,229.23 200.13,233.52 199.44,236.75 C198.74,239.99 198.61,241.78 198.65,245.04 C198.69,248.30 198.91,252.83 199.70,256.31 C200.48,259.79 201.36,263.39 203.37,265.93 C205.37,268.47 210.35,270.60 211.75,271.53 " fill="none" stroke="#7a7a7a" stroke-width="2" opacity="0.5"/>
<path d="M209.90,215.67 C210.44,216.63 212.94,219.39 213.15,221.40 C213.36,223.42 212.65,226.29 211.15,227.77 C209.65,229.26 205.32,229.90 204.15,230.32 " fill="none" stroke="#7e7e7e" stroke-width="1.3" stroke-linecap="round" opacity="0.9"/>
<path d="M209.90,217.37 C210.44,218.33 212.94,221.09 213.15,223.10 C213.36,225.12 212.65,227.99 211.15,229.47 C209.65,230.96 205.32,231.60 204.15,232.02 " fill="none" stroke="#fafafa" stroke-width="1.6" stroke-linecap="round" opacity="0.9"/>
<path d="M219.15,219.49 C218.53,220.45 216.82,223.00 215.40,225.23 C213.98,227.45 211.44,231.59 210.65,232.87 " fill="none" stroke="#7e7e7e" stroke-width="1.3" stroke-linecap="round" opacity="0.9"/>
<path d="M219.15,221.19 C218.53,222.15 216.82,224.70 215.40,226.93 C213.98,229.15 211.44,233.29 210.65,234.57 " fill="none" stroke="#fafafa" stroke-width="1.6" stroke-linecap="round" opacity="0.9"/>
<path d="M199.40,237.33 C200.44,237.97 203.36,239.45 205.65,241.15 C207.94,242.85 210.65,245.72 213.15,247.52 C215.65,249.32 219.40,251.24 220.65,251.98 " fill="none" stroke="#7e7e7e" stroke-width="1.3" stroke-linecap="round" opacity="0.9"/>
<path d="M199.40,239.03 C200.44,239.66 203.36,241.15 205.65,242.85 C207.94,244.55 210.65,247.42 213.15,249.22 C215.65,251.02 219.40,252.94 220.65,253.68 " fill="none" stroke="#fafafa" stroke-width="1.6" stroke-linecap="round" opacity="0.9"/>
<path d="M199.15,245.61 C200.07,246.14 202.65,247.20 204.65,248.79 C206.65,250.39 209.15,253.25 211.15,255.16 C213.15,257.07 215.73,259.41 216.65,260.26 " fill="none" stroke="#7e7e7e" stroke-width="1.3" stroke-linecap="round" opacity="0.9"/>
<path d="M199.15,247.31 C200.07,247.84 202.65,248.90 204.65,250.49 C206.65,252.09 209.15,254.95 211.15,256.86 C213.15,258.77 215.73,261.11 216.65,261.96 " fill="none" stroke="#fafafa" stroke-width="1.6" stroke-linecap="round" opacity="0.9"/>
<path d="M199.90,253.89 C200.86,254.53 203.57,256.12 205.65,257.71 C207.73,259.30 211.28,262.49 212.40,263.44 " fill="none" stroke="#7e7e7e" stroke-width="1.3" stroke-linecap="round" opacity="0.9"/>
<path d="M199.90,255.59 C200.86,256.23 203.57,257.82 205.65,259.41 C207.73,261.00 211.28,264.19 212.40,265.14 " fill="none" stroke="#fafafa" stroke-width="1.6" stroke-linecap="round" opacity="0.9"/>
<path d="M201.15,264.08 C202.40,264.40 206.15,265.57 208.65,265.99 C211.15,266.42 213.86,266.52 216.15,266.63 C218.44,266.74 221.36,266.63 222.40,266.63 " fill="none" stroke="#7e7e7e" stroke-width="1.3" stroke-linecap="round" opacity="0.9"/>
<path d="M201.15,265.78 C202.40,266.10 206.15,267.27 208.65,267.69 C211.15,268.12 213.86,268.22 216.15,268.33 C218.44,268.44 221.36,268.33 222.40,268.33 " fill="none" stroke="#fafafa" stroke-width="1.6" stroke-linecap="round" opacity="0.9"/>
<path d="M220.65,233.51 C220.15,234.46 218.15,238.28 217.65,239.24 " fill="none" stroke="#7e7e7e" stroke-width="1.3" stroke-linecap="round" opacity="0.9"/>
<path d="M220.65,235.21 C220.15,236.16 218.15,239.98 217.65,240.94 " fill="none" stroke="#fafafa" stroke-width="1.6" stroke-linecap="round" opacity="0.9"/>
<path d="M203.15,220.77 C202.82,222.04 201.48,227.14 201.15,228.41 " fill="none" stroke="#7e7e7e" stroke-width="1.3" stroke-linecap="round" opacity="0.9"/>
<path d="M203.15,222.47 C202.82,223.74 201.48,228.84 201.15,230.11 " fill="none" stroke="#fafafa" stroke-width="1.6" stroke-linecap="round" opacity="0.9"/>
<path d="M216.15,211.85 C215.82,212.70 214.48,216.09 214.15,216.94 " fill="none" stroke="#7e7e7e" stroke-width="1.3" stroke-linecap="round" opacity="0.9"/>
<path d="M216.15,213.55 C215.82,214.40 214.48,217.79 214.15,218.64 " fill="none" stroke="#fafafa" stroke-width="1.6" stroke-linecap="round" opacity="0.9"/>
</g>
<path d="M221.71,209.30 C219.83,210.26 213.58,212.32 210.44,215.03 C207.30,217.75 204.68,221.99 202.84,225.61 C201.01,229.23 200.13,233.52 199.44,236.75 C198.74,239.99 198.61,241.78 198.65,245.04 C198.69,248.30 198.91,252.83 199.70,256.31 C200.48,259.79 201.36,263.39 203.37,265.93 C205.37,268.47 210.35,270.60 211.75,271.53 " fill="none" stroke="#8a8a8a" stroke-width="0.4"/>
<clipPath id="clipbgT142"><path d="M226.05,209.30 C226.37,209.30 225.79,208.34 227.99,209.30 C230.20,210.26 236.12,212.32 239.26,215.03 C242.40,217.75 245.02,221.99 246.86,225.61 C248.69,229.23 249.57,233.52 250.26,236.75 C250.96,239.99 251.09,241.78 251.05,245.04 C251.01,248.30 250.79,252.83 250.00,256.31 C249.22,259.79 248.34,263.39 246.33,265.93 C244.33,268.47 241.33,270.36 237.95,271.53 C234.57,272.71 228.03,272.76 226.05,273.00 Z"/></clipPath>
<path d="M226.05,209.30 C226.37,209.30 225.79,208.34 227.99,209.30 C230.20,210.26 236.12,212.32 239.26,215.03 C242.40,217.75 245.02,221.99 246.86,225.61 C248.69,229.23 249.57,233.52 250.26,236.75 C250.96,239.99 251.09,241.78 251.05,245.04 C251.01,248.30 250.79,252.83 250.00,256.31 C249.22,259.79 248.34,263.39 246.33,265.93 C244.33,268.47 241.33,270.36 237.95,271.53 C234.57,272.71 228.03,272.76 226.05,273.00 Z" fill="url(#bgT1)" stroke="none" stroke-width="1"/>
<g clip-path="url(#clipbgT142)">
<path d="M227.99,209.30 C229.87,210.26 236.12,212.32 239.26,215.03 C242.40,217.75 245.02,221.99 246.86,225.61 C248.69,229.23 249.57,233.52 250.26,236.75 C250.96,239.99 251.09,241.78 251.05,245.04 C251.01,248.30 250.79,252.83 250.00,256.31 C249.22,259.79 248.34,263.39 246.33,265.93 C244.33,268.47 239.35,270.60 237.95,271.53 " fill="none" stroke="#8c8c8c" stroke-width="5" opacity="0.45"/>
<path d="M227.99,209.30 C229.87,210.26 236.12,212.32 239.26,215.03 C242.40,217.75 245.02,221.99 246.86,225.61 C248.69,229.23 249.57,233.52 250.26,236.75 C250.96,239.99 251.09,241.78 251.05,245.04 C251.01,248.30 250.79,252.83 250.00,256.31 C249.22,259.79 248.34,263.39 246.33,265.93 C244.33,268.47 239.35,270.60 237.95,271.53 " fill="none" stroke="#7a7a7a" stroke-width="2" opacity="0.5"/>
<path d="M239.80,215.67 C239.26,216.63 236.76,219.39 236.55,221.40 C236.34,223.42 237.05,226.29 238.55,227.77 C240.05,229.26 244.38,229.90 245.55,230.32 " fill="none" stroke="#7e7e7e" stroke-width="1.3" stroke-linecap="round" opacity="0.9"/>
<path d="M239.80,217.37 C239.26,218.33 236.76,221.09 236.55,223.10 C236.34,225.12 237.05,227.99 238.55,229.47 C240.05,230.96 244.38,231.60 245.55,232.02 " fill="none" stroke="#fafafa" stroke-width="1.6" stroke-linecap="round" opacity="0.9"/>
<path d="M230.55,219.49 C231.17,220.45 232.88,223.00 234.30,225.23 C235.72,227.45 238.26,231.59 239.05,232.87 " fill="none" stroke="#7e7e7e" stroke-width="1.3" stroke-linecap="round" opacity="0.9"/>
<path d="M230.55,221.19 C231.17,222.15 232.88,224.70 234.30,226.93 C235.72,229.15 238.26,233.29 239.05,234.57 " fill="none" stroke="#fafafa" stroke-width="1.6" stroke-linecap="round" opacity="0.9"/>
<path d="M250.30,237.33 C249.26,237.97 246.34,239.45 244.05,241.15 C241.76,242.85 239.05,245.72 236.55,247.52 C234.05,249.32 230.30,251.24 229.05,251.98 " fill="none" stroke="#7e7e7e" stroke-width="1.3" stroke-linecap="round" opacity="0.9"/>
<path d="M250.30,239.03 C249.26,239.66 246.34,241.15 244.05,242.85 C241.76,244.55 239.05,247.42 236.55,249.22 C234.05,251.02 230.30,252.94 229.05,253.68 " fill="none" stroke="#fafafa" stroke-width="1.6" stroke-linecap="round" opacity="0.9"/>
<path d="M250.55,245.61 C249.63,246.14 247.05,247.20 245.05,248.79 C243.05,250.39 240.55,253.25 238.55,255.16 C236.55,257.07 233.97,259.41 233.05,260.26 " fill="none" stroke="#7e7e7e" stroke-width="1.3" stroke-linecap="round" opacity="0.9"/>
<path d="M250.55,247.31 C249.63,247.84 247.05,248.90 245.05,250.49 C243.05,252.09 240.55,254.95 238.55,256.86 C236.55,258.77 233.97,261.11 233.05,261.96 " fill="none" stroke="#fafafa" stroke-width="1.6" stroke-linecap="round" opacity="0.9"/>
<path d="M249.80,253.89 C248.84,254.53 246.13,256.12 244.05,257.71 C241.97,259.30 238.42,262.49 237.30,263.44 " fill="none" stroke="#7e7e7e" stroke-width="1.3" stroke-linecap="round" opacity="0.9"/>
<path d="M249.80,255.59 C248.84,256.23 246.13,257.82 244.05,259.41 C241.97,261.00 238.42,264.19 237.30,265.14 " fill="none" stroke="#fafafa" stroke-width="1.6" stroke-linecap="round" opacity="0.9"/>
<path d="M248.55,264.08 C247.30,264.40 243.55,265.57 241.05,265.99 C238.55,266.42 235.84,266.52 233.55,266.63 C231.26,266.74 228.34,266.63 227.30,266.63 " fill="none" stroke="#7e7e7e" stroke-width="1.3" stroke-linecap="round" opacity="0.9"/>
<path d="M248.55,265.78 C247.30,266.10 243.55,267.27 241.05,267.69 C238.55,268.12 235.84,268.22 233.55,268.33 C231.26,268.44 228.34,268.33 227.30,268.33 " fill="none" stroke="#fafafa" stroke-width="1.6" stroke-linecap="round" opacity="0.9"/>
<path d="M229.05,233.51 C229.55,234.46 231.55,238.28 232.05,239.24 " fill="none" stroke="#7e7e7e" stroke-width="1.3" stroke-linecap="round" opacity="0.9"/>
<path d="M229.05,235.21 C229.55,236.16 231.55,239.98 232.05,240.94 " fill="none" stroke="#fafafa" stroke-width="1.6" stroke-linecap="round" opacity="0.9"/>
<path d="M246.55,220.77 C246.88,222.04 248.22,227.14 248.55,228.41 " fill="none" stroke="#7e7e7e" stroke-width="1.3" stroke-linecap="round" opacity="0.9"/>
<path d="M246.55,222.47 C246.88,223.74 248.22,228.84 248.55,230.11 " fill="none" stroke="#fafafa" stroke-width="1.6" stroke-linecap="round" opacity="0.9"/>
<path d="M233.55,211.85 C233.88,212.70 235.22,216.09 235.55,216.94 " fill="none" stroke="#7e7e7e" stroke-width="1.3" stroke-linecap="round" opacity="0.9"/>
<path d="M233.55,213.55 C233.88,214.40 235.22,217.79 235.55,218.64 " fill="none" stroke="#fafafa" stroke-width="1.6" stroke-linecap="round" opacity="0.9"/>
</g>
<path d="M227.99,209.30 C229.87,210.26 236.12,212.32 239.26,215.03 C242.40,217.75 245.02,221.99 246.86,225.61 C248.69,229.23 249.57,233.52 250.26,236.75 C250.96,239.99 251.09,241.78 251.05,245.04 C251.01,248.30 250.79,252.83 250.00,256.31 C249.22,259.79 248.34,263.39 246.33,265.93 C244.33,268.47 239.35,270.60 237.95,271.53 " fill="none" stroke="#8a8a8a" stroke-width="0.4"/>
<clipPath id="clipbgB190"><path d="M223.65,277.48 C223.16,277.40 222.67,276.81 220.72,276.97 C218.77,277.13 214.53,277.45 211.95,278.44 C209.37,279.44 207.18,280.58 205.24,282.93 C203.31,285.28 201.37,289.13 200.34,292.55 C199.31,295.96 199.14,300.08 199.05,303.44 C198.96,306.81 199.22,309.59 199.82,312.74 C200.43,315.89 201.29,319.36 202.66,322.35 C204.04,325.34 205.97,328.28 208.08,330.69 C210.19,333.09 212.94,335.28 215.30,336.77 C217.67,338.27 220.88,339.07 222.27,339.66 C223.66,340.25 223.42,340.19 223.65,340.30 Z"/></clipPath>
<path d="M223.65,277.48 C223.16,277.40 222.67,276.81 220.72,276.97 C218.77,277.13 214.53,277.45 211.95,278.44 C209.37,279.44 207.18,280.58 205.24,282.93 C203.31,285.28 201.37,289.13 200.34,292.55 C199.31,295.96 199.14,300.08 199.05,303.44 C198.96,306.81 199.22,309.59 199.82,312.74 C200.43,315.89 201.29,319.36 202.66,322.35 C204.04,325.34 205.97,328.28 208.08,330.69 C210.19,333.09 212.94,335.28 215.30,336.77 C217.67,338.27 220.88,339.07 222.27,339.66 C223.66,340.25 223.42,340.19 223.65,340.30 Z" fill="url(#bgB1)" stroke="none" stroke-width="1"/>
<g clip-path="url(#clipbgB190)">
<path d="M220.72,276.97 C219.26,277.21 214.53,277.45 211.95,278.44 C209.37,279.44 207.18,280.58 205.24,282.93 C203.31,285.28 201.37,289.13 200.34,292.55 C199.31,295.96 199.14,300.08 199.05,303.44 C198.96,306.81 199.22,309.59 199.82,312.74 C200.43,315.89 201.29,319.36 202.66,322.35 C204.04,325.34 205.97,328.28 208.08,330.69 C210.19,333.09 212.94,335.28 215.30,336.77 C217.67,338.27 221.11,339.18 222.27,339.66 " fill="none" stroke="#8c8c8c" stroke-width="5" opacity="0.45"/>
<path d="M220.72,276.97 C219.26,277.21 214.53,277.45 211.95,278.44 C209.37,279.44 207.18,280.58 205.24,282.93 C203.31,285.28 201.37,289.13 200.34,292.55 C199.31,295.96 199.14,300.08 199.05,303.44 C198.96,306.81 199.22,309.59 199.82,312.74 C200.43,315.89 201.29,319.36 202.66,322.35 C204.04,325.34 205.97,328.28 208.08,330.69 C210.19,333.09 212.94,335.28 215.30,336.77 C217.67,338.27 221.11,339.18 222.27,339.66 " fill="none" stroke="#7a7a7a" stroke-width="2" opacity="0.5"/>
<path d="M217.50,280.05 C216.47,280.69 213.11,281.65 211.35,283.89 C209.59,286.14 207.91,289.77 206.92,293.51 C205.94,297.25 205.69,304.19 205.45,306.33 " fill="none" stroke="#868686" stroke-width="1.3" stroke-linecap="round" opacity="0.9"/>
<path d="M217.50,281.75 C216.47,282.39 213.11,283.35 211.35,285.59 C209.59,287.84 207.91,291.47 206.92,295.21 C205.94,298.95 205.69,305.89 205.45,308.03 " fill="none" stroke="#fafafa" stroke-width="1.6" stroke-linecap="round" opacity="0.9"/>
<path d="M220.70,283.89 C220.08,285.49 217.83,289.98 217.01,293.51 C216.19,297.03 215.82,301.52 215.78,305.05 C215.74,308.57 216.60,313.06 216.76,314.66 " fill="none" stroke="#868686" stroke-width="1.3" stroke-linecap="round" opacity="0.9"/>
<path d="M220.70,285.59 C220.08,287.19 217.83,291.68 217.01,295.21 C216.19,298.73 215.82,303.22 215.78,306.75 C215.74,310.27 216.60,314.76 216.76,316.36 " fill="none" stroke="#fafafa" stroke-width="1.6" stroke-linecap="round" opacity="0.9"/>
<path d="M202.00,308.25 C202.58,309.96 203.97,315.51 205.45,318.51 C206.92,321.50 209.96,324.92 210.86,326.20 " fill="none" stroke="#868686" stroke-width="1.3" stroke-linecap="round" opacity="0.9"/>
<path d="M202.00,309.95 C202.58,311.66 203.97,317.21 205.45,320.21 C206.92,323.20 209.96,326.62 210.86,327.90 " fill="none" stroke="#fafafa" stroke-width="1.6" stroke-linecap="round" opacity="0.9"/>
<path d="M200.03,315.94 C200.61,317.44 202.00,322.25 203.48,324.92 C204.95,327.59 207.99,330.79 208.89,331.97 " fill="none" stroke="#868686" stroke-width="1.3" stroke-linecap="round" opacity="0.9"/>
<path d="M200.03,317.64 C200.61,319.14 202.00,323.95 203.48,326.62 C204.95,329.29 207.99,332.49 208.89,333.67 " fill="none" stroke="#fafafa" stroke-width="1.6" stroke-linecap="round" opacity="0.9"/>
<path d="M210.12,308.25 C210.53,309.10 212.17,312.52 212.58,313.38 " fill="none" stroke="#868686" stroke-width="1.3" stroke-linecap="round" opacity="0.9"/>
<path d="M210.12,309.95 C210.53,310.80 212.17,314.22 212.58,315.08 " fill="none" stroke="#fafafa" stroke-width="1.6" stroke-linecap="round" opacity="0.9"/>
<path d="M202.74,289.02 C202.33,290.62 200.69,297.03 200.28,298.63 " fill="none" stroke="#868686" stroke-width="1.3" stroke-linecap="round" opacity="0.9"/>
<path d="M202.74,290.72 C202.33,292.32 200.69,298.73 200.28,300.33 " fill="none" stroke="#fafafa" stroke-width="1.6" stroke-linecap="round" opacity="0.9"/>
<path d="M221.19,321.07 C220.57,322.14 218.32,324.81 217.50,327.48 C216.68,330.15 216.47,335.49 216.27,337.10 " fill="none" stroke="#868686" stroke-width="1.3" stroke-linecap="round" opacity="0.9"/>
<path d="M221.19,322.77 C220.57,323.84 218.32,326.51 217.50,329.18 C216.68,331.85 216.47,337.19 216.27,338.80 " fill="none" stroke="#fafafa" stroke-width="1.6" stroke-linecap="round" opacity="0.9"/>
</g>
<path d="M220.72,276.97 C219.26,277.21 214.53,277.45 211.95,278.44 C209.37,279.44 207.18,280.58 205.24,282.93 C203.31,285.28 201.37,289.13 200.34,292.55 C199.31,295.96 199.14,300.08 199.05,303.44 C198.96,306.81 199.22,309.59 199.82,312.74 C200.43,315.89 201.29,319.36 202.66,322.35 C204.04,325.34 205.97,328.28 208.08,330.69 C210.19,333.09 212.94,335.28 215.30,336.77 C217.67,338.27 221.11,339.18 222.27,339.66 " fill="none" stroke="#8a8a8a" stroke-width="0.4"/>
<clipPath id="clipbgB192"><path d="M226.05,277.48 C226.54,277.40 227.03,276.81 228.98,276.97 C230.93,277.13 235.17,277.45 237.75,278.44 C240.33,279.44 242.52,280.58 244.46,282.93 C246.39,285.28 248.33,289.13 249.36,292.55 C250.39,295.96 250.56,300.08 250.65,303.44 C250.74,306.81 250.48,309.59 249.88,312.74 C249.27,315.89 248.41,319.36 247.04,322.35 C245.66,325.34 243.73,328.28 241.62,330.69 C239.51,333.09 236.76,335.28 234.40,336.77 C232.03,338.27 228.82,339.07 227.43,339.66 C226.04,340.25 226.28,340.19 226.05,340.30 Z"/></clipPath>
<path d="M226.05,277.48 C226.54,277.40 227.03,276.81 228.98,276.97 C230.93,277.13 235.17,277.45 237.75,278.44 C240.33,279.44 242.52,280.58 244.46,282.93 C246.39,285.28 248.33,289.13 249.36,292.55 C250.39,295.96 250.56,300.08 250.65,303.44 C250.74,306.81 250.48,309.59 249.88,312.74 C249.27,315.89 248.41,319.36 247.04,322.35 C245.66,325.34 243.73,328.28 241.62,330.69 C239.51,333.09 236.76,335.28 234.40,336.77 C232.03,338.27 228.82,339.07 227.43,339.66 C226.04,340.25 226.28,340.19 226.05,340.30 Z" fill="url(#bgB1)" stroke="none" stroke-width="1"/>
<g clip-path="url(#clipbgB192)">
<path d="M228.98,276.97 C230.44,277.21 235.17,277.45 237.75,278.44 C240.33,279.44 242.52,280.58 244.46,282.93 C246.39,285.28 248.33,289.13 249.36,292.55 C250.39,295.96 250.56,300.08 250.65,303.44 C250.74,306.81 250.48,309.59 249.88,312.74 C249.27,315.89 248.41,319.36 247.04,322.35 C245.66,325.34 243.73,328.28 241.62,330.69 C239.51,333.09 236.76,335.28 234.40,336.77 C232.03,338.27 228.59,339.18 227.43,339.66 " fill="none" stroke="#8c8c8c" stroke-width="5" opacity="0.45"/>
<path d="M228.98,276.97 C230.44,277.21 235.17,277.45 237.75,278.44 C240.33,279.44 242.52,280.58 244.46,282.93 C246.39,285.28 248.33,289.13 249.36,292.55 C250.39,295.96 250.56,300.08 250.65,303.44 C250.74,306.81 250.48,309.59 249.88,312.74 C249.27,315.89 248.41,319.36 247.04,322.35 C245.66,325.34 243.73,328.28 241.62,330.69 C239.51,333.09 236.76,335.28 234.40,336.77 C232.03,338.27 228.59,339.18 227.43,339.66 " fill="none" stroke="#7a7a7a" stroke-width="2" opacity="0.5"/>
<path d="M232.20,280.05 C233.22,280.69 236.59,281.65 238.35,283.89 C240.11,286.14 241.79,289.77 242.78,293.51 C243.76,297.25 244.01,304.19 244.25,306.33 " fill="none" stroke="#868686" stroke-width="1.3" stroke-linecap="round" opacity="0.9"/>
<path d="M232.20,281.75 C233.22,282.39 236.59,283.35 238.35,285.59 C240.11,287.84 241.79,291.47 242.78,295.21 C243.76,298.95 244.01,305.89 244.25,308.03 " fill="none" stroke="#fafafa" stroke-width="1.6" stroke-linecap="round" opacity="0.9"/>
<path d="M229.00,283.89 C229.62,285.49 231.87,289.98 232.69,293.51 C233.51,297.03 233.88,301.52 233.92,305.05 C233.96,308.57 233.10,313.06 232.94,314.66 " fill="none" stroke="#868686" stroke-width="1.3" stroke-linecap="round" opacity="0.9"/>
<path d="M229.00,285.59 C229.62,287.19 231.87,291.68 232.69,295.21 C233.51,298.73 233.88,303.22 233.92,306.75 C233.96,310.27 233.10,314.76 232.94,316.36 " fill="none" stroke="#fafafa" stroke-width="1.6" stroke-linecap="round" opacity="0.9"/>
<path d="M247.70,308.25 C247.12,309.96 245.73,315.51 244.25,318.51 C242.78,321.50 239.74,324.92 238.84,326.20 " fill="none" stroke="#868686" stroke-width="1.3" stroke-linecap="round" opacity="0.9"/>
<path d="M247.70,309.95 C247.12,311.66 245.73,317.21 244.25,320.21 C242.78,323.20 239.74,326.62 238.84,327.90 " fill="none" stroke="#fafafa" stroke-width="1.6" stroke-linecap="round" opacity="0.9"/>
<path d="M249.67,315.94 C249.09,317.44 247.70,322.25 246.22,324.92 C244.75,327.59 241.71,330.79 240.81,331.97 " fill="none" stroke="#868686" stroke-width="1.3" stroke-linecap="round" opacity="0.9"/>
<path d="M249.67,317.64 C249.09,319.14 247.70,323.95 246.22,326.62 C244.75,329.29 241.71,332.49 240.81,333.67 " fill="none" stroke="#fafafa" stroke-width="1.6" stroke-linecap="round" opacity="0.9"/>
<path d="M239.58,308.25 C239.17,309.10 237.53,312.52 237.12,313.38 " fill="none" stroke="#868686" stroke-width="1.3" stroke-linecap="round" opacity="0.9"/>
<path d="M239.58,309.95 C239.17,310.80 237.53,314.22 237.12,315.08 " fill="none" stroke="#fafafa" stroke-width="1.6" stroke-linecap="round" opacity="0.9"/>
<path d="M246.96,289.02 C247.37,290.62 249.01,297.03 249.42,298.63 " fill="none" stroke="#868686" stroke-width="1.3" stroke-linecap="round" opacity="0.9"/>
<path d="M246.96,290.72 C247.37,292.32 249.01,298.73 249.42,300.33 " fill="none" stroke="#fafafa" stroke-width="1.6" stroke-linecap="round" opacity="0.9"/>
<path d="M228.51,321.07 C229.12,322.14 231.38,324.81 232.20,327.48 C233.02,330.15 233.22,335.49 233.43,337.10 " fill="none" stroke="#868686" stroke-width="1.3" stroke-linecap="round" opacity="0.9"/>
<path d="M228.51,322.77 C229.12,323.84 231.38,326.51 232.20,329.18 C233.02,331.85 233.22,337.19 233.43,338.80 " fill="none" stroke="#fafafa" stroke-width="1.6" stroke-linecap="round" opacity="0.9"/>
</g>
<path d="M228.98,276.97 C230.44,277.21 235.17,277.45 237.75,278.44 C240.33,279.44 242.52,280.58 244.46,282.93 C246.39,285.28 248.33,289.13 249.36,292.55 C250.39,295.96 250.56,300.08 250.65,303.44 C250.74,306.81 250.48,309.59 249.88,312.74 C249.27,315.89 248.41,319.36 247.04,322.35 C245.66,325.34 243.73,328.28 241.62,330.69 C239.51,333.09 236.76,335.28 234.40,336.77 C232.03,338.27 228.59,339.18 227.43,339.66 " fill="none" stroke="#8a8a8a" stroke-width="0.4"/>
<path d="M223.6,217.3 L223.6,222.5 L216.9,222.5 C215.5,225 213,230.5 210.3,232.9 C207,234.5 204,234.8 201.8,236.3 C201.5,237.3 201.8,238 202.5,238.2 C205,238.3 208,238.5 210,240 C214,242.9 217,245 223.6,248.6 Z" fill="#e0565e" stroke="none" stroke-width="1" opacity="0.96"/>
<path d="M226.1,221.1 L230.2,221.1 C232,222.5 233.8,223.8 234.9,225.4 C236,227.5 236.8,229.5 237.8,230.6 C239.5,232 241,232.8 242.5,233.4 C244.5,234.2 245.8,234.6 247,235.3 C247.3,236.2 247.2,236.8 246.6,237.1 C245,237.8 243,238.5 241.6,239.1 C239,241 237,242.5 234.9,243.8 C232.5,245.6 230.5,246.8 228.3,247.6 L226.1,248.5 Z" fill="#e0565e" stroke="none" stroke-width="1" opacity="0.96"/>
<path d="M202,237.2 C206,238.4 210,239.5 214,242.5 C217,244.7 220,246.5 223.6,248.3" fill="none" stroke="#b8323a" stroke-width="0.9"/>
<path d="M247,236.2 C243.5,237.6 240,239.5 235.5,243.2 C232,245.8 229,247.2 226.1,248.2" fill="none" stroke="#b8323a" stroke-width="0.9"/>
<path d="M223.6,323 C219,322.5 214,323 210.7,325.5 C211.5,330 214,333 217.5,334 L219,337 C220.5,338 222,339 223.6,339.5 Z" fill="#c4262d" stroke="none" stroke-width="1"/>
<path d="M226.1,323 C231,322.5 236,323 240,325.5 C239,329 236,332 232.5,333.5 L229,336.5 C228,338 227,339 226.1,339.5 Z" fill="#c4262d" stroke="none" stroke-width="1"/>
<text x="206.20" y="205.10" font-size="7" text-anchor="middle" fill="#333" font-weight="normal"><tspan font-style="italic">p</tspan>=0.0202</text>
<text x="246.30" y="198.80" font-size="7" text-anchor="middle" fill="#333" font-weight="normal"><tspan font-style="italic">p</tspan>=0.0270</text>
<line x1="220.70" y1="206.00" x2="220.70" y2="239.50" stroke="#333" stroke-width="0.7"/>
<line x1="234.00" y1="201.00" x2="234.00" y2="228.00" stroke="#333" stroke-width="0.7"/>
<text x="227.20" y="353.40" font-size="7" text-anchor="middle" fill="#333" font-weight="normal"><tspan font-style="italic">p</tspan>=0.0121</text>
<line x1="219.40" y1="330.40" x2="219.40" y2="347.40" stroke="#222" stroke-width="0.7"/>
<text x="491.50" y="175.40" font-size="7" text-anchor="middle" fill="#333" font-weight="normal"><tspan font-style="italic">p</tspan>-value (Trp &lt; Arg)</text>
<rect x="466.40" y="179.20" width="52.20" height="5.70" fill="url(#pb)" stroke="none" stroke-width="1"/>
<text x="462.20" y="193.00" font-size="7" text-anchor="middle" fill="#333" font-weight="normal">0.05</text>
<text x="511.40" y="193.00" font-size="7" text-anchor="start" fill="#333" font-weight="normal">10<tspan font-size="4.5" dy="-2.5">-6</tspan></text>
<clipPath id="clipbgT2120"><path d="M490.70,204.60 C490.39,204.60 490.98,203.66 488.85,204.60 C486.72,205.54 480.98,207.56 477.93,210.23 C474.88,212.90 472.34,217.07 470.56,220.63 C468.79,224.18 467.94,228.40 467.26,231.58 C466.58,234.76 466.46,236.52 466.50,239.72 C466.54,242.92 466.75,247.38 467.52,250.80 C468.28,254.22 469.12,257.76 471.07,260.25 C473.02,262.74 475.93,264.60 479.20,265.76 C482.47,266.92 488.78,266.96 490.70,267.20 Z"/></clipPath>
<path d="M490.70,204.60 C490.39,204.60 490.98,203.66 488.85,204.60 C486.72,205.54 480.98,207.56 477.93,210.23 C474.88,212.90 472.34,217.07 470.56,220.63 C468.79,224.18 467.94,228.40 467.26,231.58 C466.58,234.76 466.46,236.52 466.50,239.72 C466.54,242.92 466.75,247.38 467.52,250.80 C468.28,254.22 469.12,257.76 471.07,260.25 C473.02,262.74 475.93,264.60 479.20,265.76 C482.47,266.92 488.78,266.96 490.70,267.20 Z" fill="url(#bgT2)" stroke="none" stroke-width="1"/>
<g clip-path="url(#clipbgT2120)">
<path d="M488.85,204.60 C487.03,205.54 480.98,207.56 477.93,210.23 C474.88,212.90 472.34,217.07 470.56,220.63 C468.79,224.18 467.94,228.40 467.26,231.58 C466.58,234.76 466.46,236.52 466.50,239.72 C466.54,242.92 466.75,247.38 467.52,250.80 C468.28,254.22 469.12,257.76 471.07,260.25 C473.02,262.74 477.85,264.84 479.20,265.76 " fill="none" stroke="#8c8c8c" stroke-width="5" opacity="0.45"/>
<path d="M488.85,204.60 C487.03,205.54 480.98,207.56 477.93,210.23 C474.88,212.90 472.34,217.07 470.56,220.63 C468.79,224.18 467.94,228.40 467.26,231.58 C466.58,234.76 466.46,236.52 466.50,239.72 C466.54,242.92 466.75,247.38 467.52,250.80 C468.28,254.22 469.12,257.76 471.07,260.25 C473.02,262.74 477.85,264.84 479.20,265.76 " fill="none" stroke="#7a7a7a" stroke-width="2" opacity="0.5"/>
<path d="M477.39,210.86 C477.91,211.80 480.33,214.51 480.54,216.49 C480.74,218.48 480.05,221.29 478.60,222.75 C477.15,224.21 472.95,224.84 471.82,225.26 " fill="none" stroke="#606060" stroke-width="1.3" stroke-linecap="round" opacity="0.9"/>
<path d="M477.39,212.56 C477.91,213.50 480.33,216.21 480.54,218.19 C480.74,220.18 480.05,222.99 478.60,224.45 C477.15,225.91 472.95,226.54 471.82,226.96 " fill="none" stroke="#fafafa" stroke-width="1.6" stroke-linecap="round" opacity="0.9"/>
<path d="M486.34,214.62 C485.74,215.55 484.09,218.06 482.71,220.25 C481.34,222.44 478.88,226.51 478.12,227.76 " fill="none" stroke="#606060" stroke-width="1.3" stroke-linecap="round" opacity="0.9"/>
<path d="M486.34,216.32 C485.74,217.25 484.09,219.76 482.71,221.95 C481.34,224.14 478.88,228.21 478.12,229.46 " fill="none" stroke="#fafafa" stroke-width="1.6" stroke-linecap="round" opacity="0.9"/>
<path d="M467.23,232.14 C468.23,232.77 471.06,234.23 473.28,235.90 C475.49,237.57 478.12,240.39 480.54,242.16 C482.96,243.93 486.59,245.81 487.80,246.54 " fill="none" stroke="#606060" stroke-width="1.3" stroke-linecap="round" opacity="0.9"/>
<path d="M467.23,233.84 C468.23,234.47 471.06,235.93 473.28,237.60 C475.49,239.27 478.12,242.09 480.54,243.86 C482.96,245.63 486.59,247.51 487.80,248.24 " fill="none" stroke="#fafafa" stroke-width="1.6" stroke-linecap="round" opacity="0.9"/>
<path d="M466.98,240.28 C467.87,240.80 470.37,241.85 472.31,243.41 C474.24,244.98 476.66,247.79 478.60,249.67 C480.54,251.55 483.04,253.85 483.92,254.68 " fill="none" stroke="#606060" stroke-width="1.3" stroke-linecap="round" opacity="0.9"/>
<path d="M466.98,241.98 C467.87,242.50 470.37,243.55 472.31,245.11 C474.24,246.68 476.66,249.49 478.60,251.37 C480.54,253.25 483.04,255.55 483.92,256.38 " fill="none" stroke="#fafafa" stroke-width="1.6" stroke-linecap="round" opacity="0.9"/>
<path d="M467.71,248.42 C468.64,249.05 471.26,250.61 473.28,252.18 C475.29,253.74 478.72,256.87 479.81,257.81 " fill="none" stroke="#606060" stroke-width="1.3" stroke-linecap="round" opacity="0.9"/>
<path d="M467.71,250.12 C468.64,250.75 471.26,252.31 473.28,253.88 C475.29,255.44 478.72,258.57 479.81,259.51 " fill="none" stroke="#fafafa" stroke-width="1.6" stroke-linecap="round" opacity="0.9"/>
<path d="M468.92,258.44 C470.13,258.75 473.76,259.90 476.18,260.31 C478.60,260.73 481.22,260.84 483.44,260.94 C485.66,261.04 488.48,260.94 489.49,260.94 " fill="none" stroke="#606060" stroke-width="1.3" stroke-linecap="round" opacity="0.9"/>
<path d="M468.92,260.14 C470.13,260.45 473.76,261.60 476.18,262.01 C478.60,262.43 481.22,262.54 483.44,262.64 C485.66,262.74 488.48,262.64 489.49,262.64 " fill="none" stroke="#fafafa" stroke-width="1.6" stroke-linecap="round" opacity="0.9"/>
<path d="M487.80,228.39 C487.31,229.33 485.38,233.08 484.89,234.02 " fill="none" stroke="#606060" stroke-width="1.3" stroke-linecap="round" opacity="0.9"/>
<path d="M487.80,230.09 C487.31,231.03 485.38,234.78 484.89,235.72 " fill="none" stroke="#fafafa" stroke-width="1.6" stroke-linecap="round" opacity="0.9"/>
<path d="M470.86,215.87 C470.53,217.12 469.24,222.13 468.92,223.38 " fill="none" stroke="#606060" stroke-width="1.3" stroke-linecap="round" opacity="0.9"/>
<path d="M470.86,217.57 C470.53,218.82 469.24,223.83 468.92,225.08 " fill="none" stroke="#fafafa" stroke-width="1.6" stroke-linecap="round" opacity="0.9"/>
<path d="M483.44,207.10 C483.12,207.94 481.83,211.28 481.50,212.11 " fill="none" stroke="#606060" stroke-width="1.3" stroke-linecap="round" opacity="0.9"/>
<path d="M483.44,208.80 C483.12,209.64 481.83,212.98 481.50,213.81 " fill="none" stroke="#fafafa" stroke-width="1.6" stroke-linecap="round" opacity="0.9"/>
</g>
<path d="M488.85,204.60 C487.03,205.54 480.98,207.56 477.93,210.23 C474.88,212.90 472.34,217.07 470.56,220.63 C468.79,224.18 467.94,228.40 467.26,231.58 C466.58,234.76 466.46,236.52 466.50,239.72 C466.54,242.92 466.75,247.38 467.52,250.80 C468.28,254.22 469.12,257.76 471.07,260.25 C473.02,262.74 477.85,264.84 479.20,265.76 " fill="none" stroke="#8a8a8a" stroke-width="0.4"/>
<clipPath id="clipbgT2122"><path d="M493.10,204.60 C493.41,204.60 492.82,203.66 494.95,204.60 C497.08,205.54 502.82,207.56 505.87,210.23 C508.92,212.90 511.46,217.07 513.24,220.63 C515.01,224.18 515.86,228.40 516.54,231.58 C517.22,234.76 517.34,236.52 517.30,239.72 C517.26,242.92 517.05,247.38 516.28,250.80 C515.52,254.22 514.68,257.76 512.73,260.25 C510.78,262.74 507.87,264.60 504.60,265.76 C501.33,266.92 495.02,266.96 493.10,267.20 Z"/></clipPath>
<path d="M493.10,204.60 C493.41,204.60 492.82,203.66 494.95,204.60 C497.08,205.54 502.82,207.56 505.87,210.23 C508.92,212.90 511.46,217.07 513.24,220.63 C515.01,224.18 515.86,228.40 516.54,231.58 C517.22,234.76 517.34,236.52 517.30,239.72 C517.26,242.92 517.05,247.38 516.28,250.80 C515.52,254.22 514.68,257.76 512.73,260.25 C510.78,262.74 507.87,264.60 504.60,265.76 C501.33,266.92 495.02,266.96 493.10,267.20 Z" fill="url(#bgT2)" stroke="none" stroke-width="1"/>
<g clip-path="url(#clipbgT2122)">
<path d="M494.95,204.60 C496.77,205.54 502.82,207.56 505.87,210.23 C508.92,212.90 511.46,217.07 513.24,220.63 C515.01,224.18 515.86,228.40 516.54,231.58 C517.22,234.76 517.34,236.52 517.30,239.72 C517.26,242.92 517.05,247.38 516.28,250.80 C515.52,254.22 514.68,257.76 512.73,260.25 C510.78,262.74 505.95,264.84 504.60,265.76 " fill="none" stroke="#8c8c8c" stroke-width="5" opacity="0.45"/>
<path d="M494.95,204.60 C496.77,205.54 502.82,207.56 505.87,210.23 C508.92,212.90 511.46,217.07 513.24,220.63 C515.01,224.18 515.86,228.40 516.54,231.58 C517.22,234.76 517.34,236.52 517.30,239.72 C517.26,242.92 517.05,247.38 516.28,250.80 C515.52,254.22 514.68,257.76 512.73,260.25 C510.78,262.74 505.95,264.84 504.60,265.76 " fill="none" stroke="#7a7a7a" stroke-width="2" opacity="0.5"/>
<path d="M506.41,210.86 C505.89,211.80 503.47,214.51 503.26,216.49 C503.06,218.48 503.75,221.29 505.20,222.75 C506.65,224.21 510.85,224.84 511.98,225.26 " fill="none" stroke="#606060" stroke-width="1.3" stroke-linecap="round" opacity="0.9"/>
<path d="M506.41,212.56 C505.89,213.50 503.47,216.21 503.26,218.19 C503.06,220.18 503.75,222.99 505.20,224.45 C506.65,225.91 510.85,226.54 511.98,226.96 " fill="none" stroke="#fafafa" stroke-width="1.6" stroke-linecap="round" opacity="0.9"/>
<path d="M497.46,214.62 C498.06,215.55 499.71,218.06 501.09,220.25 C502.46,222.44 504.92,226.51 505.68,227.76 " fill="none" stroke="#606060" stroke-width="1.3" stroke-linecap="round" opacity="0.9"/>
<path d="M497.46,216.32 C498.06,217.25 499.71,219.76 501.09,221.95 C502.46,224.14 504.92,228.21 505.68,229.46 " fill="none" stroke="#fafafa" stroke-width="1.6" stroke-linecap="round" opacity="0.9"/>
<path d="M516.57,232.14 C515.57,232.77 512.74,234.23 510.52,235.90 C508.31,237.57 505.68,240.39 503.26,242.16 C500.84,243.93 497.21,245.81 496.00,246.54 " fill="none" stroke="#606060" stroke-width="1.3" stroke-linecap="round" opacity="0.9"/>
<path d="M516.57,233.84 C515.57,234.47 512.74,235.93 510.52,237.60 C508.31,239.27 505.68,242.09 503.26,243.86 C500.84,245.63 497.21,247.51 496.00,248.24 " fill="none" stroke="#fafafa" stroke-width="1.6" stroke-linecap="round" opacity="0.9"/>
<path d="M516.82,240.28 C515.93,240.80 513.43,241.85 511.49,243.41 C509.56,244.98 507.14,247.79 505.20,249.67 C503.26,251.55 500.76,253.85 499.88,254.68 " fill="none" stroke="#606060" stroke-width="1.3" stroke-linecap="round" opacity="0.9"/>
<path d="M516.82,241.98 C515.93,242.50 513.43,243.55 511.49,245.11 C509.56,246.68 507.14,249.49 505.20,251.37 C503.26,253.25 500.76,255.55 499.88,256.38 " fill="none" stroke="#fafafa" stroke-width="1.6" stroke-linecap="round" opacity="0.9"/>
<path d="M516.09,248.42 C515.16,249.05 512.54,250.61 510.52,252.18 C508.51,253.74 505.08,256.87 503.99,257.81 " fill="none" stroke="#606060" stroke-width="1.3" stroke-linecap="round" opacity="0.9"/>
<path d="M516.09,250.12 C515.16,250.75 512.54,252.31 510.52,253.88 C508.51,255.44 505.08,258.57 503.99,259.51 " fill="none" stroke="#fafafa" stroke-width="1.6" stroke-linecap="round" opacity="0.9"/>
<path d="M514.88,258.44 C513.67,258.75 510.04,259.90 507.62,260.31 C505.20,260.73 502.58,260.84 500.36,260.94 C498.14,261.04 495.32,260.94 494.31,260.94 " fill="none" stroke="#606060" stroke-width="1.3" stroke-linecap="round" opacity="0.9"/>
<path d="M514.88,260.14 C513.67,260.45 510.04,261.60 507.62,262.01 C505.20,262.43 502.58,262.54 500.36,262.64 C498.14,262.74 495.32,262.64 494.31,262.64 " fill="none" stroke="#fafafa" stroke-width="1.6" stroke-linecap="round" opacity="0.9"/>
<path d="M496.00,228.39 C496.49,229.33 498.42,233.08 498.91,234.02 " fill="none" stroke="#606060" stroke-width="1.3" stroke-linecap="round" opacity="0.9"/>
<path d="M496.00,230.09 C496.49,231.03 498.42,234.78 498.91,235.72 " fill="none" stroke="#fafafa" stroke-width="1.6" stroke-linecap="round" opacity="0.9"/>
<path d="M512.94,215.87 C513.27,217.12 514.56,222.13 514.88,223.38 " fill="none" stroke="#606060" stroke-width="1.3" stroke-linecap="round" opacity="0.9"/>
<path d="M512.94,217.57 C513.27,218.82 514.56,223.83 514.88,225.08 " fill="none" stroke="#fafafa" stroke-width="1.6" stroke-linecap="round" opacity="0.9"/>
<path d="M500.36,207.10 C500.68,207.94 501.97,211.28 502.30,212.11 " fill="none" stroke="#606060" stroke-width="1.3" stroke-linecap="round" opacity="0.9"/>
<path d="M500.36,208.80 C500.68,209.64 501.97,212.98 502.30,213.81 " fill="none" stroke="#fafafa" stroke-width="1.6" stroke-linecap="round" opacity="0.9"/>
</g>
<path d="M494.95,204.60 C496.77,205.54 502.82,207.56 505.87,210.23 C508.92,212.90 511.46,217.07 513.24,220.63 C515.01,224.18 515.86,228.40 516.54,231.58 C517.22,234.76 517.34,236.52 517.30,239.72 C517.26,242.92 517.05,247.38 516.28,250.80 C515.52,254.22 514.68,257.76 512.73,260.25 C510.78,262.74 505.95,264.84 504.60,265.76 " fill="none" stroke="#8a8a8a" stroke-width="0.4"/>
<clipPath id="clipbgB2150"><path d="M490.70,271.26 C490.23,271.18 489.77,270.60 487.87,270.76 C485.97,270.92 481.82,271.23 479.30,272.21 C476.78,273.19 474.64,274.32 472.75,276.64 C470.86,278.95 468.97,282.75 467.96,286.12 C466.95,289.49 466.78,293.54 466.70,296.86 C466.62,300.18 466.87,302.92 467.46,306.02 C468.04,309.13 468.88,312.55 470.23,315.50 C471.57,318.45 473.46,321.35 475.52,323.72 C477.58,326.09 480.27,328.25 482.58,329.72 C484.89,331.20 488.03,331.99 489.38,332.57 C490.73,333.15 490.48,333.09 490.70,333.20 Z"/></clipPath>
<path d="M490.70,271.26 C490.23,271.18 489.77,270.60 487.87,270.76 C485.97,270.92 481.82,271.23 479.30,272.21 C476.78,273.19 474.64,274.32 472.75,276.64 C470.86,278.95 468.97,282.75 467.96,286.12 C466.95,289.49 466.78,293.54 466.70,296.86 C466.62,300.18 466.87,302.92 467.46,306.02 C468.04,309.13 468.88,312.55 470.23,315.50 C471.57,318.45 473.46,321.35 475.52,323.72 C477.58,326.09 480.27,328.25 482.58,329.72 C484.89,331.20 488.03,331.99 489.38,332.57 C490.73,333.15 490.48,333.09 490.70,333.20 Z" fill="url(#bgB2)" stroke="none" stroke-width="1"/>
<g clip-path="url(#clipbgB2150)">
<path d="M487.87,270.76 C486.44,271.00 481.82,271.23 479.30,272.21 C476.78,273.19 474.64,274.32 472.75,276.64 C470.86,278.95 468.97,282.75 467.96,286.12 C466.95,289.49 466.78,293.54 466.70,296.86 C466.62,300.18 466.87,302.92 467.46,306.02 C468.04,309.13 468.88,312.55 470.23,315.50 C471.57,318.45 473.46,321.35 475.52,323.72 C477.58,326.09 480.27,328.25 482.58,329.72 C484.89,331.20 488.25,332.09 489.38,332.57 " fill="none" stroke="#8c8c8c" stroke-width="5" opacity="0.45"/>
<path d="M487.87,270.76 C486.44,271.00 481.82,271.23 479.30,272.21 C476.78,273.19 474.64,274.32 472.75,276.64 C470.86,278.95 468.97,282.75 467.96,286.12 C466.95,289.49 466.78,293.54 466.70,296.86 C466.62,300.18 466.87,302.92 467.46,306.02 C468.04,309.13 468.88,312.55 470.23,315.50 C471.57,318.45 473.46,321.35 475.52,323.72 C477.58,326.09 480.27,328.25 482.58,329.72 C484.89,331.20 488.25,332.09 489.38,332.57 " fill="none" stroke="#7a7a7a" stroke-width="2" opacity="0.5"/>
<path d="M484.70,273.79 C483.70,274.42 480.42,275.37 478.70,277.58 C476.98,279.80 475.34,283.38 474.38,287.06 C473.42,290.75 473.18,297.60 472.94,299.70 " fill="none" stroke="#6a6a6a" stroke-width="1.3" stroke-linecap="round" opacity="0.9"/>
<path d="M484.70,275.49 C483.70,276.12 480.42,277.07 478.70,279.28 C476.98,281.50 475.34,285.08 474.38,288.76 C473.42,292.45 473.18,299.30 472.94,301.40 " fill="none" stroke="#fafafa" stroke-width="1.6" stroke-linecap="round" opacity="0.9"/>
<path d="M487.82,277.58 C487.22,279.16 485.02,283.59 484.22,287.06 C483.42,290.54 483.06,294.96 483.02,298.44 C482.98,301.92 483.82,306.34 483.98,307.92 " fill="none" stroke="#6a6a6a" stroke-width="1.3" stroke-linecap="round" opacity="0.9"/>
<path d="M487.82,279.28 C487.22,280.86 485.02,285.29 484.22,288.76 C483.42,292.24 483.06,296.66 483.02,300.14 C482.98,303.62 483.82,308.04 483.98,309.62 " fill="none" stroke="#fafafa" stroke-width="1.6" stroke-linecap="round" opacity="0.9"/>
<path d="M469.58,301.60 C470.14,303.29 471.50,308.76 472.94,311.71 C474.38,314.66 477.34,318.03 478.22,319.30 " fill="none" stroke="#6a6a6a" stroke-width="1.3" stroke-linecap="round" opacity="0.9"/>
<path d="M469.58,303.30 C470.14,304.99 471.50,310.46 472.94,313.41 C474.38,316.36 477.34,319.73 478.22,321.00 " fill="none" stroke="#fafafa" stroke-width="1.6" stroke-linecap="round" opacity="0.9"/>
<path d="M467.66,309.18 C468.22,310.66 469.58,315.40 471.02,318.03 C472.46,320.67 475.42,323.83 476.30,324.98 " fill="none" stroke="#6a6a6a" stroke-width="1.3" stroke-linecap="round" opacity="0.9"/>
<path d="M467.66,310.88 C468.22,312.36 469.58,317.10 471.02,319.73 C472.46,322.37 475.42,325.53 476.30,326.68 " fill="none" stroke="#fafafa" stroke-width="1.6" stroke-linecap="round" opacity="0.9"/>
<path d="M477.50,301.60 C477.90,302.44 479.50,305.81 479.90,306.66 " fill="none" stroke="#6a6a6a" stroke-width="1.3" stroke-linecap="round" opacity="0.9"/>
<path d="M477.50,303.30 C477.90,304.14 479.50,307.51 479.90,308.36 " fill="none" stroke="#fafafa" stroke-width="1.6" stroke-linecap="round" opacity="0.9"/>
<path d="M470.30,282.64 C469.90,284.22 468.30,290.54 467.90,292.12 " fill="none" stroke="#6a6a6a" stroke-width="1.3" stroke-linecap="round" opacity="0.9"/>
<path d="M470.30,284.34 C469.90,285.92 468.30,292.24 467.90,293.82 " fill="none" stroke="#fafafa" stroke-width="1.6" stroke-linecap="round" opacity="0.9"/>
<path d="M488.30,314.24 C487.70,315.29 485.50,317.93 484.70,320.56 C483.90,323.19 483.70,328.46 483.50,330.04 " fill="none" stroke="#6a6a6a" stroke-width="1.3" stroke-linecap="round" opacity="0.9"/>
<path d="M488.30,315.94 C487.70,316.99 485.50,319.63 484.70,322.26 C483.90,324.89 483.70,330.16 483.50,331.74 " fill="none" stroke="#fafafa" stroke-width="1.6" stroke-linecap="round" opacity="0.9"/>
</g>
<path d="M487.87,270.76 C486.44,271.00 481.82,271.23 479.30,272.21 C476.78,273.19 474.64,274.32 472.75,276.64 C470.86,278.95 468.97,282.75 467.96,286.12 C466.95,289.49 466.78,293.54 466.70,296.86 C466.62,300.18 466.87,302.92 467.46,306.02 C468.04,309.13 468.88,312.55 470.23,315.50 C471.57,318.45 473.46,321.35 475.52,323.72 C477.58,326.09 480.27,328.25 482.58,329.72 C484.89,331.20 488.25,332.09 489.38,332.57 " fill="none" stroke="#8a8a8a" stroke-width="0.4"/>
<clipPath id="clipbgB2152"><path d="M493.10,271.26 C493.57,271.18 494.03,270.60 495.93,270.76 C497.83,270.92 501.98,271.23 504.50,272.21 C507.02,273.19 509.16,274.32 511.05,276.64 C512.94,278.95 514.83,282.75 515.84,286.12 C516.85,289.49 517.02,293.54 517.10,296.86 C517.18,300.18 516.93,302.92 516.34,306.02 C515.76,309.13 514.92,312.55 513.57,315.50 C512.23,318.45 510.34,321.35 508.28,323.72 C506.22,326.09 503.53,328.25 501.22,329.72 C498.91,331.20 495.77,331.99 494.42,332.57 C493.07,333.15 493.32,333.09 493.10,333.20 Z"/></clipPath>
<path d="M493.10,271.26 C493.57,271.18 494.03,270.60 495.93,270.76 C497.83,270.92 501.98,271.23 504.50,272.21 C507.02,273.19 509.16,274.32 511.05,276.64 C512.94,278.95 514.83,282.75 515.84,286.12 C516.85,289.49 517.02,293.54 517.10,296.86 C517.18,300.18 516.93,302.92 516.34,306.02 C515.76,309.13 514.92,312.55 513.57,315.50 C512.23,318.45 510.34,321.35 508.28,323.72 C506.22,326.09 503.53,328.25 501.22,329.72 C498.91,331.20 495.77,331.99 494.42,332.57 C493.07,333.15 493.32,333.09 493.10,333.20 Z" fill="url(#bgB2)" stroke="none" stroke-width="1"/>
<g clip-path="url(#clipbgB2152)">
<path d="M495.93,270.76 C497.36,271.00 501.98,271.23 504.50,272.21 C507.02,273.19 509.16,274.32 511.05,276.64 C512.94,278.95 514.83,282.75 515.84,286.12 C516.85,289.49 517.02,293.54 517.10,296.86 C517.18,300.18 516.93,302.92 516.34,306.02 C515.76,309.13 514.92,312.55 513.57,315.50 C512.23,318.45 510.34,321.35 508.28,323.72 C506.22,326.09 503.53,328.25 501.22,329.72 C498.91,331.20 495.55,332.09 494.42,332.57 " fill="none" stroke="#8c8c8c" stroke-width="5" opacity="0.45"/>
<path d="M495.93,270.76 C497.36,271.00 501.98,271.23 504.50,272.21 C507.02,273.19 509.16,274.32 511.05,276.64 C512.94,278.95 514.83,282.75 515.84,286.12 C516.85,289.49 517.02,293.54 517.10,296.86 C517.18,300.18 516.93,302.92 516.34,306.02 C515.76,309.13 514.92,312.55 513.57,315.50 C512.23,318.45 510.34,321.35 508.28,323.72 C506.22,326.09 503.53,328.25 501.22,329.72 C498.91,331.20 495.55,332.09 494.42,332.57 " fill="none" stroke="#7a7a7a" stroke-width="2" opacity="0.5"/>
<path d="M499.10,273.79 C500.10,274.42 503.38,275.37 505.10,277.58 C506.82,279.80 508.46,283.38 509.42,287.06 C510.38,290.75 510.62,297.60 510.86,299.70 " fill="none" stroke="#6a6a6a" stroke-width="1.3" stroke-linecap="round" opacity="0.9"/>
<path d="M499.10,275.49 C500.10,276.12 503.38,277.07 505.10,279.28 C506.82,281.50 508.46,285.08 509.42,288.76 C510.38,292.45 510.62,299.30 510.86,301.40 " fill="none" stroke="#fafafa" stroke-width="1.6" stroke-linecap="round" opacity="0.9"/>
<path d="M495.98,277.58 C496.58,279.16 498.78,283.59 499.58,287.06 C500.38,290.54 500.74,294.96 500.78,298.44 C500.82,301.92 499.98,306.34 499.82,307.92 " fill="none" stroke="#6a6a6a" stroke-width="1.3" stroke-linecap="round" opacity="0.9"/>
<path d="M495.98,279.28 C496.58,280.86 498.78,285.29 499.58,288.76 C500.38,292.24 500.74,296.66 500.78,300.14 C500.82,303.62 499.98,308.04 499.82,309.62 " fill="none" stroke="#fafafa" stroke-width="1.6" stroke-linecap="round" opacity="0.9"/>
<path d="M514.22,301.60 C513.66,303.29 512.30,308.76 510.86,311.71 C509.42,314.66 506.46,318.03 505.58,319.30 " fill="none" stroke="#6a6a6a" stroke-width="1.3" stroke-linecap="round" opacity="0.9"/>
<path d="M514.22,303.30 C513.66,304.99 512.30,310.46 510.86,313.41 C509.42,316.36 506.46,319.73 505.58,321.00 " fill="none" stroke="#fafafa" stroke-width="1.6" stroke-linecap="round" opacity="0.9"/>
<path d="M516.14,309.18 C515.58,310.66 514.22,315.40 512.78,318.03 C511.34,320.67 508.38,323.83 507.50,324.98 " fill="none" stroke="#6a6a6a" stroke-width="1.3" stroke-linecap="round" opacity="0.9"/>
<path d="M516.14,310.88 C515.58,312.36 514.22,317.10 512.78,319.73 C511.34,322.37 508.38,325.53 507.50,326.68 " fill="none" stroke="#fafafa" stroke-width="1.6" stroke-linecap="round" opacity="0.9"/>
<path d="M506.30,301.60 C505.90,302.44 504.30,305.81 503.90,306.66 " fill="none" stroke="#6a6a6a" stroke-width="1.3" stroke-linecap="round" opacity="0.9"/>
<path d="M506.30,303.30 C505.90,304.14 504.30,307.51 503.90,308.36 " fill="none" stroke="#fafafa" stroke-width="1.6" stroke-linecap="round" opacity="0.9"/>
<path d="M513.50,282.64 C513.90,284.22 515.50,290.54 515.90,292.12 " fill="none" stroke="#6a6a6a" stroke-width="1.3" stroke-linecap="round" opacity="0.9"/>
<path d="M513.50,284.34 C513.90,285.92 515.50,292.24 515.90,293.82 " fill="none" stroke="#fafafa" stroke-width="1.6" stroke-linecap="round" opacity="0.9"/>
<path d="M495.50,314.24 C496.10,315.29 498.30,317.93 499.10,320.56 C499.90,323.19 500.10,328.46 500.30,330.04 " fill="none" stroke="#6a6a6a" stroke-width="1.3" stroke-linecap="round" opacity="0.9"/>
<path d="M495.50,315.94 C496.10,316.99 498.30,319.63 499.10,322.26 C499.90,324.89 500.10,330.16 500.30,331.74 " fill="none" stroke="#fafafa" stroke-width="1.6" stroke-linecap="round" opacity="0.9"/>
</g>
<path d="M495.93,270.76 C497.36,271.00 501.98,271.23 504.50,272.21 C507.02,273.19 509.16,274.32 511.05,276.64 C512.94,278.95 514.83,282.75 515.84,286.12 C516.85,289.49 517.02,293.54 517.10,296.86 C517.18,300.18 516.93,302.92 516.34,306.02 C515.76,309.13 514.92,312.55 513.57,315.50 C512.23,318.45 510.34,321.35 508.28,323.72 C506.22,326.09 503.53,328.25 501.22,329.72 C498.91,331.20 495.55,332.09 494.42,332.57 " fill="none" stroke="#8a8a8a" stroke-width="0.4"/>
<path d="M467.9,229 C468.1,233 468.6,237 469.6,240" fill="none" stroke="#4a9ad6" stroke-width="1.1"/>
<path d="M516.6,228 C516.4,232 515.8,236 514.9,239" fill="none" stroke="#4a9ad6" stroke-width="1.1"/>
<path d="M469.3,309 C471.5,312.5 475,314.5 480,315.6" fill="none" stroke="#3f94d4" stroke-width="2.4"/>
<path d="M502.8,315.5 C508,315 512,312.5 515.5,308" fill="none" stroke="#3f94d4" stroke-width="2.4"/>
<text x="452.30" y="213.30" font-size="7" text-anchor="middle" fill="#333" font-weight="normal"><tspan font-style="italic">p</tspan>=0.0128</text>
<line x1="455.60" y1="214.60" x2="467.90" y2="234.10" stroke="#333" stroke-width="0.7"/>
<text x="518.90" y="207.00" font-size="7" text-anchor="middle" fill="#333" font-weight="normal"><tspan font-style="italic">p</tspan>=0.0025</text>
<line x1="519.00" y1="210.50" x2="516.20" y2="238.90" stroke="#333" stroke-width="0.7"/>
<text x="533.00" y="328.50" font-size="7" text-anchor="middle" fill="#333" font-weight="normal"><tspan font-style="italic">p</tspan>=0.0004</text>
<line x1="519.80" y1="323.70" x2="512.40" y2="310.80" stroke="#333" stroke-width="0.7"/>
<text x="474.50" y="346.20" font-size="7" text-anchor="middle" fill="#333" font-weight="normal"><tspan font-style="italic">p</tspan>=0.0188</text>
<line x1="469.60" y1="341.40" x2="470.50" y2="315.70" stroke="#333" stroke-width="0.7"/>
<text x="522.00" y="346.20" font-size="7" text-anchor="middle" fill="#333" font-weight="normal"><tspan font-style="italic">p</tspan>=0.0004</text>
<line x1="508.20" y1="340.50" x2="507.60" y2="317.30" stroke="#333" stroke-width="0.7"/>
<path d="M215.70,455.43 C216.01,452.97 216.91,448.81 218.98,446.18 C221.05,443.55 224.47,441.67 228.14,439.65 C231.80,437.64 236.09,435.48 240.96,434.10 C245.83,432.72 251.57,431.99 257.35,431.37 C263.14,430.76 270.48,430.56 275.67,430.40 C280.86,430.24 284.22,429.93 288.50,430.40 C292.77,430.87 297.96,431.83 301.32,433.22 C304.68,434.62 306.98,437.23 308.65,438.78 C310.32,440.32 309.82,442.02 311.35,442.48 C312.87,442.93 315.51,440.89 317.81,441.50 C320.11,442.12 323.16,443.86 325.14,446.18 C327.11,448.50 328.61,452.06 329.67,455.43 C330.73,458.81 331.64,463.06 331.50,466.44 C331.36,469.82 330.17,473.23 328.80,475.69 C327.43,478.16 325.14,480.32 323.30,481.25 C321.47,482.17 319.95,481.86 317.81,481.25 C315.67,480.63 312.92,477.24 310.48,477.54 C308.04,477.85 306.21,481.25 303.15,483.10 C300.10,484.95 296.44,486.94 292.16,488.65 C287.89,490.35 282.08,492.40 277.50,493.32 C272.93,494.25 268.63,494.51 264.68,494.20 C260.73,493.89 256.68,492.85 253.79,491.47 C250.89,490.09 248.71,488.24 247.33,485.92 C245.94,483.60 246.41,480.17 245.49,477.54 C244.58,474.91 243.81,471.83 241.83,470.14 C239.85,468.45 236.83,468.32 233.63,467.41 C230.44,466.50 225.39,465.76 222.64,464.69 C219.89,463.61 218.30,462.53 217.15,460.99 C215.99,459.44 215.39,457.90 215.70,455.43 Z" fill="url(#lat)" stroke="#b4b4b4" stroke-width="0.8"/>
<clipPath id="lc215"><path d="M215.70,455.43 C216.01,452.97 216.91,448.81 218.98,446.18 C221.05,443.55 224.47,441.67 228.14,439.65 C231.80,437.64 236.09,435.48 240.96,434.10 C245.83,432.72 251.57,431.99 257.35,431.37 C263.14,430.76 270.48,430.56 275.67,430.40 C280.86,430.24 284.22,429.93 288.50,430.40 C292.77,430.87 297.96,431.83 301.32,433.22 C304.68,434.62 306.98,437.23 308.65,438.78 C310.32,440.32 309.82,442.02 311.35,442.48 C312.87,442.93 315.51,440.89 317.81,441.50 C320.11,442.12 323.16,443.86 325.14,446.18 C327.11,448.50 328.61,452.06 329.67,455.43 C330.73,458.81 331.64,463.06 331.50,466.44 C331.36,469.82 330.17,473.23 328.80,475.69 C327.43,478.16 325.14,480.32 323.30,481.25 C321.47,482.17 319.95,481.86 317.81,481.25 C315.67,480.63 312.92,477.24 310.48,477.54 C308.04,477.85 306.21,481.25 303.15,483.10 C300.10,484.95 296.44,486.94 292.16,488.65 C287.89,490.35 282.08,492.40 277.50,493.32 C272.93,494.25 268.63,494.51 264.68,494.20 C260.73,493.89 256.68,492.85 253.79,491.47 C250.89,490.09 248.71,488.24 247.33,485.92 C245.94,483.60 246.41,480.17 245.49,477.54 C244.58,474.91 243.81,471.83 241.83,470.14 C239.85,468.45 236.83,468.32 233.63,467.41 C230.44,466.50 225.39,465.76 222.64,464.69 C219.89,463.61 218.30,462.53 217.15,460.99 C215.99,459.44 215.39,457.90 215.70,455.43 Z"/></clipPath><g clip-path="url(#lc215)">
<path d="M215.70,455.43 C216.01,452.97 216.91,448.81 218.98,446.18 C221.05,443.55 224.47,441.67 228.14,439.65 C231.80,437.64 236.09,435.48 240.96,434.10 C245.83,432.72 251.57,431.99 257.35,431.37 C263.14,430.76 270.48,430.56 275.67,430.40 C280.86,430.24 284.22,429.93 288.50,430.40 C292.77,430.87 297.96,431.83 301.32,433.22 C304.68,434.62 306.98,437.23 308.65,438.78 C310.32,440.32 309.82,442.02 311.35,442.48 C312.87,442.93 315.51,440.89 317.81,441.50 C320.11,442.12 323.16,443.86 325.14,446.18 C327.11,448.50 328.61,452.06 329.67,455.43 C330.73,458.81 331.64,463.06 331.50,466.44 C331.36,469.82 330.17,473.23 328.80,475.69 C327.43,478.16 325.14,480.32 323.30,481.25 C321.47,482.17 319.95,481.86 317.81,481.25 C315.67,480.63 312.92,477.24 310.48,477.54 C308.04,477.85 306.21,481.25 303.15,483.10 C300.10,484.95 296.44,486.94 292.16,488.65 C287.89,490.35 282.08,492.40 277.50,493.32 C272.93,494.25 268.63,494.51 264.68,494.20 C260.73,493.89 256.68,492.85 253.79,491.47 C250.89,490.09 248.71,488.24 247.33,485.92 C245.94,483.60 246.41,480.17 245.49,477.54 C244.58,474.91 243.81,471.83 241.83,470.14 C239.85,468.45 236.83,468.32 233.63,467.41 C230.44,466.50 225.39,465.76 222.64,464.69 C219.89,463.61 218.30,462.53 217.15,460.99 C215.99,459.44 215.39,457.90 215.70,455.43 Z" fill="none" stroke="#b4b4b4" stroke-width="5" opacity="0.45"/>
<path d="M241.83,470.14 C243.55,469.12 248.34,465.84 252.15,464.00 C255.96,462.17 260.34,460.27 264.68,459.13 C269.02,458.00 273.36,457.35 278.18,457.19 C283.00,457.02 291.04,458.00 293.61,458.16 " fill="none" stroke="#b9b9b9" stroke-width="1.1" opacity="0.9"/>
<path d="M241.83,471.44 C243.55,470.42 248.34,467.14 252.15,465.30 C255.96,463.47 260.34,461.57 264.68,460.43 C269.02,459.30 273.36,458.65 278.18,458.49 C283.00,458.32 291.04,459.30 293.61,459.46 " fill="none" stroke="#f2f2f2" stroke-width="1.0" opacity="0.9"/>
<path d="M308.65,438.78 C308.23,440.38 306.72,444.86 306.14,448.42 C305.56,451.98 305.02,456.37 305.18,460.11 C305.34,463.84 306.22,467.92 307.11,470.82 C307.99,473.73 309.92,476.42 310.48,477.54 " fill="none" stroke="#b9b9b9" stroke-width="1.1" opacity="0.9"/>
<path d="M308.65,440.08 C308.23,441.68 306.72,446.16 306.14,449.72 C305.56,453.28 305.02,457.67 305.18,461.41 C305.34,465.14 306.22,469.22 307.11,472.12 C307.99,475.03 309.92,477.72 310.48,478.84 " fill="none" stroke="#f2f2f2" stroke-width="1.0" opacity="0.9"/>
<path d="M247.33,477.64 C249.74,476.99 256.65,474.72 261.79,473.75 C266.93,472.77 272.88,472.12 278.18,471.80 C283.48,471.47 289.11,471.31 293.61,471.80 C298.11,472.28 303.25,474.23 305.18,474.72 " fill="none" stroke="#b9b9b9" stroke-width="1.1" opacity="0.9"/>
<path d="M247.33,478.94 C249.74,478.29 256.65,476.02 261.79,475.05 C266.93,474.07 272.88,473.42 278.18,473.10 C283.48,472.77 289.11,472.61 293.61,473.10 C298.11,473.58 303.25,475.53 305.18,476.02 " fill="none" stroke="#f2f2f2" stroke-width="1.0" opacity="0.9"/>
<path d="M224.18,451.34 C226.76,450.04 233.83,445.66 239.61,443.55 C245.40,441.44 251.99,439.82 258.90,438.68 C265.81,437.54 274.00,436.73 281.07,436.73 C288.14,436.73 297.95,438.35 301.32,438.68 " fill="none" stroke="#b9b9b9" stroke-width="1.1" opacity="0.9"/>
<path d="M224.18,452.64 C226.76,451.34 233.83,446.96 239.61,444.85 C245.40,442.74 251.99,441.12 258.90,439.98 C265.81,438.84 274.00,438.03 281.07,438.03 C288.14,438.03 297.95,439.65 301.32,439.98 " fill="none" stroke="#f2f2f2" stroke-width="1.0" opacity="0.9"/>
<path d="M228.04,458.16 C230.93,457.35 238.97,454.91 245.40,453.29 C251.83,451.67 259.54,449.39 266.61,448.42 C273.68,447.45 281.72,447.12 287.82,447.45 C293.93,447.77 300.68,449.88 303.25,450.37 " fill="none" stroke="#b9b9b9" stroke-width="1.1" opacity="0.9"/>
<path d="M228.04,459.46 C230.93,458.65 238.97,456.21 245.40,454.59 C251.83,452.97 259.54,450.69 266.61,449.72 C273.68,448.75 281.72,448.42 287.82,448.75 C293.93,449.07 300.68,451.18 303.25,451.67 " fill="none" stroke="#f2f2f2" stroke-width="1.0" opacity="0.9"/>
<path d="M256.97,483.49 C259.54,483.16 267.25,482.19 272.39,481.54 C277.54,480.89 283.00,479.91 287.82,479.59 C292.64,479.26 299.07,479.59 301.32,479.59 " fill="none" stroke="#b9b9b9" stroke-width="1.1" opacity="0.9"/>
<path d="M256.97,484.79 C259.54,484.46 267.25,483.49 272.39,482.84 C277.54,482.19 283.00,481.21 287.82,480.89 C292.64,480.56 299.07,480.89 301.32,480.89 " fill="none" stroke="#f2f2f2" stroke-width="1.0" opacity="0.9"/>
<path d="M314.82,448.42 C315.94,449.72 319.80,453.29 321.57,456.21 C323.34,459.13 325.10,462.87 325.43,465.95 C325.75,469.04 323.82,473.26 323.50,474.72 " fill="none" stroke="#b9b9b9" stroke-width="1.1" opacity="0.9"/>
<path d="M314.82,449.72 C315.94,451.02 319.80,454.59 321.57,457.51 C323.34,460.43 325.10,464.17 325.43,467.25 C325.75,470.34 323.82,474.56 323.50,476.02 " fill="none" stroke="#f2f2f2" stroke-width="1.0" opacity="0.9"/>
<path d="M270.47,436.73 C271.75,438.35 275.93,443.22 278.18,446.47 C280.43,449.72 283.00,454.59 283.97,456.21 " fill="none" stroke="#b9b9b9" stroke-width="1.1" opacity="0.9"/>
<path d="M270.47,438.03 C271.75,439.65 275.93,444.52 278.18,447.77 C280.43,451.02 283.00,455.89 283.97,457.51 " fill="none" stroke="#f2f2f2" stroke-width="1.0" opacity="0.9"/>
<path d="M285.89,434.78 C287.18,436.41 291.68,441.28 293.61,444.52 C295.54,447.77 296.82,452.64 297.46,454.26 " fill="none" stroke="#b9b9b9" stroke-width="1.1" opacity="0.9"/>
<path d="M285.89,436.08 C287.18,437.71 291.68,442.58 293.61,445.82 C295.54,449.07 296.82,453.94 297.46,455.56 " fill="none" stroke="#f2f2f2" stroke-width="1.0" opacity="0.9"/>
</g>
<line x1="230.90" y1="441.30" x2="240.40" y2="439.00" stroke="#d8a2ab" stroke-width="1.3" opacity="0.75"/>
<line x1="240.40" y1="439.00" x2="249.50" y2="442.40" stroke="#d8a2ab" stroke-width="1.3" opacity="0.75"/>
<line x1="244.20" y1="439.00" x2="249.50" y2="442.40" stroke="#d8a2ab" stroke-width="1.3" opacity="0.75"/>
<line x1="258.00" y1="436.70" x2="249.50" y2="442.40" stroke="#d8a2ab" stroke-width="1.3" opacity="0.75"/>
<line x1="258.00" y1="436.70" x2="245.10" y2="469.70" stroke="#d8a2ab" stroke-width="1.3" opacity="0.75"/>
<line x1="249.50" y1="442.40" x2="232.40" y2="454.20" stroke="#d8a2ab" stroke-width="1.3" opacity="0.75"/>
<line x1="238.50" y1="446.60" x2="236.60" y2="458.90" stroke="#d8a2ab" stroke-width="1.3" opacity="0.75"/>
<line x1="230.90" y1="441.30" x2="224.20" y2="458.00" stroke="#d8a2ab" stroke-width="1.3" opacity="0.75"/>
<line x1="232.40" y1="454.20" x2="237.00" y2="463.30" stroke="#d8a2ab" stroke-width="1.3" opacity="0.75"/>
<line x1="236.60" y1="458.90" x2="245.10" y2="469.70" stroke="#d8a2ab" stroke-width="1.3" opacity="0.75"/>
<line x1="263.50" y1="446.60" x2="301.10" y2="452.60" stroke="#d8a2ab" stroke-width="1.3" opacity="0.75"/>
<line x1="238.50" y1="446.60" x2="283.10" y2="455.10" stroke="#d8a2ab" stroke-width="1.3" opacity="0.75"/>
<line x1="237.00" y1="463.30" x2="259.70" y2="465.90" stroke="#d8a2ab" stroke-width="1.3" opacity="0.75"/>
<line x1="245.10" y1="469.70" x2="273.00" y2="472.80" stroke="#d8a2ab" stroke-width="1.3" opacity="0.75"/>
<line x1="247.00" y1="471.60" x2="279.80" y2="477.90" stroke="#d8a2ab" stroke-width="1.3" opacity="0.75"/>
<line x1="244.20" y1="439.00" x2="281.70" y2="459.50" stroke="#d8a2ab" stroke-width="1.3" opacity="0.75"/>
<line x1="236.60" y1="458.90" x2="301.10" y2="452.60" stroke="#d8a2ab" stroke-width="1.3" opacity="0.75"/>
<line x1="258.00" y1="436.70" x2="237.00" y2="463.30" stroke="#d8a2ab" stroke-width="1.3" opacity="0.75"/>
<line x1="240.40" y1="439.00" x2="247.00" y2="471.60" stroke="#d8a2ab" stroke-width="1.3" opacity="0.75"/>
<line x1="249.50" y1="442.40" x2="265.40" y2="467.10" stroke="#d8a2ab" stroke-width="1.3" opacity="0.75"/>
<line x1="283.10" y1="455.10" x2="279.80" y2="477.90" stroke="#d8a2ab" stroke-width="1.3" opacity="0.75"/>
<line x1="281.70" y1="459.50" x2="258.40" y2="470.30" stroke="#d8a2ab" stroke-width="1.3" opacity="0.75"/>
<line x1="301.10" y1="452.60" x2="302.00" y2="475.60" stroke="#d8a2ab" stroke-width="1.3" opacity="0.75"/>
<line x1="301.10" y1="452.60" x2="319.70" y2="464.20" stroke="#d8a2ab" stroke-width="1.3" opacity="0.75"/>
<line x1="263.50" y1="446.60" x2="232.40" y2="454.20" stroke="#d8a2ab" stroke-width="1.3" opacity="0.75"/>
<line x1="224.20" y1="458.00" x2="238.50" y2="446.60" stroke="#d8a2ab" stroke-width="1.3" opacity="0.75"/>
<line x1="245.10" y1="469.70" x2="319.70" y2="464.20" stroke="#d8a2ab" stroke-width="1.3" opacity="0.75"/>
<line x1="250.80" y1="469.00" x2="281.70" y2="459.50" stroke="#d8a2ab" stroke-width="1.3" opacity="0.75"/>
<circle cx="230.90" cy="441.30" r="2.10" fill="#d03a3a" stroke="#8a2020" stroke-width="0.2"/>
<circle cx="240.40" cy="439.00" r="2.10" fill="#d03a3a" stroke="#8a2020" stroke-width="0.2"/>
<circle cx="244.20" cy="439.00" r="2.10" fill="#d03a3a" stroke="#8a2020" stroke-width="0.2"/>
<circle cx="258.00" cy="436.70" r="2.10" fill="#d03a3a" stroke="#8a2020" stroke-width="0.2"/>
<circle cx="249.50" cy="442.40" r="2.10" fill="#d03a3a" stroke="#8a2020" stroke-width="0.2"/>
<circle cx="238.50" cy="446.60" r="2.10" fill="#d03a3a" stroke="#8a2020" stroke-width="0.2"/>
<circle cx="263.50" cy="446.60" r="2.10" fill="#d03a3a" stroke="#8a2020" stroke-width="0.2"/>
<circle cx="232.40" cy="454.20" r="2.10" fill="#d03a3a" stroke="#8a2020" stroke-width="0.2"/>
<circle cx="236.60" cy="458.90" r="2.10" fill="#d03a3a" stroke="#8a2020" stroke-width="0.2"/>
<circle cx="237.00" cy="463.30" r="2.10" fill="#d03a3a" stroke="#8a2020" stroke-width="0.2"/>
<circle cx="224.20" cy="458.00" r="2.10" fill="#d03a3a" stroke="#8a2020" stroke-width="0.2"/>
<circle cx="245.10" cy="469.70" r="2.10" fill="#d03a3a" stroke="#8a2020" stroke-width="0.2"/>
<circle cx="247.00" cy="471.60" r="2.10" fill="#d03a3a" stroke="#8a2020" stroke-width="0.2"/>
<circle cx="283.10" cy="455.10" r="2.10" fill="#6aa84f"/>
<circle cx="281.70" cy="459.50" r="2.10" fill="#6aa84f"/>
<circle cx="265.40" cy="467.10" r="2.10" fill="#6aa84f"/>
<circle cx="273.00" cy="472.80" r="2.10" fill="#6aa84f"/>
<circle cx="259.70" cy="465.90" r="2.10" fill="#a98bc8"/>
<circle cx="258.40" cy="470.30" r="2.10" fill="#a98bc8"/>
<circle cx="250.80" cy="469.00" r="2.10" fill="#a98bc8"/>
<circle cx="279.80" cy="477.90" r="2.10" fill="#a98bc8"/>
<circle cx="301.10" cy="452.60" r="2.10" fill="#33b5cf"/>
<circle cx="319.70" cy="464.20" r="2.10" fill="#33b5cf"/>
<circle cx="302.00" cy="475.60" r="2.10" fill="#33b5cf"/>
<circle cx="302.00" cy="447.10" r="2.10" fill="#e8b040"/>
<path d="M547.20,459.20 C547.52,456.67 548.45,452.40 550.60,449.70 C552.75,447.00 556.30,445.07 560.10,443.00 C563.90,440.93 568.35,438.72 573.40,437.30 C578.45,435.88 584.40,435.13 590.40,434.50 C596.40,433.87 604.02,433.67 609.40,433.50 C614.78,433.33 618.27,433.02 622.70,433.50 C627.13,433.98 632.52,434.97 636.00,436.40 C639.48,437.83 641.87,440.52 643.60,442.10 C645.33,443.68 644.82,445.43 646.40,445.90 C647.98,446.37 650.72,444.27 653.10,444.90 C655.48,445.53 658.65,447.32 660.70,449.70 C662.75,452.08 664.30,455.73 665.40,459.20 C666.50,462.67 667.45,467.03 667.30,470.50 C667.15,473.97 665.92,477.47 664.50,480.00 C663.08,482.53 660.70,484.75 658.80,485.70 C656.90,486.65 655.32,486.33 653.10,485.70 C650.88,485.07 648.03,481.58 645.50,481.90 C642.97,482.22 641.07,485.70 637.90,487.60 C634.73,489.50 630.93,491.55 626.50,493.30 C622.07,495.05 616.05,497.15 611.30,498.10 C606.55,499.05 602.10,499.32 598.00,499.00 C593.90,498.68 589.70,497.62 586.70,496.20 C583.70,494.78 581.43,492.88 580.00,490.50 C578.57,488.12 579.05,484.60 578.10,481.90 C577.15,479.20 576.35,476.03 574.30,474.30 C572.25,472.57 569.12,472.43 565.80,471.50 C562.48,470.57 557.25,469.80 554.40,468.70 C551.55,467.60 549.90,466.48 548.70,464.90 C547.50,463.32 546.88,461.73 547.20,459.20 Z" fill="url(#lat)" stroke="#b4b4b4" stroke-width="0.8"/>
<clipPath id="lc547"><path d="M547.20,459.20 C547.52,456.67 548.45,452.40 550.60,449.70 C552.75,447.00 556.30,445.07 560.10,443.00 C563.90,440.93 568.35,438.72 573.40,437.30 C578.45,435.88 584.40,435.13 590.40,434.50 C596.40,433.87 604.02,433.67 609.40,433.50 C614.78,433.33 618.27,433.02 622.70,433.50 C627.13,433.98 632.52,434.97 636.00,436.40 C639.48,437.83 641.87,440.52 643.60,442.10 C645.33,443.68 644.82,445.43 646.40,445.90 C647.98,446.37 650.72,444.27 653.10,444.90 C655.48,445.53 658.65,447.32 660.70,449.70 C662.75,452.08 664.30,455.73 665.40,459.20 C666.50,462.67 667.45,467.03 667.30,470.50 C667.15,473.97 665.92,477.47 664.50,480.00 C663.08,482.53 660.70,484.75 658.80,485.70 C656.90,486.65 655.32,486.33 653.10,485.70 C650.88,485.07 648.03,481.58 645.50,481.90 C642.97,482.22 641.07,485.70 637.90,487.60 C634.73,489.50 630.93,491.55 626.50,493.30 C622.07,495.05 616.05,497.15 611.30,498.10 C606.55,499.05 602.10,499.32 598.00,499.00 C593.90,498.68 589.70,497.62 586.70,496.20 C583.70,494.78 581.43,492.88 580.00,490.50 C578.57,488.12 579.05,484.60 578.10,481.90 C577.15,479.20 576.35,476.03 574.30,474.30 C572.25,472.57 569.12,472.43 565.80,471.50 C562.48,470.57 557.25,469.80 554.40,468.70 C551.55,467.60 549.90,466.48 548.70,464.90 C547.50,463.32 546.88,461.73 547.20,459.20 Z"/></clipPath><g clip-path="url(#lc547)">
<path d="M547.20,459.20 C547.52,456.67 548.45,452.40 550.60,449.70 C552.75,447.00 556.30,445.07 560.10,443.00 C563.90,440.93 568.35,438.72 573.40,437.30 C578.45,435.88 584.40,435.13 590.40,434.50 C596.40,433.87 604.02,433.67 609.40,433.50 C614.78,433.33 618.27,433.02 622.70,433.50 C627.13,433.98 632.52,434.97 636.00,436.40 C639.48,437.83 641.87,440.52 643.60,442.10 C645.33,443.68 644.82,445.43 646.40,445.90 C647.98,446.37 650.72,444.27 653.10,444.90 C655.48,445.53 658.65,447.32 660.70,449.70 C662.75,452.08 664.30,455.73 665.40,459.20 C666.50,462.67 667.45,467.03 667.30,470.50 C667.15,473.97 665.92,477.47 664.50,480.00 C663.08,482.53 660.70,484.75 658.80,485.70 C656.90,486.65 655.32,486.33 653.10,485.70 C650.88,485.07 648.03,481.58 645.50,481.90 C642.97,482.22 641.07,485.70 637.90,487.60 C634.73,489.50 630.93,491.55 626.50,493.30 C622.07,495.05 616.05,497.15 611.30,498.10 C606.55,499.05 602.10,499.32 598.00,499.00 C593.90,498.68 589.70,497.62 586.70,496.20 C583.70,494.78 581.43,492.88 580.00,490.50 C578.57,488.12 579.05,484.60 578.10,481.90 C577.15,479.20 576.35,476.03 574.30,474.30 C572.25,472.57 569.12,472.43 565.80,471.50 C562.48,470.57 557.25,469.80 554.40,468.70 C551.55,467.60 549.90,466.48 548.70,464.90 C547.50,463.32 546.88,461.73 547.20,459.20 Z" fill="none" stroke="#b4b4b4" stroke-width="5" opacity="0.45"/>
<path d="M574.30,474.30 C576.08,473.25 581.05,469.88 585.00,468.00 C588.95,466.12 593.50,464.17 598.00,463.00 C602.50,461.83 607.00,461.17 612.00,461.00 C617.00,460.83 625.33,461.83 628.00,462.00 " fill="none" stroke="#b9b9b9" stroke-width="1.1" opacity="0.9"/>
<path d="M574.30,475.60 C576.08,474.55 581.05,471.18 585.00,469.30 C588.95,467.42 593.50,465.47 598.00,464.30 C602.50,463.13 607.00,462.47 612.00,462.30 C617.00,462.13 625.33,463.13 628.00,463.30 " fill="none" stroke="#f2f2f2" stroke-width="1.0" opacity="0.9"/>
<path d="M643.60,442.10 C643.17,443.75 641.60,448.35 641.00,452.00 C640.40,455.65 639.83,460.17 640.00,464.00 C640.17,467.83 641.08,472.02 642.00,475.00 C642.92,477.98 644.92,480.75 645.50,481.90 " fill="none" stroke="#b9b9b9" stroke-width="1.1" opacity="0.9"/>
<path d="M643.60,443.40 C643.17,445.05 641.60,449.65 641.00,453.30 C640.40,456.95 639.83,461.47 640.00,465.30 C640.17,469.13 641.08,473.32 642.00,476.30 C642.92,479.28 644.92,482.05 645.50,483.20 " fill="none" stroke="#f2f2f2" stroke-width="1.0" opacity="0.9"/>
<path d="M580.00,482.00 C582.50,481.33 589.67,479.00 595.00,478.00 C600.33,477.00 606.50,476.33 612.00,476.00 C617.50,475.67 623.33,475.50 628.00,476.00 C632.67,476.50 638.00,478.50 640.00,479.00 " fill="none" stroke="#b9b9b9" stroke-width="1.1" opacity="0.9"/>
<path d="M580.00,483.30 C582.50,482.63 589.67,480.30 595.00,479.30 C600.33,478.30 606.50,477.63 612.00,477.30 C617.50,476.97 623.33,476.80 628.00,477.30 C632.67,477.80 638.00,479.80 640.00,480.30 " fill="none" stroke="#f2f2f2" stroke-width="1.0" opacity="0.9"/>
<path d="M556.00,455.00 C558.67,453.67 566.00,449.17 572.00,447.00 C578.00,444.83 584.83,443.17 592.00,442.00 C599.17,440.83 607.67,440.00 615.00,440.00 C622.33,440.00 632.50,441.67 636.00,442.00 " fill="none" stroke="#b9b9b9" stroke-width="1.1" opacity="0.9"/>
<path d="M556.00,456.30 C558.67,454.97 566.00,450.47 572.00,448.30 C578.00,446.13 584.83,444.47 592.00,443.30 C599.17,442.13 607.67,441.30 615.00,441.30 C622.33,441.30 632.50,442.97 636.00,443.30 " fill="none" stroke="#f2f2f2" stroke-width="1.0" opacity="0.9"/>
<path d="M560.00,462.00 C563.00,461.17 571.33,458.67 578.00,457.00 C584.67,455.33 592.67,453.00 600.00,452.00 C607.33,451.00 615.67,450.67 622.00,451.00 C628.33,451.33 635.33,453.50 638.00,454.00 " fill="none" stroke="#b9b9b9" stroke-width="1.1" opacity="0.9"/>
<path d="M560.00,463.30 C563.00,462.47 571.33,459.97 578.00,458.30 C584.67,456.63 592.67,454.30 600.00,453.30 C607.33,452.30 615.67,451.97 622.00,452.30 C628.33,452.63 635.33,454.80 638.00,455.30 " fill="none" stroke="#f2f2f2" stroke-width="1.0" opacity="0.9"/>
<path d="M590.00,488.00 C592.67,487.67 600.67,486.67 606.00,486.00 C611.33,485.33 617.00,484.33 622.00,484.00 C627.00,483.67 633.67,484.00 636.00,484.00 " fill="none" stroke="#b9b9b9" stroke-width="1.1" opacity="0.9"/>
<path d="M590.00,489.30 C592.67,488.97 600.67,487.97 606.00,487.30 C611.33,486.63 617.00,485.63 622.00,485.30 C627.00,484.97 633.67,485.30 636.00,485.30 " fill="none" stroke="#f2f2f2" stroke-width="1.0" opacity="0.9"/>
<path d="M650.00,452.00 C651.17,453.33 655.17,457.00 657.00,460.00 C658.83,463.00 660.67,466.83 661.00,470.00 C661.33,473.17 659.33,477.50 659.00,479.00 " fill="none" stroke="#b9b9b9" stroke-width="1.1" opacity="0.9"/>
<path d="M650.00,453.30 C651.17,454.63 655.17,458.30 657.00,461.30 C658.83,464.30 660.67,468.13 661.00,471.30 C661.33,474.47 659.33,478.80 659.00,480.30 " fill="none" stroke="#f2f2f2" stroke-width="1.0" opacity="0.9"/>
<path d="M604.00,440.00 C605.33,441.67 609.67,446.67 612.00,450.00 C614.33,453.33 617.00,458.33 618.00,460.00 " fill="none" stroke="#b9b9b9" stroke-width="1.1" opacity="0.9"/>
<path d="M604.00,441.30 C605.33,442.97 609.67,447.97 612.00,451.30 C614.33,454.63 617.00,459.63 618.00,461.30 " fill="none" stroke="#f2f2f2" stroke-width="1.0" opacity="0.9"/>
<path d="M620.00,438.00 C621.33,439.67 626.00,444.67 628.00,448.00 C630.00,451.33 631.33,456.33 632.00,458.00 " fill="none" stroke="#b9b9b9" stroke-width="1.1" opacity="0.9"/>
<path d="M620.00,439.30 C621.33,440.97 626.00,445.97 628.00,449.30 C630.00,452.63 631.33,457.63 632.00,459.30 " fill="none" stroke="#f2f2f2" stroke-width="1.0" opacity="0.9"/>
</g>
<line x1="573.37" y1="442.46" x2="598.42" y2="463.91" stroke="#92c6d6" stroke-width="1.1" opacity="0.85"/>
<line x1="573.37" y1="442.46" x2="599.56" y2="473.40" stroke="#92c6d6" stroke-width="1.1" opacity="0.85"/>
<line x1="591.02" y1="439.80" x2="633.15" y2="439.23" stroke="#92c6d6" stroke-width="1.1" opacity="0.85"/>
<line x1="591.02" y1="439.80" x2="615.12" y2="441.70" stroke="#92c6d6" stroke-width="1.1" opacity="0.85"/>
<line x1="591.02" y1="439.80" x2="635.43" y2="455.75" stroke="#92c6d6" stroke-width="1.1" opacity="0.85"/>
<line x1="596.71" y1="447.40" x2="628.78" y2="447.77" stroke="#92c6d6" stroke-width="1.1" opacity="0.85"/>
<line x1="596.71" y1="447.40" x2="639.79" y2="453.09" stroke="#92c6d6" stroke-width="1.1" opacity="0.85"/>
<line x1="596.71" y1="449.29" x2="624.23" y2="444.93" stroke="#92c6d6" stroke-width="1.1" opacity="0.85"/>
<line x1="596.71" y1="449.29" x2="643.59" y2="458.78" stroke="#92c6d6" stroke-width="1.1" opacity="0.85"/>
<line x1="577.73" y1="469.03" x2="627.46" y2="453.47" stroke="#92c6d6" stroke-width="1.1" opacity="0.85"/>
<line x1="577.73" y1="469.03" x2="635.43" y2="455.75" stroke="#92c6d6" stroke-width="1.1" opacity="0.85"/>
<line x1="598.42" y1="463.91" x2="628.97" y2="457.26" stroke="#92c6d6" stroke-width="1.1" opacity="0.85"/>
<line x1="598.42" y1="463.91" x2="644.54" y2="469.60" stroke="#92c6d6" stroke-width="1.1" opacity="0.85"/>
<line x1="598.04" y1="469.03" x2="629.35" y2="464.86" stroke="#92c6d6" stroke-width="1.1" opacity="0.85"/>
<line x1="598.04" y1="469.03" x2="643.59" y2="458.78" stroke="#92c6d6" stroke-width="1.1" opacity="0.85"/>
<line x1="599.18" y1="471.12" x2="644.54" y2="469.60" stroke="#92c6d6" stroke-width="1.1" opacity="0.85"/>
<line x1="599.56" y1="473.40" x2="636.00" y2="479.66" stroke="#92c6d6" stroke-width="1.1" opacity="0.85"/>
<line x1="597.28" y1="476.62" x2="628.97" y2="457.26" stroke="#92c6d6" stroke-width="1.1" opacity="0.85"/>
<line x1="583.43" y1="477.76" x2="615.12" y2="441.70" stroke="#92c6d6" stroke-width="1.1" opacity="0.85"/>
<line x1="580.20" y1="485.73" x2="596.71" y2="449.29" stroke="#92c6d6" stroke-width="1.1" opacity="0.85"/>
<line x1="591.40" y1="474.72" x2="628.78" y2="447.77" stroke="#92c6d6" stroke-width="1.1" opacity="0.85"/>
<line x1="599.18" y1="471.12" x2="624.23" y2="444.93" stroke="#92c6d6" stroke-width="1.1" opacity="0.85"/>
<line x1="597.28" y1="476.62" x2="636.00" y2="479.66" stroke="#92c6d6" stroke-width="1.1" opacity="0.85"/>
<line x1="573.37" y1="442.46" x2="627.46" y2="453.47" stroke="#92c6d6" stroke-width="1.1" opacity="0.85"/>
<line x1="581.91" y1="486.68" x2="598.42" y2="463.91" stroke="#92c6d6" stroke-width="1.1" opacity="0.85"/>
<line x1="615.12" y1="441.70" x2="633.15" y2="439.23" stroke="#92c6d6" stroke-width="1.1" opacity="0.85"/>
<circle cx="573.37" cy="442.46" r="2.10" fill="#d04040"/>
<circle cx="596.71" cy="447.40" r="2.10" fill="#d04040"/>
<circle cx="596.71" cy="449.29" r="2.10" fill="#d04040"/>
<circle cx="577.73" cy="469.03" r="2.10" fill="#d04040"/>
<circle cx="591.02" cy="439.80" r="2.10" fill="#e9b23c"/>
<circle cx="615.12" cy="441.70" r="2.10" fill="#e9b23c"/>
<circle cx="633.15" cy="439.23" r="2.10" fill="#e9b23c"/>
<circle cx="624.23" cy="444.93" r="2.10" fill="#e9b23c"/>
<circle cx="628.78" cy="447.77" r="2.10" fill="#e9b23c"/>
<circle cx="627.46" cy="453.47" r="2.10" fill="#e9b23c"/>
<circle cx="628.97" cy="457.26" r="2.10" fill="#e9b23c"/>
<circle cx="639.79" cy="453.09" r="2.10" fill="#e9b23c"/>
<circle cx="629.35" cy="464.86" r="2.10" fill="#e9b23c"/>
<circle cx="598.42" cy="463.91" r="2.10" fill="#e9b23c"/>
<circle cx="635.43" cy="455.75" r="2.10" fill="#3fbcd4"/>
<circle cx="643.59" cy="458.78" r="2.10" fill="#3fbcd4"/>
<circle cx="644.54" cy="469.60" r="2.10" fill="#3fbcd4"/>
<circle cx="636.00" cy="479.66" r="2.10" fill="#3fbcd4"/>
<circle cx="598.04" cy="469.03" r="2.10" fill="#5fa040"/>
<circle cx="599.18" cy="471.12" r="2.10" fill="#5fa040"/>
<circle cx="599.56" cy="473.40" r="2.10" fill="#5fa040"/>
<circle cx="597.28" cy="476.62" r="2.10" fill="#5fa040"/>
<circle cx="583.43" cy="477.76" r="2.10" fill="#5fa040"/>
<circle cx="580.20" cy="485.73" r="2.10" fill="#5fa040"/>
<circle cx="581.91" cy="486.68" r="2.10" fill="#5fa040"/>
<circle cx="591.40" cy="474.72" r="2.10" fill="#a98bc8"/>
</svg>
</body></html>
